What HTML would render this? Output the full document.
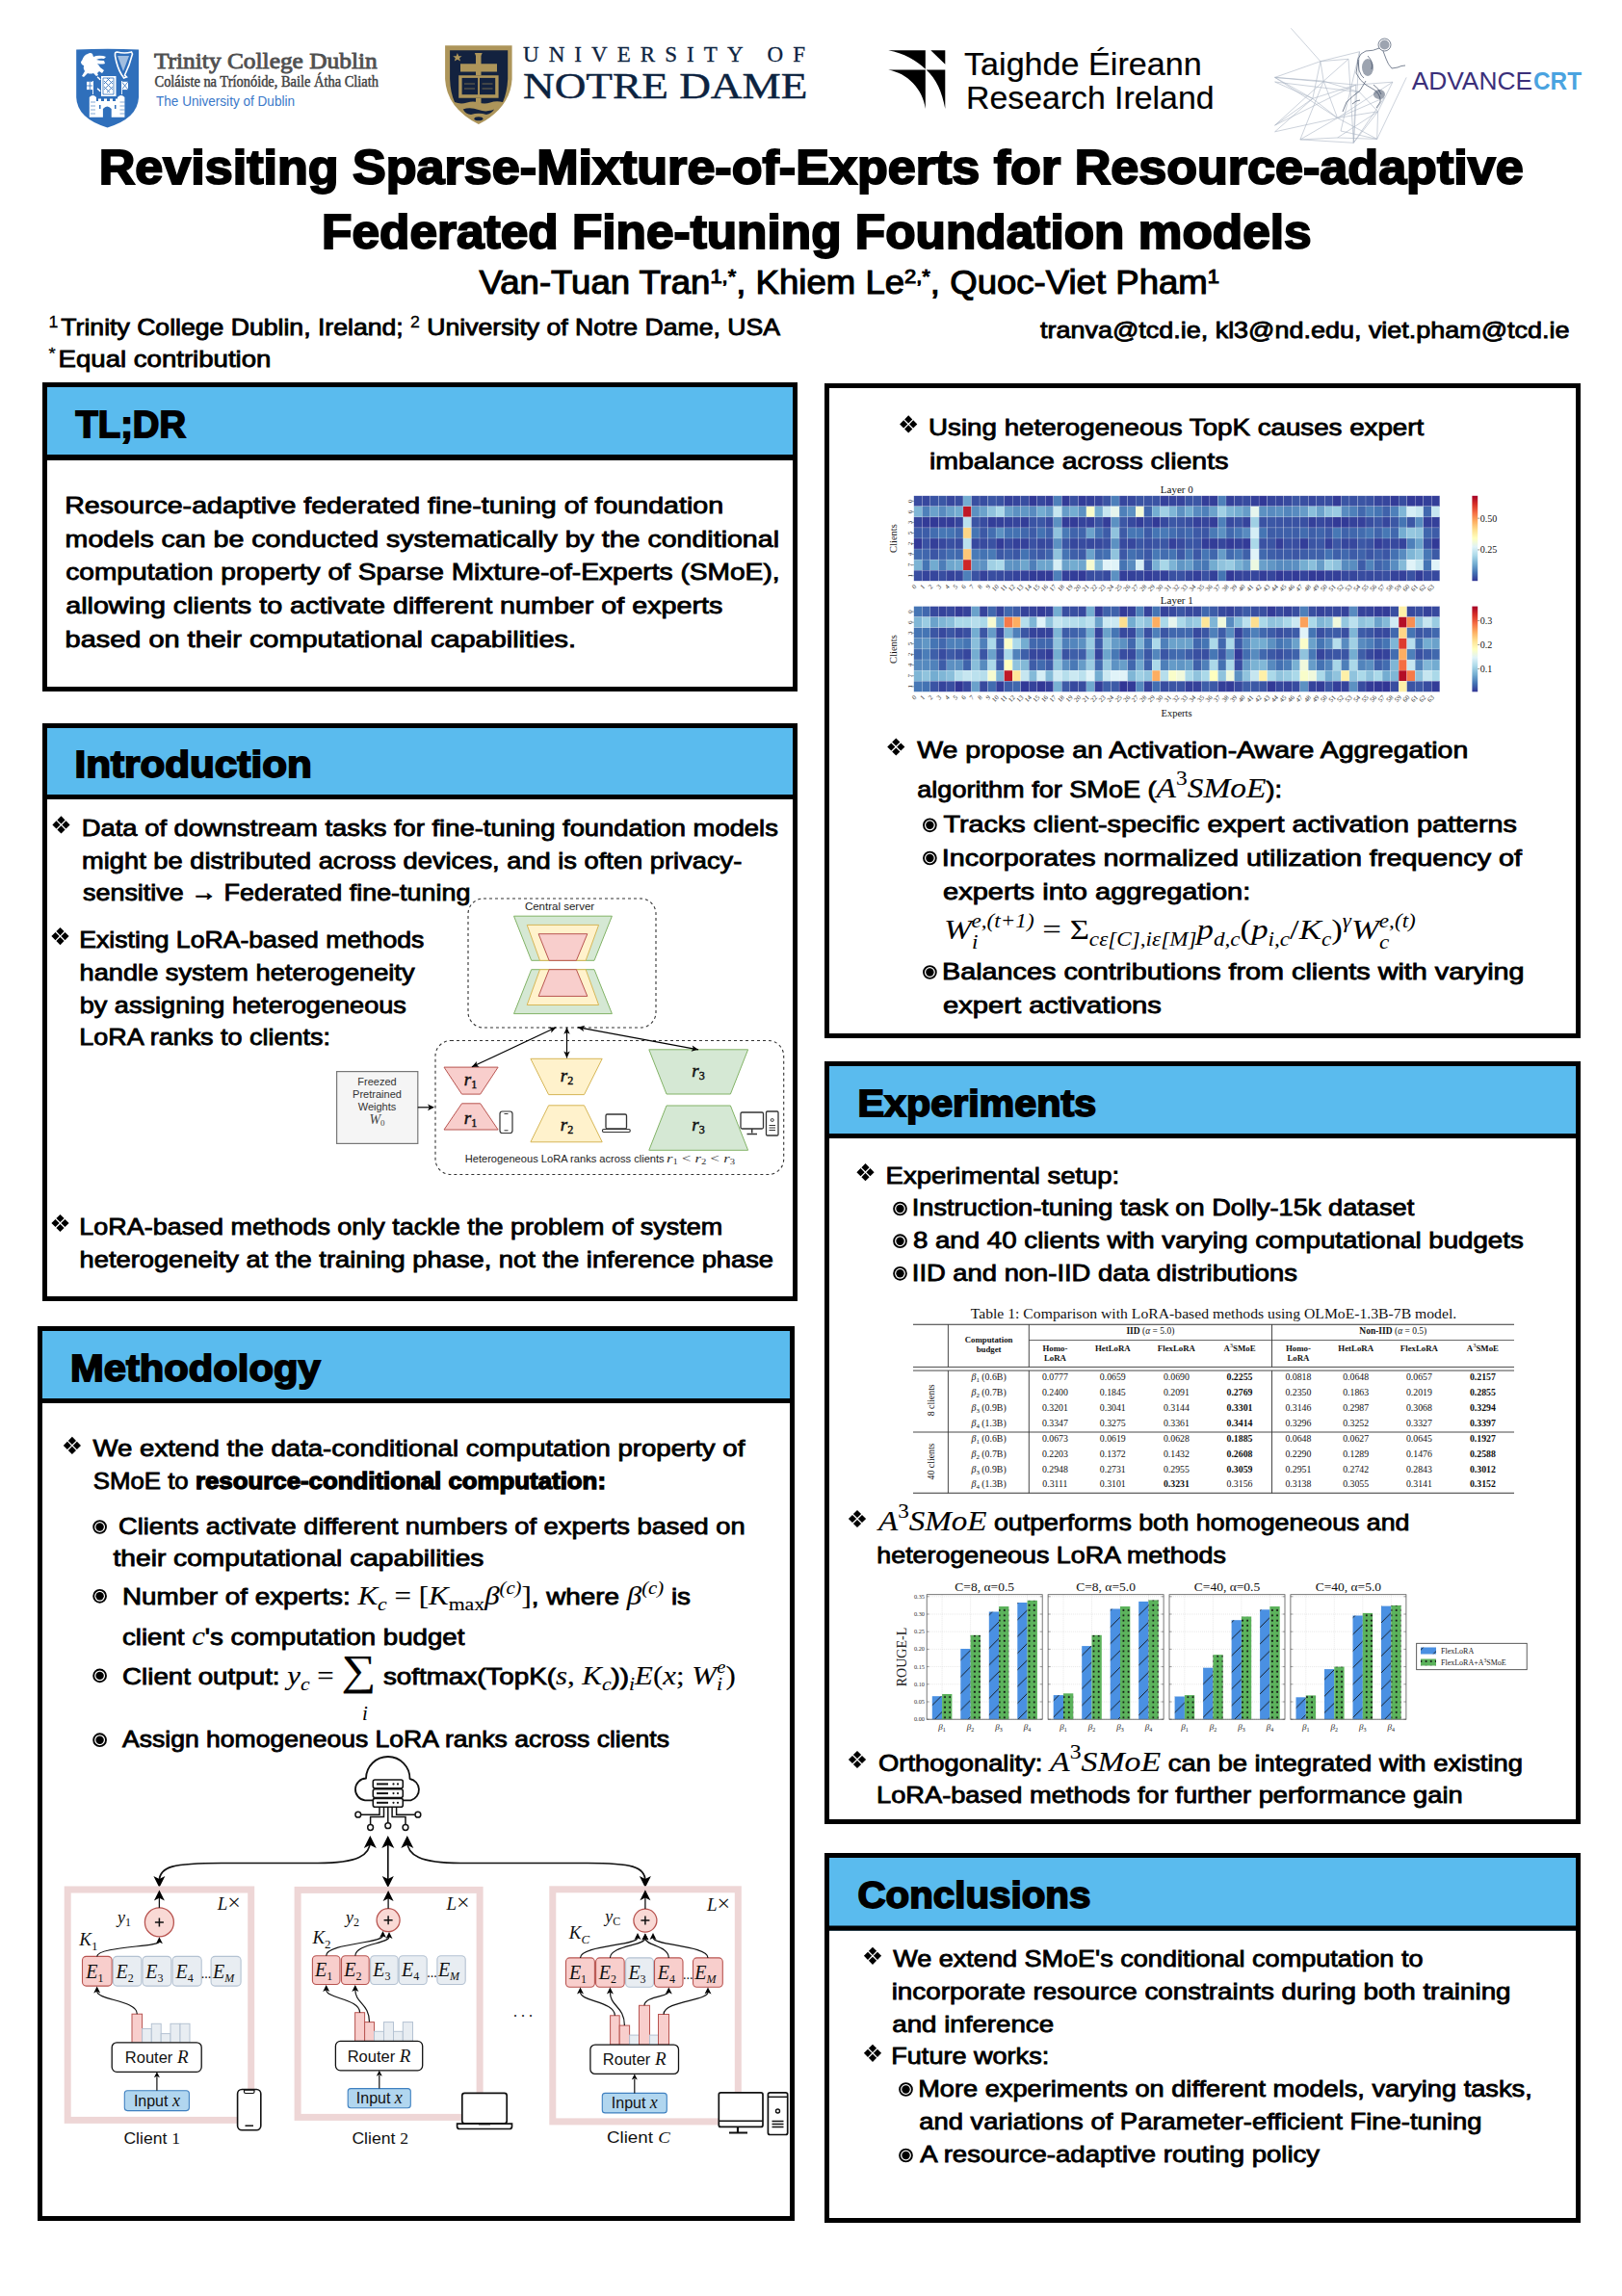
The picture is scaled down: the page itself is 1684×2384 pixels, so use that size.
<!DOCTYPE html>
<html><head><meta charset="utf-8"><title>Poster</title>
<style>html,body{margin:0;padding:0;background:#fff;}body{width:1684px;height:2384px;overflow:hidden;}svg{display:block;}</style>
</head><body>
<svg width="1684" height="2384" viewBox="0 0 1684 2384">
<rect width="1684" height="2384" fill="#fff"/>
<path d="M79.2,51.5 Q111.6,49.8 144,51.5 L144,101 Q143,123 111.5,132.4 Q80,123 79.2,101 Z" fill="#2f6fbb"/>
<path d="M85,63 q2,-6 6,-7 q3,-2 5,0 l1,3 q4,-2 10,-1 l3,1 -2,2 q-4,-1 -8,1 q3,1 8,1 l1,3 q-4,1 -8,0 q2,2 3,4 l4,3 -2,3 -3,-2 -2,2 1,2 -2,1 -3,-3 q-3,1 -6,0 l-4,4 -2,-1 3,-5 q-2,-3 -1,-6 q-3,-1 -3,-4z" fill="#ffffff"/>
<path d="M119.5,56 q0,-2 2,-2 q8,2 15,0 l1,2 q-3,12 -8,22 l2,2 -3,1 q-1,-2 -2,-3 q-5,-8 -7,-20z" fill="none" stroke="#ffffff" stroke-width="1.6"/>
<path d="M122,58 l12,0 -6,16z" fill="#ffffff" opacity="0.55"/>
<rect x="105" y="79" width="15.5" height="21" fill="#ffffff"/><path d="M107,81 l11,0 0,17 -11,0z" fill="none" stroke="#2f6fbb" stroke-width="0.8"/><path d="M108,84 l9,9 M108,90 l6,6 M111,81 l6,6 M117,84 l-9,9 M117,90 l-6,6 M114,81 l-6,6" stroke="#2f6fbb" stroke-width="0.85"/>
<path d="M101,80 q2,1 3,3 M101,92 q2,1 3,3" stroke="#ffffff" stroke-width="1.5" fill="none"/>
<rect x="90" y="84.8" width="6.7" height="8.3" fill="#ffffff"/><rect x="126.3" y="84.8" width="6.7" height="8.3" fill="#ffffff"/>
<path d="M93.3,84.8v8.3M90,89h6.7" stroke="#2f6fbb" stroke-width="0.8"/><path d="M126.3,84.8l6.7,8.3M133,84.8l-6.7,8.3" stroke="#2f6fbb" stroke-width="0.8"/>
<path d="M96.5,84v14M126.5,84v14" stroke="#ffffff" stroke-width="0.9"/>
<path d="M92.8,121.7 V101 q3.6,-4 7.2,0 V105 h2 v-2.5 h3 v2.5 h3 v-2.5 h3 v2.5 h3 v-2.5 h3 v2.5 h3 v-2.5 h2 V101 q3.7,-4 7.4,0 V121.7 H115.7 V113 q-4.4,-5 -8.8,0 V121.7 Z" fill="#ffffff"/>
<path d="M94,106h5M94,110h5M94,114h5M94,118h5M124.5,106h5M124.5,110h5M124.5,114h5M124.5,118h5" stroke="#2f6fbb" stroke-width="0.6"/><rect x="103" y="109" width="1.5" height="4" fill="#2f6fbb"/><rect x="119" y="109" width="1.5" height="4" fill="#2f6fbb"/>
<text x="160.0" y="70.7" font-family="'Liberation Serif', serif" font-size="24" font-weight="400" fill="#505050" textLength="231.7" lengthAdjust="spacingAndGlyphs" stroke="#505050" stroke-width="0.85">Trinity College Dublin</text>
<text x="160.5" y="90.4" font-family="'Liberation Serif', serif" font-size="16" font-weight="400" fill="#404040" textLength="232.5" lengthAdjust="spacingAndGlyphs" stroke="#404040" stroke-width="0.45">Coláiste na Tríonóide, Baile Átha Cliath</text>
<text x="162.0" y="110.0" font-family="'Liberation Sans', sans-serif" font-size="15" font-weight="400" fill="#3a78c9" textLength="144.0" lengthAdjust="spacingAndGlyphs" >The University of Dublin</text>
<path d="M462.1,47.3 L531.6,47.3 L531.6,82 Q530,112 496.9,129.1 Q463.5,112 462.1,82 Z" fill="#ad955a"/>
<path d="M467.1,52.3 L527.2,52.3 L527.2,82 Q526.5,96 522,106 Q515,104.5 509,106.5 Q503,108.5 497,106.5 Q491,104.5 485,106.5 Q478,108.5 472,106 Q467.5,96 467.1,82 Z" fill="#13223f"/>
<path d="M480.7,113.5 Q488,111 496.9,114 Q505,117 513.2,113.5 Q510,118.5 505,119 Q497,116.5 489,119 Q483.5,118.5 480.7,113.5Z" fill="#13223f"/>
<ellipse cx="496.9" cy="123.3" rx="4.5" ry="2" fill="#13223f"/>
<path d="M492.8,54.9 h7.9 l-1.2,3 V66.2 H516 V74.6 H499.5 V78.3 H494 V74.6 H478 V66.2 H494 V57.9 Z" fill="#ad955a"/>
<path d="M476.2,78.3 L517.6,78.3 L517.6,101.8 L476.2,101.8 Z" fill="#ad955a"/><rect x="479.6" y="80.9" width="16.5" height="17.3" fill="#13223f"/><rect x="498" y="80.9" width="16.2" height="17.3" fill="#13223f"/>
<path d="M482,87h11M482,92h11M500.5,87h11M500.5,92h11" stroke="#ad955a" stroke-width="1" opacity="0.6"/>
<rect x="494" y="101.8" width="5.5" height="6" fill="#ad955a"/>
<polygon points="474.9,55 476.2,58.2 479.6,58.2 477,60.3 478,63.6 474.9,61.7 471.8,63.6 472.8,60.3 470.2,58.2 473.6,58.2" fill="#ad955a"/>
<text x="543.0" y="63.8" font-family="'Liberation Serif', serif" font-size="23" font-weight="400" fill="#0c2340" textLength="293.0" lengthAdjust="spacing" stroke="#0c2340" stroke-width="0.3">UNIVERSITY OF</text>
<text x="543.0" y="101.5" font-family="'Liberation Serif', serif" font-size="38.5" font-weight="400" fill="#0c2340" textLength="295.4" lengthAdjust="spacingAndGlyphs" stroke="#0c2340" stroke-width="0.4">NOTRE DAME</text>
<g fill="#000"><path d="M922.2,52.2 L960.8,52.2 L960.8,71.8 C952,63 938,55 922.2,52.2 Z"/><path d="M966.3,52.2 L981.3,52.2 L981.3,66.7 Z"/><path d="M922.2,72.5 L960.8,72.5 L960.8,113 C958,92 942,76 922.2,72.5 Z"/><path d="M961.7,72.5 L981.3,72.5 L981.3,113 C978,95 972,82 961.7,72.5 Z"/></g>
<text x="1001.0" y="78.0" font-family="'Liberation Sans', sans-serif" font-size="34" font-weight="400" fill="#000" textLength="246.7" lengthAdjust="spacingAndGlyphs" stroke="#000" stroke-width="0.2">Taighde Éireann</text>
<text x="1003.0" y="112.6" font-family="'Liberation Sans', sans-serif" font-size="34" font-weight="400" fill="#000" textLength="257.5" lengthAdjust="spacingAndGlyphs" stroke="#000" stroke-width="0.2">Research Ireland</text>
<path d="M1340.3,29.3L1370.9,63.7M1370.9,63.7L1323.6,80.4M1370.9,63.7L1374.2,84.2M1370.9,63.7L1400,61.3M1370.9,63.7L1362.8,102.4M1323.6,80.4L1374.2,84.2M1323.6,80.4L1362.8,102.4M1323.6,80.4L1407.7,88.1M1374.2,84.2L1323.6,130.1M1374.2,84.2L1388.6,122.5M1374.2,84.2L1349.9,144.9M1374.2,84.2L1400,61.3M1362.8,102.4L1323.6,130.1M1362.8,102.4L1407.7,88.1M1362.8,102.4L1388.6,122.5M1323.6,136.8L1388.6,122.5M1349.9,144.9L1388.6,122.5M1349.9,144.9L1405.3,148.3M1388.6,122.5L1429.7,144.4M1388.6,122.5L1430.6,115.8M1388.6,143L1430.6,115.8M1405.3,148.3L1430.6,115.8M1405.3,148.3L1407.7,88.1M1400,61.3L1405.3,148.3M1411.5,53.7L1405.3,148.3M1445.9,85.2L1388.6,122.5M1460.2,80.4L1429.7,144.4M1323.6,85L1362.8,102.4M1323.6,85L1411.5,95.7M1323.6,130.1L1407.7,88.1M1370.9,63.7L1411.5,53.7M1374.2,84.2L1411.5,95.7M1349.9,144.9L1388.6,143M1388.6,143L1429.7,144.4M1429.7,144.4L1430.6,115.8M1430.6,115.8L1445.9,85.2M1437.3,101.4L1388.6,122.5M1323.6,80.4L1388.6,122.5M1323.6,136.8L1362.8,102.4M1407.7,88.1L1445.9,85.2M1411.5,53.7L1392,136M1392,136L1429.7,144.4M1437.3,101.4L1405.3,148.3M1411.5,95.7L1430.6,115.8" stroke="#a9b4c2" stroke-width="0.6" fill="none"/>
<g fill="none" stroke="#3d4b63" stroke-width="0.8" opacity="0.85"><circle cx="1437.5" cy="46.5" r="6.5"/><path d="M1432,50 q-6,3 -14,3 q-6,2 -8,8 l1,12 q2,6 5,8 M1436,53 l3,8 q2,6 6,10 l6,-1 q4,-2 8,-2 M1410,62 l-2,14 q4,8 10,12 l10,6 q6,6 5,12 l-4,6 M1418,84 l-6,10 q-8,6 -14,12 l-4,10"/><path d="M1420,58 q6,6 4,14 M1426,88 q6,4 8,10 M1404,108 q4,-4 8,-4"/></g>
<g fill="#3d4b63" opacity="0.5"><circle cx="1437.5" cy="46.5" r="5"/><ellipse cx="1420" cy="70" rx="6" ry="9"/><ellipse cx="1432" cy="98" rx="6" ry="5"/></g>
<text x="1465.7" y="93.0" font-family="'Liberation Sans', sans-serif" font-size="26" font-weight="400" fill="#3b2f7a" textLength="125.3" lengthAdjust="spacingAndGlyphs" >ADVANCE</text>
<text x="1592.0" y="93.0" font-family="'Liberation Sans', sans-serif" font-size="26" font-weight="700" fill="#4aa3e0" textLength="50.0" lengthAdjust="spacingAndGlyphs" >CRT</text>
<text x="102.7" y="190.6" font-family="'Liberation Sans', sans-serif" font-size="50" font-weight="700" fill="#000" textLength="1479.0" lengthAdjust="spacingAndGlyphs" stroke="#000" stroke-width="2">Revisiting Sparse-Mixture-of-Experts for Resource-adaptive</text>
<text x="334.1" y="257.8" font-family="'Liberation Sans', sans-serif" font-size="50" font-weight="700" fill="#000" textLength="1027.5" lengthAdjust="spacingAndGlyphs" stroke="#000" stroke-width="2">Federated Fine-tuning Foundation models</text>
<text x="497.6" y="305.1" font-family="'Liberation Sans', sans-serif" font-size="35" font-weight="400" fill="#000" textLength="768.4" lengthAdjust="spacingAndGlyphs" stroke="#000" stroke-width="1.1"><tspan>Van-Tuan Tran</tspan><tspan font-size="21" dy="-11">1,*</tspan><tspan dy="11">, Khiem Le</tspan><tspan font-size="21" dy="-11">2,*</tspan><tspan dy="11">, Quoc-Viet Pham</tspan><tspan font-size="21" dy="-11">1</tspan></text>
<text x="50.4" y="347.6" font-family="'Liberation Sans', sans-serif" font-size="24" font-weight="400" fill="#000" textLength="759.6" lengthAdjust="spacingAndGlyphs" stroke="#000" stroke-width="0.85"><tspan font-size="16" dy="-8" stroke-width="0.3">1</tspan><tspan dy="8" dx="-3.5"> Trinity College Dublin, Ireland; </tspan><tspan font-size="16" dy="-8" stroke-width="0.3">2</tspan><tspan dy="8"> University of Notre Dame, USA</tspan></text>
<text x="50.4" y="381.2" font-family="'Liberation Sans', sans-serif" font-size="24" font-weight="400" fill="#000" textLength="231.0" lengthAdjust="spacingAndGlyphs" stroke="#000" stroke-width="0.85"><tspan font-size="16" dy="-8" stroke-width="0.3">*</tspan><tspan dy="8" dx="-4"> Equal contribution</tspan></text>
<text x="1080.0" y="351.0" font-family="'Liberation Sans', sans-serif" font-size="24" font-weight="400" fill="#000" textLength="549.5" lengthAdjust="spacingAndGlyphs" stroke="#000" stroke-width="0.85">tranva@tcd.ie, kl3@nd.edu, viet.pham@tcd.ie</text>
<rect x="44" y="397" width="784" height="81" fill="#5abbee"/>
<rect x="44" y="397" width="784" height="5" fill="#000"/>
<rect x="44" y="713" width="784" height="5" fill="#000"/>
<rect x="44" y="397" width="5" height="321" fill="#000"/>
<rect x="823" y="397" width="5" height="321" fill="#000"/>
<rect x="44" y="472" width="784" height="6" fill="#000"/>
<text x="78.5" y="453.5" font-family="'Liberation Sans', sans-serif" font-size="38.8" font-weight="700" fill="#000" textLength="114.5" lengthAdjust="spacingAndGlyphs" stroke="#000" stroke-width="1.8">TL;DR</text>
<rect x="44" y="751" width="784" height="79" fill="#5abbee"/>
<rect x="44" y="751" width="784" height="5" fill="#000"/>
<rect x="44" y="1346" width="784" height="5" fill="#000"/>
<rect x="44" y="751" width="5" height="600" fill="#000"/>
<rect x="823" y="751" width="5" height="600" fill="#000"/>
<rect x="44" y="825" width="784" height="5" fill="#000"/>
<text x="77.4" y="806.8" font-family="'Liberation Sans', sans-serif" font-size="38.8" font-weight="700" fill="#000" textLength="246.4" lengthAdjust="spacingAndGlyphs" stroke="#000" stroke-width="1.8">Introduction</text>
<rect x="39" y="1377" width="786" height="80" fill="#5abbee"/>
<rect x="39" y="1377" width="786" height="5" fill="#000"/>
<rect x="39" y="2301" width="786" height="5" fill="#000"/>
<rect x="39" y="1377" width="5" height="929" fill="#000"/>
<rect x="820" y="1377" width="5" height="929" fill="#000"/>
<rect x="39" y="1452" width="786" height="5" fill="#000"/>
<text x="73.0" y="1433.9" font-family="'Liberation Sans', sans-serif" font-size="38.8" font-weight="700" fill="#000" textLength="259.6" lengthAdjust="spacingAndGlyphs" stroke="#000" stroke-width="1.8">Methodology</text>
<rect x="856" y="398" width="785" height="5" fill="#000"/>
<rect x="856" y="1073" width="785" height="5" fill="#000"/>
<rect x="856" y="398" width="5" height="680" fill="#000"/>
<rect x="1636" y="398" width="5" height="680" fill="#000"/>
<rect x="856" y="1102" width="785" height="80" fill="#5abbee"/>
<rect x="856" y="1102" width="785" height="5" fill="#000"/>
<rect x="856" y="1889" width="785" height="5" fill="#000"/>
<rect x="856" y="1102" width="5" height="792" fill="#000"/>
<rect x="1636" y="1102" width="5" height="792" fill="#000"/>
<rect x="856" y="1177" width="785" height="5" fill="#000"/>
<text x="890.5" y="1158.7" font-family="'Liberation Sans', sans-serif" font-size="38.8" font-weight="700" fill="#000" textLength="247.6" lengthAdjust="spacingAndGlyphs" stroke="#000" stroke-width="1.8">Experiments</text>
<rect x="856" y="1924" width="785" height="80.70000000000005" fill="#5abbee"/>
<rect x="856" y="1924" width="785" height="5" fill="#000"/>
<rect x="856" y="2303" width="785" height="5" fill="#000"/>
<rect x="856" y="1924" width="5" height="384" fill="#000"/>
<rect x="1636" y="1924" width="5" height="384" fill="#000"/>
<rect x="856" y="1999.5" width="785" height="5.2000000000000455" fill="#000"/>
<text x="890.5" y="1980.6" font-family="'Liberation Sans', sans-serif" font-size="38.8" font-weight="700" fill="#000" textLength="241.9" lengthAdjust="spacingAndGlyphs" stroke="#000" stroke-width="1.8">Conclusions</text>
<text x="67.2" y="532.5" font-family="'Liberation Sans', sans-serif" font-size="24.3" font-weight="400" fill="#000" textLength="683.9" lengthAdjust="spacingAndGlyphs" stroke="#000" stroke-width="0.85">Resource-adaptive federated fine-tuning of foundation</text>
<text x="67.6" y="567.5" font-family="'Liberation Sans', sans-serif" font-size="24.3" font-weight="400" fill="#000" textLength="741.4" lengthAdjust="spacingAndGlyphs" stroke="#000" stroke-width="0.85">models can be conducted systematically by the conditional</text>
<text x="68.2" y="602.0" font-family="'Liberation Sans', sans-serif" font-size="24.3" font-weight="400" fill="#000" textLength="741.4" lengthAdjust="spacingAndGlyphs" stroke="#000" stroke-width="0.85">computation property of Sparse Mixture-of-Experts (SMoE),</text>
<text x="68.2" y="637.1" font-family="'Liberation Sans', sans-serif" font-size="24.3" font-weight="400" fill="#000" textLength="682.2" lengthAdjust="spacingAndGlyphs" stroke="#000" stroke-width="0.85">allowing clients to activate different number of experts</text>
<text x="67.6" y="671.8" font-family="'Liberation Sans', sans-serif" font-size="24.3" font-weight="400" fill="#000" textLength="530.5" lengthAdjust="spacingAndGlyphs" stroke="#000" stroke-width="0.85">based on their computational capabilities.</text>
<path d="M63.50,847.30L67.60,851.40L63.50,855.50L59.40,851.40ZM63.50,857.30L67.60,861.40L63.50,865.50L59.40,861.40ZM58.50,852.30L62.60,856.40L58.50,860.50L54.40,856.40ZM68.50,852.30L72.60,856.40L68.50,860.50L64.40,856.40Z" fill="#000"/>
<text x="84.7" y="868.1" font-family="'Liberation Sans', sans-serif" font-size="24.3" font-weight="400" fill="#000" textLength="723.2" lengthAdjust="spacingAndGlyphs" stroke="#000" stroke-width="0.85">Data of downstream tasks for fine-tuning foundation models</text>
<text x="85.1" y="901.7" font-family="'Liberation Sans', sans-serif" font-size="24.3" font-weight="400" fill="#000" textLength="685.2" lengthAdjust="spacingAndGlyphs" stroke="#000" stroke-width="0.85">might be distributed across devices, and is often privacy-</text>
<text x="86.0" y="934.7" font-family="'Liberation Sans', sans-serif" font-size="24.3" font-weight="400" fill="#000" textLength="402.4" lengthAdjust="spacingAndGlyphs" stroke="#000" stroke-width="0.85">sensitive → Federated fine-tuning</text>
<path d="M62.50,963.00L66.60,967.10L62.50,971.20L58.40,967.10ZM62.50,973.00L66.60,977.10L62.50,981.20L58.40,977.10ZM57.50,968.00L61.60,972.10L57.50,976.20L53.40,972.10ZM67.50,968.00L71.60,972.10L67.50,976.20L63.40,972.10Z" fill="#000"/>
<text x="82.3" y="983.6" font-family="'Liberation Sans', sans-serif" font-size="24.3" font-weight="400" fill="#000" textLength="358.0" lengthAdjust="spacingAndGlyphs" stroke="#000" stroke-width="0.85">Existing LoRA-based methods</text>
<text x="82.6" y="1018.1" font-family="'Liberation Sans', sans-serif" font-size="24.3" font-weight="400" fill="#000" textLength="347.9" lengthAdjust="spacingAndGlyphs" stroke="#000" stroke-width="0.85">handle system heterogeneity</text>
<text x="82.7" y="1051.7" font-family="'Liberation Sans', sans-serif" font-size="24.3" font-weight="400" fill="#000" textLength="339.2" lengthAdjust="spacingAndGlyphs" stroke="#000" stroke-width="0.85">by assigning heterogeneous</text>
<text x="82.3" y="1085.2" font-family="'Liberation Sans', sans-serif" font-size="24.3" font-weight="400" fill="#000" textLength="260.6" lengthAdjust="spacingAndGlyphs" stroke="#000" stroke-width="0.85">LoRA ranks to clients:</text>
<path d="M62.50,1260.90L66.60,1265.00L62.50,1269.10L58.40,1265.00ZM62.50,1270.90L66.60,1275.00L62.50,1279.10L58.40,1275.00ZM57.50,1265.90L61.60,1270.00L57.50,1274.10L53.40,1270.00ZM67.50,1265.90L71.60,1270.00L67.50,1274.10L63.40,1270.00Z" fill="#000"/>
<text x="82.3" y="1281.5" font-family="'Liberation Sans', sans-serif" font-size="24.3" font-weight="400" fill="#000" textLength="667.9" lengthAdjust="spacingAndGlyphs" stroke="#000" stroke-width="0.85">LoRA-based methods only tackle the problem of system</text>
<text x="82.6" y="1316.0" font-family="'Liberation Sans', sans-serif" font-size="24.3" font-weight="400" fill="#000" textLength="720.4" lengthAdjust="spacingAndGlyphs" stroke="#000" stroke-width="0.85">heterogeneity at the training phase, not the inference phase</text>
<path d="M74.90,1491.80L79.00,1495.90L74.90,1500.00L70.80,1495.90ZM74.90,1501.80L79.00,1505.90L74.90,1510.00L70.80,1505.90ZM69.90,1496.80L74.00,1500.90L69.90,1505.00L65.80,1500.90ZM79.90,1496.80L84.00,1500.90L79.90,1505.00L75.80,1500.90Z" fill="#000"/>
<text x="96.6" y="1512.4" font-family="'Liberation Sans', sans-serif" font-size="24.3" font-weight="400" fill="#000" textLength="676.7" lengthAdjust="spacingAndGlyphs" stroke="#000" stroke-width="0.85">We extend the data-conditional computation property of</text>
<text x="96.7" y="1546.4" font-family="'Liberation Sans', sans-serif" font-size="24.3" font-weight="400" fill="#000" textLength="532.3" lengthAdjust="spacingAndGlyphs" stroke="#000" stroke-width="0.85">SMoE to <tspan font-weight="700" stroke-width="1.3">resource-conditional computation:</tspan></text>
<circle cx="103.6" cy="1585.5" r="6.4" fill="none" stroke="#000" stroke-width="1.9"/>
<circle cx="103.6" cy="1585.5" r="4.2" fill="#000"/>
<text x="123.0" y="1593.2" font-family="'Liberation Sans', sans-serif" font-size="24.3" font-weight="400" fill="#000" textLength="650.6" lengthAdjust="spacingAndGlyphs" stroke="#000" stroke-width="0.85">Clients activate different numbers of experts based on</text>
<text x="117.5" y="1626.4" font-family="'Liberation Sans', sans-serif" font-size="24.3" font-weight="400" fill="#000" textLength="384.9" lengthAdjust="spacingAndGlyphs" stroke="#000" stroke-width="0.85">their computational capabilities</text>
<circle cx="103.6" cy="1657.3" r="6.4" fill="none" stroke="#000" stroke-width="1.9"/>
<circle cx="103.6" cy="1657.3" r="4.2" fill="#000"/>
<text x="127.0" y="1665.9" font-family="'Liberation Sans', sans-serif" font-size="24.3" font-weight="400" fill="#000" textLength="590.0" lengthAdjust="spacingAndGlyphs" stroke="#000" stroke-width="0.85">Number of experts: <tspan font-family="'Liberation Serif', serif" font-size="27" font-weight="400" stroke-width="0.15" font-style="italic">K</tspan><tspan font-family="'Liberation Serif', serif" font-size="19" font-weight="400" stroke-width="0.1" baseline-shift="-6" font-style="italic">c</tspan><tspan font-family="'Liberation Serif', serif" font-size="27" font-weight="400" stroke-width="0.15"> = </tspan><tspan font-family="'Liberation Serif', serif" font-size="27" font-weight="400" stroke-width="0.15">[</tspan><tspan font-family="'Liberation Serif', serif" font-size="27" font-weight="400" stroke-width="0.15" font-style="italic">K</tspan><tspan font-family="'Liberation Serif', serif" font-size="19" font-weight="400" stroke-width="0.1" baseline-shift="-6">max</tspan><tspan font-family="'Liberation Serif', serif" font-size="27" font-weight="400" stroke-width="0.15" font-style="italic">β</tspan><tspan font-family="'Liberation Serif', serif" font-size="18" font-weight="400" stroke-width="0.1" baseline-shift="11" font-style="italic">(c)</tspan><tspan font-family="'Liberation Serif', serif" font-size="27" font-weight="400" stroke-width="0.15">]</tspan>, where <tspan font-family="'Liberation Serif', serif" font-size="27" font-weight="400" stroke-width="0.15" font-style="italic">β</tspan><tspan font-family="'Liberation Serif', serif" font-size="18" font-weight="400" stroke-width="0.1" baseline-shift="11" font-style="italic">(c)</tspan> is</text>
<text x="127.0" y="1707.8" font-family="'Liberation Sans', sans-serif" font-size="24.3" font-weight="400" fill="#000" textLength="355.4" lengthAdjust="spacingAndGlyphs" stroke="#000" stroke-width="0.85">client <tspan font-family="'Liberation Serif', serif" font-size="27" font-weight="400" stroke-width="0.15" font-style="italic">c</tspan>'s computation budget</text>
<circle cx="103.6" cy="1739.9" r="6.4" fill="none" stroke="#000" stroke-width="1.9"/>
<circle cx="103.6" cy="1739.9" r="4.2" fill="#000"/>
<text x="127.0" y="1748.5" font-family="'Liberation Sans', sans-serif" font-size="24.3" font-weight="400" fill="#000" textLength="636.7" lengthAdjust="spacingAndGlyphs" stroke="#000" stroke-width="0.85">Client output: <tspan font-family="'Liberation Serif', serif" font-size="27" font-weight="400" stroke-width="0.15" font-style="italic">y</tspan><tspan font-family="'Liberation Serif', serif" font-size="19" font-weight="400" stroke-width="0.1" baseline-shift="-6" font-style="italic">c</tspan><tspan font-family="'Liberation Serif', serif" font-size="27" font-weight="400" stroke-width="0.15"> = </tspan><tspan font-family="'Liberation Serif', serif" font-size="44" font-weight="400" stroke-width="0.15">∑</tspan> softmax(TopK(<tspan font-family="'Liberation Serif', serif" font-size="27" font-weight="400" stroke-width="0.15" font-style="italic">s</tspan><tspan font-family="'Liberation Serif', serif" font-size="27" font-weight="400" stroke-width="0.15">, </tspan><tspan font-family="'Liberation Serif', serif" font-size="27" font-weight="400" stroke-width="0.15" font-style="italic">K</tspan><tspan font-family="'Liberation Serif', serif" font-size="19" font-weight="400" stroke-width="0.1" baseline-shift="-6" font-style="italic">c</tspan>))<tspan font-family="'Liberation Serif', serif" font-size="19" font-weight="400" stroke-width="0.1" baseline-shift="-6" font-style="italic">i</tspan><tspan font-family="'Liberation Serif', serif" font-size="27" font-weight="400" stroke-width="0.15" font-style="italic">E</tspan><tspan font-family="'Liberation Serif', serif" font-size="27" font-weight="400" stroke-width="0.15">(</tspan><tspan font-family="'Liberation Serif', serif" font-size="27" font-weight="400" stroke-width="0.15" font-style="italic">x</tspan><tspan font-family="'Liberation Serif', serif" font-size="27" font-weight="400" stroke-width="0.15">; </tspan><tspan font-family="'Liberation Serif', serif" font-size="27" font-weight="400" stroke-width="0.15" font-style="italic">W</tspan><tspan font-family="'Liberation Serif', serif" font-size="19" font-weight="400" stroke-width="0.1" baseline-shift="-6" font-style="italic">i</tspan><tspan font-family="'Liberation Serif', serif" font-size="18" font-weight="400" stroke-width="0.1" baseline-shift="12" font-style="italic" dx="-5">e</tspan><tspan font-family="'Liberation Serif', serif" font-size="27" font-weight="400" stroke-width="0.15">)</tspan></text>
<text x="376.0" y="1785.5" font-family="'Liberation Serif', serif" font-size="21" font-weight="400" fill="#000" font-style="italic" >i</text>
<circle cx="103.6" cy="1806.7" r="6.4" fill="none" stroke="#000" stroke-width="1.9"/>
<circle cx="103.6" cy="1806.7" r="4.2" fill="#000"/>
<text x="127.0" y="1814.4" font-family="'Liberation Sans', sans-serif" font-size="24.3" font-weight="400" fill="#000" textLength="567.9" lengthAdjust="spacingAndGlyphs" stroke="#000" stroke-width="0.85">Assign homogeneous LoRA ranks across clients</text>
<path d="M943.20,431.30L947.30,435.40L943.20,439.50L939.10,435.40ZM943.20,441.30L947.30,445.40L943.20,449.50L939.10,445.40ZM938.20,436.30L942.30,440.40L938.20,444.50L934.10,440.40ZM948.20,436.30L952.30,440.40L948.20,444.50L944.10,440.40Z" fill="#000"/>
<text x="964.1" y="451.6" font-family="'Liberation Sans', sans-serif" font-size="24.3" font-weight="400" fill="#000" textLength="514.1" lengthAdjust="spacingAndGlyphs" stroke="#000" stroke-width="0.85">Using heterogeneous TopK causes expert</text>
<text x="964.9" y="487.4" font-family="'Liberation Sans', sans-serif" font-size="24.3" font-weight="400" fill="#000" textLength="310.5" lengthAdjust="spacingAndGlyphs" stroke="#000" stroke-width="0.85">imbalance across clients</text>
<path d="M930.30,766.40L934.40,770.50L930.30,774.60L926.20,770.50ZM930.30,776.40L934.40,780.50L930.30,784.60L926.20,780.50ZM925.30,771.40L929.40,775.50L925.30,779.60L921.20,775.50ZM935.30,771.40L939.40,775.50L935.30,779.60L931.20,775.50Z" fill="#000"/>
<text x="952.2" y="787.0" font-family="'Liberation Sans', sans-serif" font-size="24.3" font-weight="400" fill="#000" textLength="572.1" lengthAdjust="spacingAndGlyphs" stroke="#000" stroke-width="0.85">We propose an Activation-Aware Aggregation</text>
<text x="952.3" y="828.2" font-family="'Liberation Sans', sans-serif" font-size="24.3" font-weight="400" fill="#000" textLength="378.7" lengthAdjust="spacingAndGlyphs" stroke="#000" stroke-width="0.85">algorithm for SMoE (<tspan font-family="'Liberation Serif', serif" font-size="30" font-weight="400" stroke-width="0.15" font-style="italic">A</tspan><tspan font-family="'Liberation Serif', serif" font-size="21" font-weight="400" stroke-width="0.1" baseline-shift="13">3</tspan><tspan font-family="'Liberation Serif', serif" font-size="30" font-weight="400" stroke-width="0.15" font-style="italic">SMoE</tspan>):</text>
<circle cx="965.4" cy="856.8" r="6.4" fill="none" stroke="#000" stroke-width="1.9"/>
<circle cx="965.4" cy="856.8" r="4.2" fill="#000"/>
<text x="979.5" y="864.0" font-family="'Liberation Sans', sans-serif" font-size="24.3" font-weight="400" fill="#000" textLength="595.4" lengthAdjust="spacingAndGlyphs" stroke="#000" stroke-width="0.85">Tracks client-specific expert activation patterns</text>
<circle cx="965.4" cy="891.0" r="6.4" fill="none" stroke="#000" stroke-width="1.9"/>
<circle cx="965.4" cy="891.0" r="4.2" fill="#000"/>
<text x="977.8" y="898.6" font-family="'Liberation Sans', sans-serif" font-size="24.3" font-weight="400" fill="#000" textLength="602.2" lengthAdjust="spacingAndGlyphs" stroke="#000" stroke-width="0.85">Incorporates normalized utilization frequency of</text>
<text x="979.0" y="933.7" font-family="'Liberation Sans', sans-serif" font-size="24.3" font-weight="400" fill="#000" textLength="319.3" lengthAdjust="spacingAndGlyphs" stroke="#000" stroke-width="0.85">experts into aggregation:</text>
<text x="980.0" y="974.9" font-family="'Liberation Sans', sans-serif" font-size="25" font-weight="400" fill="#000" textLength="489.8" lengthAdjust="spacingAndGlyphs" ><tspan font-family="'Liberation Serif', serif" font-size="30" font-weight="400" stroke-width="0.15" font-style="italic">W</tspan><tspan font-family="'Liberation Serif', serif" font-size="20" font-weight="400" stroke-width="0.1" baseline-shift="-10" font-style="italic">i</tspan><tspan font-family="'Liberation Serif', serif" font-size="20" font-weight="400" stroke-width="0.1" baseline-shift="12" font-style="italic" dx="-6">e,(t+1)</tspan><tspan font-family="'Liberation Serif', serif" font-size="30" font-weight="400" stroke-width="0.15"> = Σ</tspan><tspan font-family="'Liberation Serif', serif" font-size="20" font-weight="400" stroke-width="0.1" baseline-shift="-7" font-style="italic">cε[C],iε[M]</tspan><tspan font-family="'Liberation Serif', serif" font-size="30" font-weight="400" stroke-width="0.15" font-style="italic">p</tspan><tspan font-family="'Liberation Serif', serif" font-size="20" font-weight="400" stroke-width="0.1" baseline-shift="-7" font-style="italic">d,c</tspan><tspan font-family="'Liberation Serif', serif" font-size="30" font-weight="400" stroke-width="0.15">(</tspan><tspan font-family="'Liberation Serif', serif" font-size="30" font-weight="400" stroke-width="0.15" font-style="italic">p</tspan><tspan font-family="'Liberation Serif', serif" font-size="20" font-weight="400" stroke-width="0.1" baseline-shift="-7" font-style="italic">i,c</tspan><tspan font-family="'Liberation Serif', serif" font-size="30" font-weight="400" stroke-width="0.15">/</tspan><tspan font-family="'Liberation Serif', serif" font-size="30" font-weight="400" stroke-width="0.15" font-style="italic">K</tspan><tspan font-family="'Liberation Serif', serif" font-size="20" font-weight="400" stroke-width="0.1" baseline-shift="-7" font-style="italic">c</tspan><tspan font-family="'Liberation Serif', serif" font-size="30" font-weight="400" stroke-width="0.15">)</tspan><tspan font-family="'Liberation Serif', serif" font-size="20" font-weight="400" stroke-width="0.1" baseline-shift="12" font-style="italic">γ</tspan><tspan font-family="'Liberation Serif', serif" font-size="30" font-weight="400" stroke-width="0.15" font-style="italic">W</tspan><tspan font-family="'Liberation Serif', serif" font-size="20" font-weight="400" stroke-width="0.1" baseline-shift="-10" font-style="italic">c</tspan><tspan font-family="'Liberation Serif', serif" font-size="20" font-weight="400" stroke-width="0.1" baseline-shift="12" font-style="italic" dx="-9">e,(t)</tspan></text>
<circle cx="965.4" cy="1009.5" r="6.4" fill="none" stroke="#000" stroke-width="1.9"/>
<circle cx="965.4" cy="1009.5" r="4.2" fill="#000"/>
<text x="978.0" y="1016.9" font-family="'Liberation Sans', sans-serif" font-size="24.3" font-weight="400" fill="#000" textLength="604.6" lengthAdjust="spacingAndGlyphs" stroke="#000" stroke-width="0.85">Balances contributions from clients with varying</text>
<text x="979.0" y="1051.5" font-family="'Liberation Sans', sans-serif" font-size="24.3" font-weight="400" fill="#000" textLength="226.9" lengthAdjust="spacingAndGlyphs" stroke="#000" stroke-width="0.85">expert activations</text>
<path d="M898.50,1208.10L902.60,1212.20L898.50,1216.30L894.40,1212.20ZM898.50,1218.10L902.60,1222.20L898.50,1226.30L894.40,1222.20ZM893.50,1213.10L897.60,1217.20L893.50,1221.30L889.40,1217.20ZM903.50,1213.10L907.60,1217.20L903.50,1221.30L899.40,1217.20Z" fill="#000"/>
<text x="919.6" y="1228.7" font-family="'Liberation Sans', sans-serif" font-size="24.3" font-weight="400" fill="#000" textLength="242.6" lengthAdjust="spacingAndGlyphs" stroke="#000" stroke-width="0.85">Experimental setup:</text>
<circle cx="934.5" cy="1255.0" r="6.4" fill="none" stroke="#000" stroke-width="1.9"/>
<circle cx="934.5" cy="1255.0" r="4.2" fill="#000"/>
<text x="946.8" y="1262.4" font-family="'Liberation Sans', sans-serif" font-size="24.3" font-weight="400" fill="#000" textLength="521.4" lengthAdjust="spacingAndGlyphs" stroke="#000" stroke-width="0.85">Instruction-tuning task on Dolly-15k dataset</text>
<circle cx="934.5" cy="1288.7" r="6.4" fill="none" stroke="#000" stroke-width="1.9"/>
<circle cx="934.5" cy="1288.7" r="4.2" fill="#000"/>
<text x="947.9" y="1296.1" font-family="'Liberation Sans', sans-serif" font-size="24.3" font-weight="400" fill="#000" textLength="633.9" lengthAdjust="spacingAndGlyphs" stroke="#000" stroke-width="0.85">8 and 40 clients with varying computational budgets</text>
<circle cx="934.5" cy="1322.3" r="6.4" fill="none" stroke="#000" stroke-width="1.9"/>
<circle cx="934.5" cy="1322.3" r="4.2" fill="#000"/>
<text x="946.8" y="1329.7" font-family="'Liberation Sans', sans-serif" font-size="24.3" font-weight="400" fill="#000" textLength="400.1" lengthAdjust="spacingAndGlyphs" stroke="#000" stroke-width="0.85">IID and non-IID data distributions</text>
<path d="M890.00,1567.90L894.10,1572.00L890.00,1576.10L885.90,1572.00ZM890.00,1577.90L894.10,1582.00L890.00,1586.10L885.90,1582.00ZM885.00,1572.90L889.10,1577.00L885.00,1581.10L880.90,1577.00ZM895.00,1572.90L899.10,1577.00L895.00,1581.10L890.90,1577.00Z" fill="#000"/>
<text x="912.0" y="1588.5" font-family="'Liberation Sans', sans-serif" font-size="24.3" font-weight="400" fill="#000" textLength="551.5" lengthAdjust="spacingAndGlyphs" stroke="#000" stroke-width="0.85"><tspan font-family="'Liberation Serif', serif" font-size="30" font-weight="400" stroke-width="0.15" font-style="italic">A</tspan><tspan font-family="'Liberation Serif', serif" font-size="21" font-weight="400" stroke-width="0.1" baseline-shift="13">3</tspan><tspan font-family="'Liberation Serif', serif" font-size="30" font-weight="400" stroke-width="0.15" font-style="italic">SMoE</tspan> outperforms both homogeneous and</text>
<text x="910.3" y="1623.3" font-family="'Liberation Sans', sans-serif" font-size="24.3" font-weight="400" fill="#000" textLength="362.6" lengthAdjust="spacingAndGlyphs" stroke="#000" stroke-width="0.85">heterogeneous LoRA methods</text>
<path d="M890.00,1817.90L894.10,1822.00L890.00,1826.10L885.90,1822.00ZM890.00,1827.90L894.10,1832.00L890.00,1836.10L885.90,1832.00ZM885.00,1822.90L889.10,1827.00L885.00,1831.10L880.90,1827.00ZM895.00,1822.90L899.10,1827.00L895.00,1831.10L890.90,1827.00Z" fill="#000"/>
<text x="912.0" y="1838.5" font-family="'Liberation Sans', sans-serif" font-size="24.3" font-weight="400" fill="#000" textLength="669.0" lengthAdjust="spacingAndGlyphs" stroke="#000" stroke-width="0.85">Orthogonality:  <tspan font-family="'Liberation Serif', serif" font-size="30" font-weight="400" stroke-width="0.15" font-style="italic">A</tspan><tspan font-family="'Liberation Serif', serif" font-size="21" font-weight="400" stroke-width="0.1" baseline-shift="13">3</tspan><tspan font-family="'Liberation Serif', serif" font-size="30" font-weight="400" stroke-width="0.15" font-style="italic">SMoE</tspan> can be integrated with existing</text>
<text x="910.0" y="1871.9" font-family="'Liberation Sans', sans-serif" font-size="24.3" font-weight="400" fill="#000" textLength="608.6" lengthAdjust="spacingAndGlyphs" stroke="#000" stroke-width="0.85">LoRA-based methods for further performance gain</text>
<path d="M906.00,2021.70L910.10,2025.80L906.00,2029.90L901.90,2025.80ZM906.00,2031.70L910.10,2035.80L906.00,2039.90L901.90,2035.80ZM901.00,2026.70L905.10,2030.80L901.00,2034.90L896.90,2030.80ZM911.00,2026.70L915.10,2030.80L911.00,2034.90L906.90,2030.80Z" fill="#000"/>
<text x="927.2" y="2042.3" font-family="'Liberation Sans', sans-serif" font-size="24.3" font-weight="400" fill="#000" textLength="550.3" lengthAdjust="spacingAndGlyphs" stroke="#000" stroke-width="0.85">We extend SMoE's conditional computation to</text>
<text x="925.7" y="2076.0" font-family="'Liberation Sans', sans-serif" font-size="24.3" font-weight="400" fill="#000" textLength="642.9" lengthAdjust="spacingAndGlyphs" stroke="#000" stroke-width="0.85">incorporate resource constraints during both training</text>
<text x="926.3" y="2109.7" font-family="'Liberation Sans', sans-serif" font-size="24.3" font-weight="400" fill="#000" textLength="167.8" lengthAdjust="spacingAndGlyphs" stroke="#000" stroke-width="0.85">and inference</text>
<path d="M906.00,2122.70L910.10,2126.80L906.00,2130.90L901.90,2126.80ZM906.00,2132.70L910.10,2136.80L906.00,2140.90L901.90,2136.80ZM901.00,2127.70L905.10,2131.80L901.00,2135.90L896.90,2131.80ZM911.00,2127.70L915.10,2131.80L911.00,2135.90L906.90,2131.80Z" fill="#000"/>
<text x="925.3" y="2143.3" font-family="'Liberation Sans', sans-serif" font-size="24.3" font-weight="400" fill="#000" textLength="163.9" lengthAdjust="spacingAndGlyphs" stroke="#000" stroke-width="0.85">Future works:</text>
<circle cx="940.5" cy="2169.5" r="6.4" fill="none" stroke="#000" stroke-width="1.9"/>
<circle cx="940.5" cy="2169.5" r="4.2" fill="#000"/>
<text x="953.2" y="2177.0" font-family="'Liberation Sans', sans-serif" font-size="24.3" font-weight="400" fill="#000" textLength="637.5" lengthAdjust="spacingAndGlyphs" stroke="#000" stroke-width="0.85">More experiments on different models, varying tasks,</text>
<text x="954.2" y="2210.7" font-family="'Liberation Sans', sans-serif" font-size="24.3" font-weight="400" fill="#000" textLength="584.4" lengthAdjust="spacingAndGlyphs" stroke="#000" stroke-width="0.85">and variations of Parameter-efficient Fine-tuning</text>
<circle cx="940.5" cy="2238.0" r="6.4" fill="none" stroke="#000" stroke-width="1.9"/>
<circle cx="940.5" cy="2238.0" r="4.2" fill="#000"/>
<text x="955.2" y="2245.3" font-family="'Liberation Sans', sans-serif" font-size="24.3" font-weight="400" fill="#000" textLength="414.9" lengthAdjust="spacingAndGlyphs" stroke="#000" stroke-width="0.85">A resource-adaptive routing policy</text>
<g>
<rect x="486" y="933" width="195" height="134" rx="16" fill="none" stroke="#333" stroke-width="1.1" stroke-dasharray="3,3"/>
<text x="581.0" y="945.0" font-family="'Liberation Sans', sans-serif" font-size="11.5" font-weight="400" fill="#222" text-anchor="middle" >Central server</text>
<path d="M533.5,951.2L635.4,951.2L617,997.3L551.7,997.3Z" fill="#d5e8d4" stroke="#82b366" stroke-width="1"/>
<path d="M547.2,960.4L621.6,960.4L608.2,997.3L560.5,997.3Z" fill="#fff2cc" stroke="#d6b656" stroke-width="1"/>
<path d="M559.1,969.7L609.8,969.7L598.4,997.3L570.1,997.3Z" fill="#f8cecc" stroke="#b85450" stroke-width="1"/>
<path d="M551.7,1006.7L617,1006.7L635.4,1052.6L533.5,1052.6Z" fill="#d5e8d4" stroke="#82b366" stroke-width="1"/>
<path d="M560.5,1006.7L608.2,1006.7L621.6,1043.5L547.2,1043.5Z" fill="#fff2cc" stroke="#d6b656" stroke-width="1"/>
<path d="M570.1,1006.7L598.4,1006.7L609.8,1034.4L559.1,1034.4Z" fill="#f8cecc" stroke="#b85450" stroke-width="1"/>
<rect x="452" y="1080.5" width="361.7" height="139" rx="16" fill="none" stroke="#333" stroke-width="1.1" stroke-dasharray="3,3"/>
<rect x="349.6" y="1112.6" width="84.2" height="74.8" fill="#f5f5f5" stroke="#777" stroke-width="1.2"/>
<text x="391.5" y="1126.5" font-family="'Liberation Sans', sans-serif" font-size="11" font-weight="400" fill="#333" text-anchor="middle" >Freezed</text>
<text x="391.5" y="1139.8" font-family="'Liberation Sans', sans-serif" font-size="11" font-weight="400" fill="#333" text-anchor="middle" >Pretrained</text>
<text x="391.5" y="1152.7" font-family="'Liberation Sans', sans-serif" font-size="11" font-weight="400" fill="#333" text-anchor="middle" >Weights</text>
<text x="391.5" y="1166.6" font-family="'Liberation Serif', serif" font-size="14" font-weight="400" fill="#444" text-anchor="middle" ><tspan font-style="italic">W</tspan><tspan font-size="9" baseline-shift="-2">0</tspan></text>
<line x1="433.8" y1="1149.8" x2="446" y2="1149.8" stroke="#000" stroke-width="1.2"/>
<path d="M451.0,1149.8L444.0,1153.2L445.8,1149.8L444.0,1146.4Z" fill="#000"/>
<path d="M461,1108.1L517.1,1108.1L498.7,1136.1L479.5,1136.1Z" fill="#f8cecc" stroke="#b85450" stroke-width="1"/>
<path d="M479.5,1145.8L498.7,1145.8L517.1,1173L461,1173Z" fill="#f8cecc" stroke="#b85450" stroke-width="1"/>
<path d="M550.9,1099.3L625.2,1099.3L606.5,1136.6L569.6,1136.6Z" fill="#fff2cc" stroke="#d6b656" stroke-width="1"/>
<path d="M569.6,1147.8L606.5,1147.8L625.2,1185.8L550.9,1185.8Z" fill="#fff2cc" stroke="#d6b656" stroke-width="1"/>
<path d="M673.8,1089.8L776.6,1089.8L758.4,1136L692,1136Z" fill="#d5e8d4" stroke="#82b366" stroke-width="1"/>
<path d="M692,1148L758.4,1148L776.6,1194.3L673.8,1194.3Z" fill="#d5e8d4" stroke="#82b366" stroke-width="1"/>
<text x="488.5" y="1126.5" font-family="'Liberation Serif', serif" font-size="19" font-weight="400" fill="#111" text-anchor="middle" stroke="#111" stroke-width="0.45"><tspan font-style="italic">r</tspan><tspan font-size="12" baseline-shift="-3">1</tspan></text>
<text x="488.5" y="1166.6" font-family="'Liberation Serif', serif" font-size="19" font-weight="400" fill="#111" text-anchor="middle" stroke="#111" stroke-width="0.45"><tspan font-style="italic">r</tspan><tspan font-size="12" baseline-shift="-3">1</tspan></text>
<text x="588.5" y="1123.0" font-family="'Liberation Serif', serif" font-size="19" font-weight="400" fill="#111" text-anchor="middle" stroke="#111" stroke-width="0.45"><tspan font-style="italic">r</tspan><tspan font-size="12" baseline-shift="-3">2</tspan></text>
<text x="588.5" y="1173.5" font-family="'Liberation Serif', serif" font-size="19" font-weight="400" fill="#111" text-anchor="middle" stroke="#111" stroke-width="0.45"><tspan font-style="italic">r</tspan><tspan font-size="12" baseline-shift="-3">2</tspan></text>
<text x="725.0" y="1118.0" font-family="'Liberation Serif', serif" font-size="19" font-weight="400" fill="#111" text-anchor="middle" stroke="#111" stroke-width="0.45"><tspan font-style="italic">r</tspan><tspan font-size="12" baseline-shift="-3">3</tspan></text>
<text x="725.0" y="1174.0" font-family="'Liberation Serif', serif" font-size="19" font-weight="400" fill="#111" text-anchor="middle" stroke="#111" stroke-width="0.45"><tspan font-style="italic">r</tspan><tspan font-size="12" baseline-shift="-3">3</tspan></text>
<line x1="577.3" y1="1066.7" x2="489.9" y2="1107.8" stroke="#000" stroke-width="1.2"/>
<path d="M489.9,1107.8L494.9,1101.9L494.7,1105.6L497.6,1107.7Z" fill="#000"/>
<path d="M577.3,1066.7L572.3,1072.6L572.5,1068.9L569.6,1066.8Z" fill="#000"/>
<line x1="588.5" y1="1066.7" x2="588.5" y2="1098.5" stroke="#000" stroke-width="1.2"/>
<path d="M588.5,1098.5L585.3,1091.5L588.5,1093.2L591.7,1091.5Z" fill="#000"/>
<path d="M588.5,1066.7L591.7,1073.7L588.5,1072.0L585.3,1073.7Z" fill="#000"/>
<line x1="599.8" y1="1066.7" x2="725" y2="1089.8" stroke="#000" stroke-width="1.2"/>
<path d="M725.0,1089.8L717.5,1091.7L719.8,1088.8L718.7,1085.4Z" fill="#000"/>
<path d="M599.8,1066.7L607.3,1064.8L605.0,1067.7L606.1,1071.1Z" fill="#000"/>
<rect x="519" y="1154" width="13" height="22.5" rx="2.5" fill="none" stroke="#333" stroke-width="1.2"/>
<line x1="523.5" y1="1156.5" x2="527.5" y2="1156.5" stroke="#333" stroke-width="1"/><line x1="523.5" y1="1173.8" x2="527.5" y2="1173.8" stroke="#333" stroke-width="1"/>
<rect x="629" y="1157" width="21.5" height="15" rx="1.5" fill="none" stroke="#333" stroke-width="1.3"/>
<rect x="625.5" y="1172.5" width="28.7" height="3" rx="1.2" fill="none" stroke="#333" stroke-width="1.2"/>
<rect x="769" y="1155" width="23.5" height="17" rx="1.5" fill="none" stroke="#333" stroke-width="1.3"/>
<line x1="780.7" y1="1172" x2="780.7" y2="1176.5" stroke="#333" stroke-width="1.5"/><line x1="775.5" y1="1177.5" x2="786" y2="1177.5" stroke="#333" stroke-width="1.5"/>
<rect x="795.5" y="1154" width="12.5" height="25" rx="1.2" fill="none" stroke="#333" stroke-width="1.3"/>
<circle cx="801.7" cy="1163" r="1.5" fill="none" stroke="#333" stroke-width="1"/><path d="M798.5,1168.5h6.5M798.5,1171h6.5M798.5,1173.5h6.5" stroke="#333" stroke-width="1"/>
<text x="482.7" y="1206.7" font-family="'Liberation Sans', sans-serif" font-size="11" font-weight="400" fill="#222" textLength="207.0" lengthAdjust="spacingAndGlyphs" >Heterogeneous LoRA ranks across clients </text>
<text x="692.0" y="1207.0" font-family="'Liberation Serif', serif" font-size="12.5" font-weight="400" fill="#333" textLength="71.0" lengthAdjust="spacingAndGlyphs" ><tspan font-style="italic">r</tspan><tspan font-size="8" baseline-shift="-2">1</tspan> &lt; <tspan font-style="italic">r</tspan><tspan font-size="8" baseline-shift="-2">2</tspan> &lt; <tspan font-style="italic">r</tspan><tspan font-size="8" baseline-shift="-2">3</tspan></text>
</g>
<g stroke="#fff" stroke-opacity="0.55" stroke-width="0.3"><rect x="948.80" y="514.80" width="8.53" height="11.05" fill="#384ba0"/><rect x="957.33" y="514.80" width="8.53" height="11.05" fill="#37489e"/><rect x="965.86" y="514.80" width="8.53" height="11.05" fill="#3a54a4"/><rect x="974.39" y="514.80" width="8.53" height="11.05" fill="#3b57a5"/><rect x="982.92" y="514.80" width="8.53" height="11.05" fill="#37489e"/><rect x="991.46" y="514.80" width="8.53" height="11.05" fill="#394ea1"/><rect x="999.99" y="514.80" width="8.53" height="11.05" fill="#74add1"/><rect x="1008.52" y="514.80" width="8.53" height="11.05" fill="#394fa1"/><rect x="1017.05" y="514.80" width="8.53" height="11.05" fill="#384ea1"/><rect x="1025.58" y="514.80" width="8.53" height="11.05" fill="#3c58a6"/><rect x="1034.11" y="514.80" width="8.53" height="11.05" fill="#3a53a3"/><rect x="1042.64" y="514.80" width="8.53" height="11.05" fill="#35429b"/><rect x="1051.17" y="514.80" width="8.53" height="11.05" fill="#36459d"/><rect x="1059.71" y="514.80" width="8.53" height="11.05" fill="#394ea1"/><rect x="1068.24" y="514.80" width="8.53" height="11.05" fill="#323a97"/><rect x="1076.77" y="514.80" width="8.53" height="11.05" fill="#37489e"/><rect x="1085.30" y="514.80" width="8.53" height="11.05" fill="#343e99"/><rect x="1093.83" y="514.80" width="8.53" height="11.05" fill="#4e80ba"/><rect x="1102.36" y="514.80" width="8.53" height="11.05" fill="#333b97"/><rect x="1110.89" y="514.80" width="8.53" height="11.05" fill="#3a51a2"/><rect x="1119.42" y="514.80" width="8.53" height="11.05" fill="#333d99"/><rect x="1127.96" y="514.80" width="8.53" height="11.05" fill="#34419a"/><rect x="1136.49" y="514.80" width="8.53" height="11.05" fill="#36459d"/><rect x="1145.02" y="514.80" width="8.53" height="11.05" fill="#3b55a4"/><rect x="1153.55" y="514.80" width="8.53" height="11.05" fill="#4e80ba"/><rect x="1162.08" y="514.80" width="8.53" height="11.05" fill="#36479e"/><rect x="1170.61" y="514.80" width="8.53" height="11.05" fill="#374a9f"/><rect x="1179.14" y="514.80" width="8.53" height="11.05" fill="#3b55a4"/><rect x="1187.67" y="514.80" width="8.53" height="11.05" fill="#3a53a3"/><rect x="1196.21" y="514.80" width="8.53" height="11.05" fill="#3b54a4"/><rect x="1204.74" y="514.80" width="8.53" height="11.05" fill="#35429b"/><rect x="1213.27" y="514.80" width="8.53" height="11.05" fill="#36469d"/><rect x="1221.80" y="514.80" width="8.53" height="11.05" fill="#36449c"/><rect x="1230.33" y="514.80" width="8.53" height="11.05" fill="#3b55a4"/><rect x="1238.86" y="514.80" width="8.53" height="11.05" fill="#3c57a5"/><rect x="1247.39" y="514.80" width="8.53" height="11.05" fill="#343e99"/><rect x="1255.92" y="514.80" width="8.53" height="11.05" fill="#343f99"/><rect x="1264.46" y="514.80" width="8.53" height="11.05" fill="#4e80ba"/><rect x="1272.99" y="514.80" width="8.53" height="11.05" fill="#34419a"/><rect x="1281.52" y="514.80" width="8.53" height="11.05" fill="#37489e"/><rect x="1290.05" y="514.80" width="8.53" height="11.05" fill="#384ca0"/><rect x="1298.58" y="514.80" width="8.53" height="11.05" fill="#35419b"/><rect x="1307.11" y="514.80" width="8.53" height="11.05" fill="#323997"/><rect x="1315.64" y="514.80" width="8.53" height="11.05" fill="#36469d"/><rect x="1324.17" y="514.80" width="8.53" height="11.05" fill="#36459c"/><rect x="1332.71" y="514.80" width="8.53" height="11.05" fill="#384b9f"/><rect x="1341.24" y="514.80" width="8.53" height="11.05" fill="#3c57a5"/><rect x="1349.77" y="514.80" width="8.53" height="11.05" fill="#394fa1"/><rect x="1358.30" y="514.80" width="8.53" height="11.05" fill="#37499f"/><rect x="1366.83" y="514.80" width="8.53" height="11.05" fill="#384da0"/><rect x="1375.36" y="514.80" width="8.53" height="11.05" fill="#394ea1"/><rect x="1383.89" y="514.80" width="8.53" height="11.05" fill="#333b97"/><rect x="1392.42" y="514.80" width="8.53" height="11.05" fill="#3b55a4"/><rect x="1400.96" y="514.80" width="8.53" height="11.05" fill="#3a52a3"/><rect x="1409.49" y="514.80" width="8.53" height="11.05" fill="#3b55a4"/><rect x="1418.02" y="514.80" width="8.53" height="11.05" fill="#3a52a3"/><rect x="1426.55" y="514.80" width="8.53" height="11.05" fill="#36469d"/><rect x="1435.08" y="514.80" width="8.53" height="11.05" fill="#36469d"/><rect x="1443.61" y="514.80" width="8.53" height="11.05" fill="#333c98"/><rect x="1452.14" y="514.80" width="8.53" height="11.05" fill="#384da0"/><rect x="1460.67" y="514.80" width="8.53" height="11.05" fill="#333b98"/><rect x="1469.21" y="514.80" width="8.53" height="11.05" fill="#333b98"/><rect x="1477.74" y="514.80" width="8.53" height="11.05" fill="#34409a"/><rect x="1486.27" y="514.80" width="8.53" height="11.05" fill="#343e99"/><rect x="948.80" y="525.85" width="8.53" height="11.05" fill="#7fb6d6"/><rect x="957.33" y="525.85" width="8.53" height="11.05" fill="#4e80ba"/><rect x="965.86" y="525.85" width="8.53" height="11.05" fill="#6ba2cb"/><rect x="974.39" y="525.85" width="8.53" height="11.05" fill="#588bc0"/><rect x="982.92" y="525.85" width="8.53" height="11.05" fill="#6ba2cb"/><rect x="991.46" y="525.85" width="8.53" height="11.05" fill="#74add1"/><rect x="999.99" y="525.85" width="8.53" height="11.05" fill="#be1826"/><rect x="1008.52" y="525.85" width="8.53" height="11.05" fill="#5c91c2"/><rect x="1017.05" y="525.85" width="8.53" height="11.05" fill="#6ba2cb"/><rect x="1025.58" y="525.85" width="8.53" height="11.05" fill="#90c3dd"/><rect x="1034.11" y="525.85" width="8.53" height="11.05" fill="#abd9e9"/><rect x="1042.64" y="525.85" width="8.53" height="11.05" fill="#6ba2cb"/><rect x="1051.17" y="525.85" width="8.53" height="11.05" fill="#5c91c2"/><rect x="1059.71" y="525.85" width="8.53" height="11.05" fill="#6197c5"/><rect x="1068.24" y="525.85" width="8.53" height="11.05" fill="#588bc0"/><rect x="1076.77" y="525.85" width="8.53" height="11.05" fill="#74add1"/><rect x="1085.30" y="525.85" width="8.53" height="11.05" fill="#669cc8"/><rect x="1093.83" y="525.85" width="8.53" height="11.05" fill="#c6e6f0"/><rect x="1102.36" y="525.85" width="8.53" height="11.05" fill="#669cc8"/><rect x="1110.89" y="525.85" width="8.53" height="11.05" fill="#74add1"/><rect x="1119.42" y="525.85" width="8.53" height="11.05" fill="#5c91c2"/><rect x="1127.96" y="525.85" width="8.53" height="11.05" fill="#f9fdca"/><rect x="1136.49" y="525.85" width="8.53" height="11.05" fill="#74add1"/><rect x="1145.02" y="525.85" width="8.53" height="11.05" fill="#c6e6f0"/><rect x="1153.55" y="525.85" width="8.53" height="11.05" fill="#e6f5ed"/><rect x="1162.08" y="525.85" width="8.53" height="11.05" fill="#4e80ba"/><rect x="1170.61" y="525.85" width="8.53" height="11.05" fill="#5c91c2"/><rect x="1179.14" y="525.85" width="8.53" height="11.05" fill="#f3fad6"/><rect x="1187.67" y="525.85" width="8.53" height="11.05" fill="#4168ae"/><rect x="1196.21" y="525.85" width="8.53" height="11.05" fill="#74add1"/><rect x="1204.74" y="525.85" width="8.53" height="11.05" fill="#a0d0e4"/><rect x="1213.27" y="525.85" width="8.53" height="11.05" fill="#7fb6d6"/><rect x="1221.80" y="525.85" width="8.53" height="11.05" fill="#5c91c2"/><rect x="1230.33" y="525.85" width="8.53" height="11.05" fill="#74add1"/><rect x="1238.86" y="525.85" width="8.53" height="11.05" fill="#588bc0"/><rect x="1247.39" y="525.85" width="8.53" height="11.05" fill="#4e80ba"/><rect x="1255.92" y="525.85" width="8.53" height="11.05" fill="#6ba2cb"/><rect x="1264.46" y="525.85" width="8.53" height="11.05" fill="#a0d0e4"/><rect x="1272.99" y="525.85" width="8.53" height="11.05" fill="#7fb6d6"/><rect x="1281.52" y="525.85" width="8.53" height="11.05" fill="#74add1"/><rect x="1290.05" y="525.85" width="8.53" height="11.05" fill="#669cc8"/><rect x="1298.58" y="525.85" width="8.53" height="11.05" fill="#e6f5ed"/><rect x="1307.11" y="525.85" width="8.53" height="11.05" fill="#5c91c2"/><rect x="1315.64" y="525.85" width="8.53" height="11.05" fill="#588bc0"/><rect x="1324.17" y="525.85" width="8.53" height="11.05" fill="#5c91c2"/><rect x="1332.71" y="525.85" width="8.53" height="11.05" fill="#5386bd"/><rect x="1341.24" y="525.85" width="8.53" height="11.05" fill="#588bc0"/><rect x="1349.77" y="525.85" width="8.53" height="11.05" fill="#669cc8"/><rect x="1358.30" y="525.85" width="8.53" height="11.05" fill="#8abfdb"/><rect x="1366.83" y="525.85" width="8.53" height="11.05" fill="#6ba2cb"/><rect x="1375.36" y="525.85" width="8.53" height="11.05" fill="#90c3dd"/><rect x="1383.89" y="525.85" width="8.53" height="11.05" fill="#9acce2"/><rect x="1392.42" y="525.85" width="8.53" height="11.05" fill="#588bc0"/><rect x="1400.96" y="525.85" width="8.53" height="11.05" fill="#4e80ba"/><rect x="1409.49" y="525.85" width="8.53" height="11.05" fill="#4168ae"/><rect x="1418.02" y="525.85" width="8.53" height="11.05" fill="#4e80ba"/><rect x="1426.55" y="525.85" width="8.53" height="11.05" fill="#4575b4"/><rect x="1435.08" y="525.85" width="8.53" height="11.05" fill="#3f62ab"/><rect x="1443.61" y="525.85" width="8.53" height="11.05" fill="#4e80ba"/><rect x="1452.14" y="525.85" width="8.53" height="11.05" fill="#7fb6d6"/><rect x="1460.67" y="525.85" width="8.53" height="11.05" fill="#d5eef5"/><rect x="1469.21" y="525.85" width="8.53" height="11.05" fill="#c6e6f0"/><rect x="1477.74" y="525.85" width="8.53" height="11.05" fill="#4168ae"/><rect x="1486.27" y="525.85" width="8.53" height="11.05" fill="#c6e6f0"/><rect x="948.80" y="536.90" width="8.53" height="11.05" fill="#35449c"/><rect x="957.33" y="536.90" width="8.53" height="11.05" fill="#333b97"/><rect x="965.86" y="536.90" width="8.53" height="11.05" fill="#323997"/><rect x="974.39" y="536.90" width="8.53" height="11.05" fill="#343e99"/><rect x="982.92" y="536.90" width="8.53" height="11.05" fill="#333c98"/><rect x="991.46" y="536.90" width="8.53" height="11.05" fill="#36459c"/><rect x="999.99" y="536.90" width="8.53" height="11.05" fill="#bbe1ee"/><rect x="1008.52" y="536.90" width="8.53" height="11.05" fill="#3b55a4"/><rect x="1017.05" y="536.90" width="8.53" height="11.05" fill="#384ca0"/><rect x="1025.58" y="536.90" width="8.53" height="11.05" fill="#333e99"/><rect x="1034.11" y="536.90" width="8.53" height="11.05" fill="#35419a"/><rect x="1042.64" y="536.90" width="8.53" height="11.05" fill="#35449c"/><rect x="1051.17" y="536.90" width="8.53" height="11.05" fill="#36459c"/><rect x="1059.71" y="536.90" width="8.53" height="11.05" fill="#333d98"/><rect x="1068.24" y="536.90" width="8.53" height="11.05" fill="#3a54a4"/><rect x="1076.77" y="536.90" width="8.53" height="11.05" fill="#3c58a6"/><rect x="1085.30" y="536.90" width="8.53" height="11.05" fill="#37489e"/><rect x="1093.83" y="536.90" width="8.53" height="11.05" fill="#5c91c2"/><rect x="1102.36" y="536.90" width="8.53" height="11.05" fill="#333c98"/><rect x="1110.89" y="536.90" width="8.53" height="11.05" fill="#333c98"/><rect x="1119.42" y="536.90" width="8.53" height="11.05" fill="#35449c"/><rect x="1127.96" y="536.90" width="8.53" height="11.05" fill="#35419b"/><rect x="1136.49" y="536.90" width="8.53" height="11.05" fill="#3a53a3"/><rect x="1145.02" y="536.90" width="8.53" height="11.05" fill="#343e99"/><rect x="1153.55" y="536.90" width="8.53" height="11.05" fill="#5c91c2"/><rect x="1162.08" y="536.90" width="8.53" height="11.05" fill="#3c57a5"/><rect x="1170.61" y="536.90" width="8.53" height="11.05" fill="#374a9f"/><rect x="1179.14" y="536.90" width="8.53" height="11.05" fill="#333e99"/><rect x="1187.67" y="536.90" width="8.53" height="11.05" fill="#374a9f"/><rect x="1196.21" y="536.90" width="8.53" height="11.05" fill="#323a97"/><rect x="1204.74" y="536.90" width="8.53" height="11.05" fill="#374a9f"/><rect x="1213.27" y="536.90" width="8.53" height="11.05" fill="#3c58a6"/><rect x="1221.80" y="536.90" width="8.53" height="11.05" fill="#3b54a4"/><rect x="1230.33" y="536.90" width="8.53" height="11.05" fill="#394fa1"/><rect x="1238.86" y="536.90" width="8.53" height="11.05" fill="#35419b"/><rect x="1247.39" y="536.90" width="8.53" height="11.05" fill="#36459c"/><rect x="1255.92" y="536.90" width="8.53" height="11.05" fill="#343e99"/><rect x="1264.46" y="536.90" width="8.53" height="11.05" fill="#4e80ba"/><rect x="1272.99" y="536.90" width="8.53" height="11.05" fill="#374a9f"/><rect x="1281.52" y="536.90" width="8.53" height="11.05" fill="#3a52a3"/><rect x="1290.05" y="536.90" width="8.53" height="11.05" fill="#35449c"/><rect x="1298.58" y="536.90" width="8.53" height="11.05" fill="#a0d0e4"/><rect x="1307.11" y="536.90" width="8.53" height="11.05" fill="#3a53a3"/><rect x="1315.64" y="536.90" width="8.53" height="11.05" fill="#3c58a6"/><rect x="1324.17" y="536.90" width="8.53" height="11.05" fill="#3b54a4"/><rect x="1332.71" y="536.90" width="8.53" height="11.05" fill="#3a53a3"/><rect x="1341.24" y="536.90" width="8.53" height="11.05" fill="#3a53a3"/><rect x="1349.77" y="536.90" width="8.53" height="11.05" fill="#3950a2"/><rect x="1358.30" y="536.90" width="8.53" height="11.05" fill="#34409a"/><rect x="1366.83" y="536.90" width="8.53" height="11.05" fill="#37499f"/><rect x="1375.36" y="536.90" width="8.53" height="11.05" fill="#36449c"/><rect x="1383.89" y="536.90" width="8.53" height="11.05" fill="#323a97"/><rect x="1392.42" y="536.90" width="8.53" height="11.05" fill="#323a97"/><rect x="1400.96" y="536.90" width="8.53" height="11.05" fill="#35429b"/><rect x="1409.49" y="536.90" width="8.53" height="11.05" fill="#35419b"/><rect x="1418.02" y="536.90" width="8.53" height="11.05" fill="#394fa1"/><rect x="1426.55" y="536.90" width="8.53" height="11.05" fill="#3c57a5"/><rect x="1435.08" y="536.90" width="8.53" height="11.05" fill="#36479d"/><rect x="1443.61" y="536.90" width="8.53" height="11.05" fill="#3b57a5"/><rect x="1452.14" y="536.90" width="8.53" height="11.05" fill="#4575b4"/><rect x="1460.67" y="536.90" width="8.53" height="11.05" fill="#3c57a5"/><rect x="1469.21" y="536.90" width="8.53" height="11.05" fill="#588bc0"/><rect x="1477.74" y="536.90" width="8.53" height="11.05" fill="#34409a"/><rect x="1486.27" y="536.90" width="8.53" height="11.05" fill="#34409a"/><rect x="948.80" y="547.95" width="8.53" height="11.05" fill="#3d5da8"/><rect x="957.33" y="547.95" width="8.53" height="11.05" fill="#3d5da8"/><rect x="965.86" y="547.95" width="8.53" height="11.05" fill="#426db0"/><rect x="974.39" y="547.95" width="8.53" height="11.05" fill="#4777b5"/><rect x="982.92" y="547.95" width="8.53" height="11.05" fill="#4575b4"/><rect x="991.46" y="547.95" width="8.53" height="11.05" fill="#4168ad"/><rect x="999.99" y="547.95" width="8.53" height="11.05" fill="#fed687"/><rect x="1008.52" y="547.95" width="8.53" height="11.05" fill="#4574b3"/><rect x="1017.05" y="547.95" width="8.53" height="11.05" fill="#3c59a6"/><rect x="1025.58" y="547.95" width="8.53" height="11.05" fill="#436eb1"/><rect x="1034.11" y="547.95" width="8.53" height="11.05" fill="#5c91c2"/><rect x="1042.64" y="547.95" width="8.53" height="11.05" fill="#4473b3"/><rect x="1051.17" y="547.95" width="8.53" height="11.05" fill="#4472b2"/><rect x="1059.71" y="547.95" width="8.53" height="11.05" fill="#4168ad"/><rect x="1068.24" y="547.95" width="8.53" height="11.05" fill="#3d5ca8"/><rect x="1076.77" y="547.95" width="8.53" height="11.05" fill="#4473b3"/><rect x="1085.30" y="547.95" width="8.53" height="11.05" fill="#3f62ab"/><rect x="1093.83" y="547.95" width="8.53" height="11.05" fill="#90c3dd"/><rect x="1102.36" y="547.95" width="8.53" height="11.05" fill="#497ab6"/><rect x="1110.89" y="547.95" width="8.53" height="11.05" fill="#4064ac"/><rect x="1119.42" y="547.95" width="8.53" height="11.05" fill="#4065ac"/><rect x="1127.96" y="547.95" width="8.53" height="11.05" fill="#6ba2cb"/><rect x="1136.49" y="547.95" width="8.53" height="11.05" fill="#4471b2"/><rect x="1145.02" y="547.95" width="8.53" height="11.05" fill="#3d5ca8"/><rect x="1153.55" y="547.95" width="8.53" height="11.05" fill="#90c3dd"/><rect x="1162.08" y="547.95" width="8.53" height="11.05" fill="#3d5ba7"/><rect x="1170.61" y="547.95" width="8.53" height="11.05" fill="#4777b5"/><rect x="1179.14" y="547.95" width="8.53" height="11.05" fill="#4574b4"/><rect x="1187.67" y="547.95" width="8.53" height="11.05" fill="#3d5ba7"/><rect x="1196.21" y="547.95" width="8.53" height="11.05" fill="#4575b4"/><rect x="1204.74" y="547.95" width="8.53" height="11.05" fill="#497ab7"/><rect x="1213.27" y="547.95" width="8.53" height="11.05" fill="#436eb1"/><rect x="1221.80" y="547.95" width="8.53" height="11.05" fill="#3f63ab"/><rect x="1230.33" y="547.95" width="8.53" height="11.05" fill="#426aaf"/><rect x="1238.86" y="547.95" width="8.53" height="11.05" fill="#3d5aa7"/><rect x="1247.39" y="547.95" width="8.53" height="11.05" fill="#3b56a5"/><rect x="1255.92" y="547.95" width="8.53" height="11.05" fill="#497ab6"/><rect x="1264.46" y="547.95" width="8.53" height="11.05" fill="#5c91c2"/><rect x="1272.99" y="547.95" width="8.53" height="11.05" fill="#4169ae"/><rect x="1281.52" y="547.95" width="8.53" height="11.05" fill="#4878b6"/><rect x="1290.05" y="547.95" width="8.53" height="11.05" fill="#588bc0"/><rect x="1298.58" y="547.95" width="8.53" height="11.05" fill="#d5eef5"/><rect x="1307.11" y="547.95" width="8.53" height="11.05" fill="#4575b4"/><rect x="1315.64" y="547.95" width="8.53" height="11.05" fill="#3e5da8"/><rect x="1324.17" y="547.95" width="8.53" height="11.05" fill="#3e5fa9"/><rect x="1332.71" y="547.95" width="8.53" height="11.05" fill="#3f61aa"/><rect x="1341.24" y="547.95" width="8.53" height="11.05" fill="#3e5fa9"/><rect x="1349.77" y="547.95" width="8.53" height="11.05" fill="#426caf"/><rect x="1358.30" y="547.95" width="8.53" height="11.05" fill="#3e5fa9"/><rect x="1366.83" y="547.95" width="8.53" height="11.05" fill="#4065ac"/><rect x="1375.36" y="547.95" width="8.53" height="11.05" fill="#3d5aa7"/><rect x="1383.89" y="547.95" width="8.53" height="11.05" fill="#4778b5"/><rect x="1392.42" y="547.95" width="8.53" height="11.05" fill="#3f63ab"/><rect x="1400.96" y="547.95" width="8.53" height="11.05" fill="#4067ad"/><rect x="1409.49" y="547.95" width="8.53" height="11.05" fill="#426caf"/><rect x="1418.02" y="547.95" width="8.53" height="11.05" fill="#4777b5"/><rect x="1426.55" y="547.95" width="8.53" height="11.05" fill="#4065ac"/><rect x="1435.08" y="547.95" width="8.53" height="11.05" fill="#4778b5"/><rect x="1443.61" y="547.95" width="8.53" height="11.05" fill="#4168ae"/><rect x="1452.14" y="547.95" width="8.53" height="11.05" fill="#74add1"/><rect x="1460.67" y="547.95" width="8.53" height="11.05" fill="#95c7df"/><rect x="1469.21" y="547.95" width="8.53" height="11.05" fill="#90c3dd"/><rect x="1477.74" y="547.95" width="8.53" height="11.05" fill="#4066ad"/><rect x="1486.27" y="547.95" width="8.53" height="11.05" fill="#3d5ca8"/><rect x="948.80" y="559.00" width="8.53" height="11.05" fill="#323997"/><rect x="957.33" y="559.00" width="8.53" height="11.05" fill="#3a52a3"/><rect x="965.86" y="559.00" width="8.53" height="11.05" fill="#343f99"/><rect x="974.39" y="559.00" width="8.53" height="11.05" fill="#37489e"/><rect x="982.92" y="559.00" width="8.53" height="11.05" fill="#3950a2"/><rect x="991.46" y="559.00" width="8.53" height="11.05" fill="#384b9f"/><rect x="999.99" y="559.00" width="8.53" height="11.05" fill="#bbe1ee"/><rect x="1008.52" y="559.00" width="8.53" height="11.05" fill="#37499f"/><rect x="1017.05" y="559.00" width="8.53" height="11.05" fill="#384b9f"/><rect x="1025.58" y="559.00" width="8.53" height="11.05" fill="#3a52a3"/><rect x="1034.11" y="559.00" width="8.53" height="11.05" fill="#333c98"/><rect x="1042.64" y="559.00" width="8.53" height="11.05" fill="#384b9f"/><rect x="1051.17" y="559.00" width="8.53" height="11.05" fill="#34419a"/><rect x="1059.71" y="559.00" width="8.53" height="11.05" fill="#35429b"/><rect x="1068.24" y="559.00" width="8.53" height="11.05" fill="#3a51a3"/><rect x="1076.77" y="559.00" width="8.53" height="11.05" fill="#37499e"/><rect x="1085.30" y="559.00" width="8.53" height="11.05" fill="#384b9f"/><rect x="1093.83" y="559.00" width="8.53" height="11.05" fill="#5c91c2"/><rect x="1102.36" y="559.00" width="8.53" height="11.05" fill="#3b56a5"/><rect x="1110.89" y="559.00" width="8.53" height="11.05" fill="#36479d"/><rect x="1119.42" y="559.00" width="8.53" height="11.05" fill="#384ca0"/><rect x="1127.96" y="559.00" width="8.53" height="11.05" fill="#37499e"/><rect x="1136.49" y="559.00" width="8.53" height="11.05" fill="#37499e"/><rect x="1145.02" y="559.00" width="8.53" height="11.05" fill="#394fa1"/><rect x="1153.55" y="559.00" width="8.53" height="11.05" fill="#5c91c2"/><rect x="1162.08" y="559.00" width="8.53" height="11.05" fill="#374a9f"/><rect x="1170.61" y="559.00" width="8.53" height="11.05" fill="#37489e"/><rect x="1179.14" y="559.00" width="8.53" height="11.05" fill="#3b57a5"/><rect x="1187.67" y="559.00" width="8.53" height="11.05" fill="#394fa1"/><rect x="1196.21" y="559.00" width="8.53" height="11.05" fill="#3b55a4"/><rect x="1204.74" y="559.00" width="8.53" height="11.05" fill="#3b57a5"/><rect x="1213.27" y="559.00" width="8.53" height="11.05" fill="#35419b"/><rect x="1221.80" y="559.00" width="8.53" height="11.05" fill="#384b9f"/><rect x="1230.33" y="559.00" width="8.53" height="11.05" fill="#3b57a5"/><rect x="1238.86" y="559.00" width="8.53" height="11.05" fill="#3a54a4"/><rect x="1247.39" y="559.00" width="8.53" height="11.05" fill="#333d99"/><rect x="1255.92" y="559.00" width="8.53" height="11.05" fill="#333d98"/><rect x="1264.46" y="559.00" width="8.53" height="11.05" fill="#36479d"/><rect x="1272.99" y="559.00" width="8.53" height="11.05" fill="#333b98"/><rect x="1281.52" y="559.00" width="8.53" height="11.05" fill="#34419a"/><rect x="1290.05" y="559.00" width="8.53" height="11.05" fill="#333b98"/><rect x="1298.58" y="559.00" width="8.53" height="11.05" fill="#abd9e9"/><rect x="1307.11" y="559.00" width="8.53" height="11.05" fill="#3a52a3"/><rect x="1315.64" y="559.00" width="8.53" height="11.05" fill="#3b55a4"/><rect x="1324.17" y="559.00" width="8.53" height="11.05" fill="#343e99"/><rect x="1332.71" y="559.00" width="8.53" height="11.05" fill="#3950a2"/><rect x="1341.24" y="559.00" width="8.53" height="11.05" fill="#394ea1"/><rect x="1349.77" y="559.00" width="8.53" height="11.05" fill="#333e99"/><rect x="1358.30" y="559.00" width="8.53" height="11.05" fill="#3b55a4"/><rect x="1366.83" y="559.00" width="8.53" height="11.05" fill="#3c58a6"/><rect x="1375.36" y="559.00" width="8.53" height="11.05" fill="#34409a"/><rect x="1383.89" y="559.00" width="8.53" height="11.05" fill="#3c57a5"/><rect x="1392.42" y="559.00" width="8.53" height="11.05" fill="#36469d"/><rect x="1400.96" y="559.00" width="8.53" height="11.05" fill="#37489e"/><rect x="1409.49" y="559.00" width="8.53" height="11.05" fill="#3c58a6"/><rect x="1418.02" y="559.00" width="8.53" height="11.05" fill="#3a53a3"/><rect x="1426.55" y="559.00" width="8.53" height="11.05" fill="#343e99"/><rect x="1435.08" y="559.00" width="8.53" height="11.05" fill="#36479d"/><rect x="1443.61" y="559.00" width="8.53" height="11.05" fill="#37499f"/><rect x="1452.14" y="559.00" width="8.53" height="11.05" fill="#35449c"/><rect x="1460.67" y="559.00" width="8.53" height="11.05" fill="#4e80ba"/><rect x="1469.21" y="559.00" width="8.53" height="11.05" fill="#6ba2cb"/><rect x="1477.74" y="559.00" width="8.53" height="11.05" fill="#3950a2"/><rect x="1486.27" y="559.00" width="8.53" height="11.05" fill="#323a97"/><rect x="948.80" y="570.05" width="8.53" height="11.05" fill="#426aaf"/><rect x="957.33" y="570.05" width="8.53" height="11.05" fill="#4066ad"/><rect x="965.86" y="570.05" width="8.53" height="11.05" fill="#3b56a5"/><rect x="974.39" y="570.05" width="8.53" height="11.05" fill="#3f62ab"/><rect x="982.92" y="570.05" width="8.53" height="11.05" fill="#426db0"/><rect x="991.46" y="570.05" width="8.53" height="11.05" fill="#4169ae"/><rect x="999.99" y="570.05" width="8.53" height="11.05" fill="#fec778"/><rect x="1008.52" y="570.05" width="8.53" height="11.05" fill="#497ab7"/><rect x="1017.05" y="570.05" width="8.53" height="11.05" fill="#4473b3"/><rect x="1025.58" y="570.05" width="8.53" height="11.05" fill="#497ab6"/><rect x="1034.11" y="570.05" width="8.53" height="11.05" fill="#3c59a6"/><rect x="1042.64" y="570.05" width="8.53" height="11.05" fill="#3e60a9"/><rect x="1051.17" y="570.05" width="8.53" height="11.05" fill="#3b57a5"/><rect x="1059.71" y="570.05" width="8.53" height="11.05" fill="#4473b3"/><rect x="1068.24" y="570.05" width="8.53" height="11.05" fill="#3e60aa"/><rect x="1076.77" y="570.05" width="8.53" height="11.05" fill="#3d5aa7"/><rect x="1085.30" y="570.05" width="8.53" height="11.05" fill="#4065ac"/><rect x="1093.83" y="570.05" width="8.53" height="11.05" fill="#90c3dd"/><rect x="1102.36" y="570.05" width="8.53" height="11.05" fill="#4574b4"/><rect x="1110.89" y="570.05" width="8.53" height="11.05" fill="#3e5fa9"/><rect x="1119.42" y="570.05" width="8.53" height="11.05" fill="#3d5ba7"/><rect x="1127.96" y="570.05" width="8.53" height="11.05" fill="#6ba2cb"/><rect x="1136.49" y="570.05" width="8.53" height="11.05" fill="#426baf"/><rect x="1145.02" y="570.05" width="8.53" height="11.05" fill="#4370b2"/><rect x="1153.55" y="570.05" width="8.53" height="11.05" fill="#90c3dd"/><rect x="1162.08" y="570.05" width="8.53" height="11.05" fill="#3c58a6"/><rect x="1170.61" y="570.05" width="8.53" height="11.05" fill="#4370b1"/><rect x="1179.14" y="570.05" width="8.53" height="11.05" fill="#4066ac"/><rect x="1187.67" y="570.05" width="8.53" height="11.05" fill="#3c58a6"/><rect x="1196.21" y="570.05" width="8.53" height="11.05" fill="#4879b6"/><rect x="1204.74" y="570.05" width="8.53" height="11.05" fill="#436db0"/><rect x="1213.27" y="570.05" width="8.53" height="11.05" fill="#4574b3"/><rect x="1221.80" y="570.05" width="8.53" height="11.05" fill="#3c59a6"/><rect x="1230.33" y="570.05" width="8.53" height="11.05" fill="#4676b4"/><rect x="1238.86" y="570.05" width="8.53" height="11.05" fill="#3c58a6"/><rect x="1247.39" y="570.05" width="8.53" height="11.05" fill="#4676b5"/><rect x="1255.92" y="570.05" width="8.53" height="11.05" fill="#4067ad"/><rect x="1264.46" y="570.05" width="8.53" height="11.05" fill="#669cc8"/><rect x="1272.99" y="570.05" width="8.53" height="11.05" fill="#426aaf"/><rect x="1281.52" y="570.05" width="8.53" height="11.05" fill="#4878b6"/><rect x="1290.05" y="570.05" width="8.53" height="11.05" fill="#3e60a9"/><rect x="1298.58" y="570.05" width="8.53" height="11.05" fill="#e0f3f8"/><rect x="1307.11" y="570.05" width="8.53" height="11.05" fill="#4169ae"/><rect x="1315.64" y="570.05" width="8.53" height="11.05" fill="#3e5fa9"/><rect x="1324.17" y="570.05" width="8.53" height="11.05" fill="#3c5aa7"/><rect x="1332.71" y="570.05" width="8.53" height="11.05" fill="#3d5ca8"/><rect x="1341.24" y="570.05" width="8.53" height="11.05" fill="#3c57a5"/><rect x="1349.77" y="570.05" width="8.53" height="11.05" fill="#3d5da8"/><rect x="1358.30" y="570.05" width="8.53" height="11.05" fill="#3f61aa"/><rect x="1366.83" y="570.05" width="8.53" height="11.05" fill="#3f61aa"/><rect x="1375.36" y="570.05" width="8.53" height="11.05" fill="#4472b3"/><rect x="1383.89" y="570.05" width="8.53" height="11.05" fill="#3e60aa"/><rect x="1392.42" y="570.05" width="8.53" height="11.05" fill="#4168ae"/><rect x="1400.96" y="570.05" width="8.53" height="11.05" fill="#3d5ca8"/><rect x="1409.49" y="570.05" width="8.53" height="11.05" fill="#3f63ab"/><rect x="1418.02" y="570.05" width="8.53" height="11.05" fill="#3b56a5"/><rect x="1426.55" y="570.05" width="8.53" height="11.05" fill="#3e5fa9"/><rect x="1435.08" y="570.05" width="8.53" height="11.05" fill="#3b56a5"/><rect x="1443.61" y="570.05" width="8.53" height="11.05" fill="#4471b2"/><rect x="1452.14" y="570.05" width="8.53" height="11.05" fill="#588bc0"/><rect x="1460.67" y="570.05" width="8.53" height="11.05" fill="#7fb6d6"/><rect x="1469.21" y="570.05" width="8.53" height="11.05" fill="#90c3dd"/><rect x="1477.74" y="570.05" width="8.53" height="11.05" fill="#4878b6"/><rect x="1486.27" y="570.05" width="8.53" height="11.05" fill="#3c5aa6"/><rect x="948.80" y="581.10" width="8.53" height="11.05" fill="#7bb3d4"/><rect x="957.33" y="581.10" width="8.53" height="11.05" fill="#4575b4"/><rect x="965.86" y="581.10" width="8.53" height="11.05" fill="#72abd0"/><rect x="974.39" y="581.10" width="8.53" height="11.05" fill="#4c7db8"/><rect x="982.92" y="581.10" width="8.53" height="11.05" fill="#6ea6cd"/><rect x="991.46" y="581.10" width="8.53" height="11.05" fill="#72abd0"/><rect x="999.99" y="581.10" width="8.53" height="11.05" fill="#cd2627"/><rect x="1008.52" y="581.10" width="8.53" height="11.05" fill="#5f94c4"/><rect x="1017.05" y="581.10" width="8.53" height="11.05" fill="#5e92c3"/><rect x="1025.58" y="581.10" width="8.53" height="11.05" fill="#a0d0e4"/><rect x="1034.11" y="581.10" width="8.53" height="11.05" fill="#abd9e9"/><rect x="1042.64" y="581.10" width="8.53" height="11.05" fill="#5f95c4"/><rect x="1051.17" y="581.10" width="8.53" height="11.05" fill="#5c91c2"/><rect x="1059.71" y="581.10" width="8.53" height="11.05" fill="#6ea6cd"/><rect x="1068.24" y="581.10" width="8.53" height="11.05" fill="#4e7fb9"/><rect x="1076.77" y="581.10" width="8.53" height="11.05" fill="#6da5cd"/><rect x="1085.30" y="581.10" width="8.53" height="11.05" fill="#6ca4cc"/><rect x="1093.83" y="581.10" width="8.53" height="11.05" fill="#d5eef5"/><rect x="1102.36" y="581.10" width="8.53" height="11.05" fill="#6ba2cb"/><rect x="1110.89" y="581.10" width="8.53" height="11.05" fill="#73acd0"/><rect x="1119.42" y="581.10" width="8.53" height="11.05" fill="#6fa6ce"/><rect x="1127.96" y="581.10" width="8.53" height="11.05" fill="#f6fbd0"/><rect x="1136.49" y="581.10" width="8.53" height="11.05" fill="#85bad8"/><rect x="1145.02" y="581.10" width="8.53" height="11.05" fill="#e0f3f8"/><rect x="1153.55" y="581.10" width="8.53" height="11.05" fill="#e0f3f8"/><rect x="1162.08" y="581.10" width="8.53" height="11.05" fill="#4574b3"/><rect x="1170.61" y="581.10" width="8.53" height="11.05" fill="#598cc0"/><rect x="1179.14" y="581.10" width="8.53" height="11.05" fill="#d5eef5"/><rect x="1187.67" y="581.10" width="8.53" height="11.05" fill="#3e5da8"/><rect x="1196.21" y="581.10" width="8.53" height="11.05" fill="#7ab2d4"/><rect x="1204.74" y="581.10" width="8.53" height="11.05" fill="#a8d7e8"/><rect x="1213.27" y="581.10" width="8.53" height="11.05" fill="#7db4d5"/><rect x="1221.80" y="581.10" width="8.53" height="11.05" fill="#6096c5"/><rect x="1230.33" y="581.10" width="8.53" height="11.05" fill="#689fca"/><rect x="1238.86" y="581.10" width="8.53" height="11.05" fill="#4c7db8"/><rect x="1247.39" y="581.10" width="8.53" height="11.05" fill="#4777b5"/><rect x="1255.92" y="581.10" width="8.53" height="11.05" fill="#73acd0"/><rect x="1264.46" y="581.10" width="8.53" height="11.05" fill="#90c3dd"/><rect x="1272.99" y="581.10" width="8.53" height="11.05" fill="#9acce2"/><rect x="1281.52" y="581.10" width="8.53" height="11.05" fill="#7ab2d4"/><rect x="1290.05" y="581.10" width="8.53" height="11.05" fill="#679dc9"/><rect x="1298.58" y="581.10" width="8.53" height="11.05" fill="#ecf8e1"/><rect x="1307.11" y="581.10" width="8.53" height="11.05" fill="#699fca"/><rect x="1315.64" y="581.10" width="8.53" height="11.05" fill="#6196c5"/><rect x="1324.17" y="581.10" width="8.53" height="11.05" fill="#568abf"/><rect x="1332.71" y="581.10" width="8.53" height="11.05" fill="#588cc0"/><rect x="1341.24" y="581.10" width="8.53" height="11.05" fill="#5b8fc2"/><rect x="1349.77" y="581.10" width="8.53" height="11.05" fill="#75aed1"/><rect x="1358.30" y="581.10" width="8.53" height="11.05" fill="#8abfdb"/><rect x="1366.83" y="581.10" width="8.53" height="11.05" fill="#669cc8"/><rect x="1375.36" y="581.10" width="8.53" height="11.05" fill="#9acce2"/><rect x="1383.89" y="581.10" width="8.53" height="11.05" fill="#8fc2dd"/><rect x="1392.42" y="581.10" width="8.53" height="11.05" fill="#578bbf"/><rect x="1400.96" y="581.10" width="8.53" height="11.05" fill="#598dc0"/><rect x="1409.49" y="581.10" width="8.53" height="11.05" fill="#3d5ca8"/><rect x="1418.02" y="581.10" width="8.53" height="11.05" fill="#5083bb"/><rect x="1426.55" y="581.10" width="8.53" height="11.05" fill="#4064ac"/><rect x="1435.08" y="581.10" width="8.53" height="11.05" fill="#426db0"/><rect x="1443.61" y="581.10" width="8.53" height="11.05" fill="#598dc1"/><rect x="1452.14" y="581.10" width="8.53" height="11.05" fill="#85bad8"/><rect x="1460.67" y="581.10" width="8.53" height="11.05" fill="#e0f3f8"/><rect x="1469.21" y="581.10" width="8.53" height="11.05" fill="#c6e6f0"/><rect x="1477.74" y="581.10" width="8.53" height="11.05" fill="#4574b4"/><rect x="1486.27" y="581.10" width="8.53" height="11.05" fill="#e0f3f8"/><rect x="948.80" y="592.15" width="8.53" height="11.05" fill="#394ea1"/><rect x="957.33" y="592.15" width="8.53" height="11.05" fill="#35449c"/><rect x="965.86" y="592.15" width="8.53" height="11.05" fill="#36469d"/><rect x="974.39" y="592.15" width="8.53" height="11.05" fill="#394ea1"/><rect x="982.92" y="592.15" width="8.53" height="11.05" fill="#35439b"/><rect x="991.46" y="592.15" width="8.53" height="11.05" fill="#36469d"/><rect x="999.99" y="592.15" width="8.53" height="11.05" fill="#4e80ba"/><rect x="1008.52" y="592.15" width="8.53" height="11.05" fill="#3a52a3"/><rect x="1017.05" y="592.15" width="8.53" height="11.05" fill="#35429b"/><rect x="1025.58" y="592.15" width="8.53" height="11.05" fill="#394ea1"/><rect x="1034.11" y="592.15" width="8.53" height="11.05" fill="#384b9f"/><rect x="1042.64" y="592.15" width="8.53" height="11.05" fill="#37499e"/><rect x="1051.17" y="592.15" width="8.53" height="11.05" fill="#35439c"/><rect x="1059.71" y="592.15" width="8.53" height="11.05" fill="#35429b"/><rect x="1068.24" y="592.15" width="8.53" height="11.05" fill="#323b97"/><rect x="1076.77" y="592.15" width="8.53" height="11.05" fill="#333c98"/><rect x="1085.30" y="592.15" width="8.53" height="11.05" fill="#333b97"/><rect x="1093.83" y="592.15" width="8.53" height="11.05" fill="#4e80ba"/><rect x="1102.36" y="592.15" width="8.53" height="11.05" fill="#34409a"/><rect x="1110.89" y="592.15" width="8.53" height="11.05" fill="#333d99"/><rect x="1119.42" y="592.15" width="8.53" height="11.05" fill="#333b98"/><rect x="1127.96" y="592.15" width="8.53" height="11.05" fill="#394ea1"/><rect x="1136.49" y="592.15" width="8.53" height="11.05" fill="#394fa1"/><rect x="1145.02" y="592.15" width="8.53" height="11.05" fill="#374a9f"/><rect x="1153.55" y="592.15" width="8.53" height="11.05" fill="#5c91c2"/><rect x="1162.08" y="592.15" width="8.53" height="11.05" fill="#343f9a"/><rect x="1170.61" y="592.15" width="8.53" height="11.05" fill="#34419a"/><rect x="1179.14" y="592.15" width="8.53" height="11.05" fill="#36459c"/><rect x="1187.67" y="592.15" width="8.53" height="11.05" fill="#333d99"/><rect x="1196.21" y="592.15" width="8.53" height="11.05" fill="#36449c"/><rect x="1204.74" y="592.15" width="8.53" height="11.05" fill="#34409a"/><rect x="1213.27" y="592.15" width="8.53" height="11.05" fill="#3a51a2"/><rect x="1221.80" y="592.15" width="8.53" height="11.05" fill="#3a52a3"/><rect x="1230.33" y="592.15" width="8.53" height="11.05" fill="#36479d"/><rect x="1238.86" y="592.15" width="8.53" height="11.05" fill="#343f9a"/><rect x="1247.39" y="592.15" width="8.53" height="11.05" fill="#3a51a3"/><rect x="1255.92" y="592.15" width="8.53" height="11.05" fill="#34419a"/><rect x="1264.46" y="592.15" width="8.53" height="11.05" fill="#4575b4"/><rect x="1272.99" y="592.15" width="8.53" height="11.05" fill="#323997"/><rect x="1281.52" y="592.15" width="8.53" height="11.05" fill="#35439b"/><rect x="1290.05" y="592.15" width="8.53" height="11.05" fill="#36459c"/><rect x="1298.58" y="592.15" width="8.53" height="11.05" fill="#36469d"/><rect x="1307.11" y="592.15" width="8.53" height="11.05" fill="#343e99"/><rect x="1315.64" y="592.15" width="8.53" height="11.05" fill="#36469d"/><rect x="1324.17" y="592.15" width="8.53" height="11.05" fill="#323997"/><rect x="1332.71" y="592.15" width="8.53" height="11.05" fill="#34409a"/><rect x="1341.24" y="592.15" width="8.53" height="11.05" fill="#333b98"/><rect x="1349.77" y="592.15" width="8.53" height="11.05" fill="#35439c"/><rect x="1358.30" y="592.15" width="8.53" height="11.05" fill="#323a97"/><rect x="1366.83" y="592.15" width="8.53" height="11.05" fill="#323a97"/><rect x="1375.36" y="592.15" width="8.53" height="11.05" fill="#34419a"/><rect x="1383.89" y="592.15" width="8.53" height="11.05" fill="#343f99"/><rect x="1392.42" y="592.15" width="8.53" height="11.05" fill="#37489e"/><rect x="1400.96" y="592.15" width="8.53" height="11.05" fill="#36469d"/><rect x="1409.49" y="592.15" width="8.53" height="11.05" fill="#384ca0"/><rect x="1418.02" y="592.15" width="8.53" height="11.05" fill="#374a9f"/><rect x="1426.55" y="592.15" width="8.53" height="11.05" fill="#384b9f"/><rect x="1435.08" y="592.15" width="8.53" height="11.05" fill="#394fa1"/><rect x="1443.61" y="592.15" width="8.53" height="11.05" fill="#35439b"/><rect x="1452.14" y="592.15" width="8.53" height="11.05" fill="#35419b"/><rect x="1460.67" y="592.15" width="8.53" height="11.05" fill="#3a52a3"/><rect x="1469.21" y="592.15" width="8.53" height="11.05" fill="#333d98"/><rect x="1477.74" y="592.15" width="8.53" height="11.05" fill="#384ba0"/><rect x="1486.27" y="592.15" width="8.53" height="11.05" fill="#37499f"/></g>
<text x="1221.8" y="511.8" font-family="'Liberation Serif', serif" font-size="11" font-weight="400" fill="#111" text-anchor="middle" >Layer 0</text>
<text x="0" y="0" font-family="'Liberation Serif', serif" font-size="7" fill="#333" text-anchor="middle" transform="translate(944.3,520.3) rotate(-90)" dy="2.5">0</text>
<line x1="946.3" y1="520.3" x2="948.8" y2="520.3" stroke="#333" stroke-width="0.5"/>
<text x="0" y="0" font-family="'Liberation Serif', serif" font-size="7" fill="#333" text-anchor="middle" transform="translate(944.3,531.4) rotate(-90)" dy="2.5">6</text>
<line x1="946.3" y1="531.4" x2="948.8" y2="531.4" stroke="#333" stroke-width="0.5"/>
<text x="0" y="0" font-family="'Liberation Serif', serif" font-size="7" fill="#333" text-anchor="middle" transform="translate(944.3,542.4) rotate(-90)" dy="2.5">3</text>
<line x1="946.3" y1="542.4" x2="948.8" y2="542.4" stroke="#333" stroke-width="0.5"/>
<text x="0" y="0" font-family="'Liberation Serif', serif" font-size="7" fill="#333" text-anchor="middle" transform="translate(944.3,553.5) rotate(-90)" dy="2.5">5</text>
<line x1="946.3" y1="553.5" x2="948.8" y2="553.5" stroke="#333" stroke-width="0.5"/>
<text x="0" y="0" font-family="'Liberation Serif', serif" font-size="7" fill="#333" text-anchor="middle" transform="translate(944.3,564.5) rotate(-90)" dy="2.5">2</text>
<line x1="946.3" y1="564.5" x2="948.8" y2="564.5" stroke="#333" stroke-width="0.5"/>
<text x="0" y="0" font-family="'Liberation Serif', serif" font-size="7" fill="#333" text-anchor="middle" transform="translate(944.3,575.6) rotate(-90)" dy="2.5">4</text>
<line x1="946.3" y1="575.6" x2="948.8" y2="575.6" stroke="#333" stroke-width="0.5"/>
<text x="0" y="0" font-family="'Liberation Serif', serif" font-size="7" fill="#333" text-anchor="middle" transform="translate(944.3,586.6) rotate(-90)" dy="2.5">7</text>
<line x1="946.3" y1="586.6" x2="948.8" y2="586.6" stroke="#333" stroke-width="0.5"/>
<text x="0" y="0" font-family="'Liberation Serif', serif" font-size="7" fill="#333" text-anchor="middle" transform="translate(944.3,597.7) rotate(-90)" dy="2.5">1</text>
<line x1="946.3" y1="597.7" x2="948.8" y2="597.7" stroke="#333" stroke-width="0.5"/>
<text font-family="'Liberation Serif', serif" font-size="10.5" fill="#111" text-anchor="middle" transform="translate(930.8,559.0) rotate(-90)">Clients</text>
<g font-family="'Liberation Serif', serif" font-size="6.8" fill="#333"><text transform="translate(952.0,609.6) rotate(-45)" text-anchor="end">0</text><text transform="translate(960.5,609.6) rotate(-45)" text-anchor="end">1</text><text transform="translate(969.0,609.6) rotate(-45)" text-anchor="end">2</text><text transform="translate(977.6,609.6) rotate(-45)" text-anchor="end">3</text><text transform="translate(986.1,609.6) rotate(-45)" text-anchor="end">4</text><text transform="translate(994.6,609.6) rotate(-45)" text-anchor="end">5</text><text transform="translate(1003.2,609.6) rotate(-45)" text-anchor="end">6</text><text transform="translate(1011.7,609.6) rotate(-45)" text-anchor="end">7</text><text transform="translate(1020.2,609.6) rotate(-45)" text-anchor="end">8</text><text transform="translate(1028.7,609.6) rotate(-45)" text-anchor="end">9</text><text transform="translate(1037.3,609.6) rotate(-45)" text-anchor="end">10</text><text transform="translate(1045.8,609.6) rotate(-45)" text-anchor="end">11</text><text transform="translate(1054.3,609.6) rotate(-45)" text-anchor="end">12</text><text transform="translate(1062.9,609.6) rotate(-45)" text-anchor="end">13</text><text transform="translate(1071.4,609.6) rotate(-45)" text-anchor="end">14</text><text transform="translate(1079.9,609.6) rotate(-45)" text-anchor="end">15</text><text transform="translate(1088.5,609.6) rotate(-45)" text-anchor="end">16</text><text transform="translate(1097.0,609.6) rotate(-45)" text-anchor="end">17</text><text transform="translate(1105.5,609.6) rotate(-45)" text-anchor="end">18</text><text transform="translate(1114.1,609.6) rotate(-45)" text-anchor="end">19</text><text transform="translate(1122.6,609.6) rotate(-45)" text-anchor="end">20</text><text transform="translate(1131.1,609.6) rotate(-45)" text-anchor="end">21</text><text transform="translate(1139.7,609.6) rotate(-45)" text-anchor="end">22</text><text transform="translate(1148.2,609.6) rotate(-45)" text-anchor="end">23</text><text transform="translate(1156.7,609.6) rotate(-45)" text-anchor="end">24</text><text transform="translate(1165.2,609.6) rotate(-45)" text-anchor="end">25</text><text transform="translate(1173.8,609.6) rotate(-45)" text-anchor="end">26</text><text transform="translate(1182.3,609.6) rotate(-45)" text-anchor="end">27</text><text transform="translate(1190.8,609.6) rotate(-45)" text-anchor="end">28</text><text transform="translate(1199.4,609.6) rotate(-45)" text-anchor="end">29</text><text transform="translate(1207.9,609.6) rotate(-45)" text-anchor="end">30</text><text transform="translate(1216.4,609.6) rotate(-45)" text-anchor="end">31</text><text transform="translate(1225.0,609.6) rotate(-45)" text-anchor="end">32</text><text transform="translate(1233.5,609.6) rotate(-45)" text-anchor="end">33</text><text transform="translate(1242.0,609.6) rotate(-45)" text-anchor="end">34</text><text transform="translate(1250.6,609.6) rotate(-45)" text-anchor="end">35</text><text transform="translate(1259.1,609.6) rotate(-45)" text-anchor="end">36</text><text transform="translate(1267.6,609.6) rotate(-45)" text-anchor="end">37</text><text transform="translate(1276.2,609.6) rotate(-45)" text-anchor="end">38</text><text transform="translate(1284.7,609.6) rotate(-45)" text-anchor="end">39</text><text transform="translate(1293.2,609.6) rotate(-45)" text-anchor="end">40</text><text transform="translate(1301.7,609.6) rotate(-45)" text-anchor="end">41</text><text transform="translate(1310.3,609.6) rotate(-45)" text-anchor="end">42</text><text transform="translate(1318.8,609.6) rotate(-45)" text-anchor="end">43</text><text transform="translate(1327.3,609.6) rotate(-45)" text-anchor="end">44</text><text transform="translate(1335.9,609.6) rotate(-45)" text-anchor="end">45</text><text transform="translate(1344.4,609.6) rotate(-45)" text-anchor="end">46</text><text transform="translate(1352.9,609.6) rotate(-45)" text-anchor="end">47</text><text transform="translate(1361.5,609.6) rotate(-45)" text-anchor="end">48</text><text transform="translate(1370.0,609.6) rotate(-45)" text-anchor="end">49</text><text transform="translate(1378.5,609.6) rotate(-45)" text-anchor="end">50</text><text transform="translate(1387.1,609.6) rotate(-45)" text-anchor="end">51</text><text transform="translate(1395.6,609.6) rotate(-45)" text-anchor="end">52</text><text transform="translate(1404.1,609.6) rotate(-45)" text-anchor="end">53</text><text transform="translate(1412.7,609.6) rotate(-45)" text-anchor="end">54</text><text transform="translate(1421.2,609.6) rotate(-45)" text-anchor="end">55</text><text transform="translate(1429.7,609.6) rotate(-45)" text-anchor="end">56</text><text transform="translate(1438.2,609.6) rotate(-45)" text-anchor="end">57</text><text transform="translate(1446.8,609.6) rotate(-45)" text-anchor="end">58</text><text transform="translate(1455.3,609.6) rotate(-45)" text-anchor="end">59</text><text transform="translate(1463.8,609.6) rotate(-45)" text-anchor="end">60</text><text transform="translate(1472.4,609.6) rotate(-45)" text-anchor="end">61</text><text transform="translate(1480.9,609.6) rotate(-45)" text-anchor="end">62</text><text transform="translate(1489.4,609.6) rotate(-45)" text-anchor="end">63</text></g>
<defs><linearGradient id="cb514" x1="0" y1="0" x2="0" y2="1"><stop offset="0.0" stop-color="#a50026"/><stop offset="0.1" stop-color="#d73027"/><stop offset="0.2" stop-color="#f46d43"/><stop offset="0.3" stop-color="#fdae61"/><stop offset="0.4" stop-color="#fee090"/><stop offset="0.5" stop-color="#ffffbf"/><stop offset="0.6" stop-color="#e0f3f8"/><stop offset="0.7" stop-color="#abd9e9"/><stop offset="0.8" stop-color="#74add1"/><stop offset="0.9" stop-color="#4575b4"/><stop offset="1.0" stop-color="#313695"/></linearGradient></defs>
<rect x="1528.4" y="514.8" width="5.8" height="88.40000000000009" fill="url(#cb514)"/>
<line x1="1534.2" y1="538.2" x2="1536.2" y2="538.2" stroke="#333" stroke-width="0.5"/>
<text x="1536.7" y="541.7" font-family="'Liberation Serif', serif" font-size="10" font-weight="400" fill="#111" >0.50</text>
<line x1="1534.2" y1="570.9" x2="1536.2" y2="570.9" stroke="#333" stroke-width="0.5"/>
<text x="1536.7" y="574.4" font-family="'Liberation Serif', serif" font-size="10" font-weight="400" fill="#111" >0.25</text>
<g stroke="#fff" stroke-opacity="0.55" stroke-width="0.3"><rect x="948.80" y="629.60" width="8.53" height="11.09" fill="#4575b4"/><rect x="957.33" y="629.60" width="8.53" height="11.09" fill="#4168ae"/><rect x="965.86" y="629.60" width="8.53" height="11.09" fill="#37499e"/><rect x="974.39" y="629.60" width="8.53" height="11.09" fill="#35439b"/><rect x="982.92" y="629.60" width="8.53" height="11.09" fill="#37499e"/><rect x="991.46" y="629.60" width="8.53" height="11.09" fill="#333c98"/><rect x="999.99" y="629.60" width="8.53" height="11.09" fill="#35439b"/><rect x="1008.52" y="629.60" width="8.53" height="11.09" fill="#6ba2cb"/><rect x="1017.05" y="629.60" width="8.53" height="11.09" fill="#35439b"/><rect x="1025.58" y="629.60" width="8.53" height="11.09" fill="#4168ae"/><rect x="1034.11" y="629.60" width="8.53" height="11.09" fill="#35439b"/><rect x="1042.64" y="629.60" width="8.53" height="11.09" fill="#4168ae"/><rect x="1051.17" y="629.60" width="8.53" height="11.09" fill="#3d5ca8"/><rect x="1059.71" y="629.60" width="8.53" height="11.09" fill="#35439b"/><rect x="1068.24" y="629.60" width="8.53" height="11.09" fill="#35439b"/><rect x="1076.77" y="629.60" width="8.53" height="11.09" fill="#333c98"/><rect x="1085.30" y="629.60" width="8.53" height="11.09" fill="#35439b"/><rect x="1093.83" y="629.60" width="8.53" height="11.09" fill="#74add1"/><rect x="1102.36" y="629.60" width="8.53" height="11.09" fill="#394fa1"/><rect x="1110.89" y="629.60" width="8.53" height="11.09" fill="#394fa1"/><rect x="1119.42" y="629.60" width="8.53" height="11.09" fill="#37499e"/><rect x="1127.96" y="629.60" width="8.53" height="11.09" fill="#74add1"/><rect x="1136.49" y="629.60" width="8.53" height="11.09" fill="#333c98"/><rect x="1145.02" y="629.60" width="8.53" height="11.09" fill="#3f62ab"/><rect x="1153.55" y="629.60" width="8.53" height="11.09" fill="#3f62ab"/><rect x="1162.08" y="629.60" width="8.53" height="11.09" fill="#333c98"/><rect x="1170.61" y="629.60" width="8.53" height="11.09" fill="#35439b"/><rect x="1179.14" y="629.60" width="8.53" height="11.09" fill="#4e80ba"/><rect x="1187.67" y="629.60" width="8.53" height="11.09" fill="#35439b"/><rect x="1196.21" y="629.60" width="8.53" height="11.09" fill="#4575b4"/><rect x="1204.74" y="629.60" width="8.53" height="11.09" fill="#35439b"/><rect x="1213.27" y="629.60" width="8.53" height="11.09" fill="#37499e"/><rect x="1221.80" y="629.60" width="8.53" height="11.09" fill="#3b56a4"/><rect x="1230.33" y="629.60" width="8.53" height="11.09" fill="#37499e"/><rect x="1238.86" y="629.60" width="8.53" height="11.09" fill="#37499e"/><rect x="1247.39" y="629.60" width="8.53" height="11.09" fill="#4168ae"/><rect x="1255.92" y="629.60" width="8.53" height="11.09" fill="#3d5ca8"/><rect x="1264.46" y="629.60" width="8.53" height="11.09" fill="#37499e"/><rect x="1272.99" y="629.60" width="8.53" height="11.09" fill="#35439b"/><rect x="1281.52" y="629.60" width="8.53" height="11.09" fill="#394fa1"/><rect x="1290.05" y="629.60" width="8.53" height="11.09" fill="#3d5ca8"/><rect x="1298.58" y="629.60" width="8.53" height="11.09" fill="#394fa1"/><rect x="1307.11" y="629.60" width="8.53" height="11.09" fill="#394fa1"/><rect x="1315.64" y="629.60" width="8.53" height="11.09" fill="#333c98"/><rect x="1324.17" y="629.60" width="8.53" height="11.09" fill="#37499e"/><rect x="1332.71" y="629.60" width="8.53" height="11.09" fill="#35439b"/><rect x="1341.24" y="629.60" width="8.53" height="11.09" fill="#394fa1"/><rect x="1349.77" y="629.60" width="8.53" height="11.09" fill="#4e80ba"/><rect x="1358.30" y="629.60" width="8.53" height="11.09" fill="#394fa1"/><rect x="1366.83" y="629.60" width="8.53" height="11.09" fill="#35439b"/><rect x="1375.36" y="629.60" width="8.53" height="11.09" fill="#37499e"/><rect x="1383.89" y="629.60" width="8.53" height="11.09" fill="#37499e"/><rect x="1392.42" y="629.60" width="8.53" height="11.09" fill="#35439b"/><rect x="1400.96" y="629.60" width="8.53" height="11.09" fill="#588bc0"/><rect x="1409.49" y="629.60" width="8.53" height="11.09" fill="#35439b"/><rect x="1418.02" y="629.60" width="8.53" height="11.09" fill="#35439b"/><rect x="1426.55" y="629.60" width="8.53" height="11.09" fill="#333c98"/><rect x="1435.08" y="629.60" width="8.53" height="11.09" fill="#333c98"/><rect x="1443.61" y="629.60" width="8.53" height="11.09" fill="#394fa1"/><rect x="1452.14" y="629.60" width="8.53" height="11.09" fill="#fef0a8"/><rect x="1460.67" y="629.60" width="8.53" height="11.09" fill="#37499e"/><rect x="1469.21" y="629.60" width="8.53" height="11.09" fill="#394fa1"/><rect x="1477.74" y="629.60" width="8.53" height="11.09" fill="#35439b"/><rect x="1486.27" y="629.60" width="8.53" height="11.09" fill="#37499e"/><rect x="948.80" y="640.69" width="8.53" height="11.09" fill="#7fb6d6"/><rect x="957.33" y="640.69" width="8.53" height="11.09" fill="#9acce2"/><rect x="965.86" y="640.69" width="8.53" height="11.09" fill="#6ba2cb"/><rect x="974.39" y="640.69" width="8.53" height="11.09" fill="#7fb6d6"/><rect x="982.92" y="640.69" width="8.53" height="11.09" fill="#8abfdb"/><rect x="991.46" y="640.69" width="8.53" height="11.09" fill="#abd9e9"/><rect x="999.99" y="640.69" width="8.53" height="11.09" fill="#abd9e9"/><rect x="1008.52" y="640.69" width="8.53" height="11.09" fill="#b6deec"/><rect x="1017.05" y="640.69" width="8.53" height="11.09" fill="#abd9e9"/><rect x="1025.58" y="640.69" width="8.53" height="11.09" fill="#f6fbd0"/><rect x="1034.11" y="640.69" width="8.53" height="11.09" fill="#74add1"/><rect x="1042.64" y="640.69" width="8.53" height="11.09" fill="#f67a49"/><rect x="1051.17" y="640.69" width="8.53" height="11.09" fill="#fdae61"/><rect x="1059.71" y="640.69" width="8.53" height="11.09" fill="#b6deec"/><rect x="1068.24" y="640.69" width="8.53" height="11.09" fill="#7fb6d6"/><rect x="1076.77" y="640.69" width="8.53" height="11.09" fill="#e0f3f8"/><rect x="1085.30" y="640.69" width="8.53" height="11.09" fill="#90c3dd"/><rect x="1093.83" y="640.69" width="8.53" height="11.09" fill="#c6e6f0"/><rect x="1102.36" y="640.69" width="8.53" height="11.09" fill="#b6deec"/><rect x="1110.89" y="640.69" width="8.53" height="11.09" fill="#b6deec"/><rect x="1119.42" y="640.69" width="8.53" height="11.09" fill="#abd9e9"/><rect x="1127.96" y="640.69" width="8.53" height="11.09" fill="#bbe1ee"/><rect x="1136.49" y="640.69" width="8.53" height="11.09" fill="#6ba2cb"/><rect x="1145.02" y="640.69" width="8.53" height="11.09" fill="#cbe9f2"/><rect x="1153.55" y="640.69" width="8.53" height="11.09" fill="#cbe9f2"/><rect x="1162.08" y="640.69" width="8.53" height="11.09" fill="#fee090"/><rect x="1170.61" y="640.69" width="8.53" height="11.09" fill="#74add1"/><rect x="1179.14" y="640.69" width="8.53" height="11.09" fill="#a0d0e4"/><rect x="1187.67" y="640.69" width="8.53" height="11.09" fill="#90c3dd"/><rect x="1196.21" y="640.69" width="8.53" height="11.09" fill="#fdae61"/><rect x="1204.74" y="640.69" width="8.53" height="11.09" fill="#abd9e9"/><rect x="1213.27" y="640.69" width="8.53" height="11.09" fill="#e6f5ed"/><rect x="1221.80" y="640.69" width="8.53" height="11.09" fill="#abd9e9"/><rect x="1230.33" y="640.69" width="8.53" height="11.09" fill="#90c3dd"/><rect x="1238.86" y="640.69" width="8.53" height="11.09" fill="#9acce2"/><rect x="1247.39" y="640.69" width="8.53" height="11.09" fill="#fee699"/><rect x="1255.92" y="640.69" width="8.53" height="11.09" fill="#7fb6d6"/><rect x="1264.46" y="640.69" width="8.53" height="11.09" fill="#f0f9dc"/><rect x="1272.99" y="640.69" width="8.53" height="11.09" fill="#588bc0"/><rect x="1281.52" y="640.69" width="8.53" height="11.09" fill="#8abfdb"/><rect x="1290.05" y="640.69" width="8.53" height="11.09" fill="#bbe1ee"/><rect x="1298.58" y="640.69" width="8.53" height="11.09" fill="#fee090"/><rect x="1307.11" y="640.69" width="8.53" height="11.09" fill="#abd9e9"/><rect x="1315.64" y="640.69" width="8.53" height="11.09" fill="#90c3dd"/><rect x="1324.17" y="640.69" width="8.53" height="11.09" fill="#95c7df"/><rect x="1332.71" y="640.69" width="8.53" height="11.09" fill="#abd9e9"/><rect x="1341.24" y="640.69" width="8.53" height="11.09" fill="#cbe9f2"/><rect x="1349.77" y="640.69" width="8.53" height="11.09" fill="#fba15b"/><rect x="1358.30" y="640.69" width="8.53" height="11.09" fill="#abd9e9"/><rect x="1366.83" y="640.69" width="8.53" height="11.09" fill="#7fb6d6"/><rect x="1375.36" y="640.69" width="8.53" height="11.09" fill="#8abfdb"/><rect x="1383.89" y="640.69" width="8.53" height="11.09" fill="#f0f9dc"/><rect x="1392.42" y="640.69" width="8.53" height="11.09" fill="#95c7df"/><rect x="1400.96" y="640.69" width="8.53" height="11.09" fill="#bbe1ee"/><rect x="1409.49" y="640.69" width="8.53" height="11.09" fill="#90c3dd"/><rect x="1418.02" y="640.69" width="8.53" height="11.09" fill="#9acce2"/><rect x="1426.55" y="640.69" width="8.53" height="11.09" fill="#6ba2cb"/><rect x="1435.08" y="640.69" width="8.53" height="11.09" fill="#84bad8"/><rect x="1443.61" y="640.69" width="8.53" height="11.09" fill="#d0ebf4"/><rect x="1452.14" y="640.69" width="8.53" height="11.09" fill="#b40e26"/><rect x="1460.67" y="640.69" width="8.53" height="11.09" fill="#f88e52"/><rect x="1469.21" y="640.69" width="8.53" height="11.09" fill="#90c3dd"/><rect x="1477.74" y="640.69" width="8.53" height="11.09" fill="#c6e6f0"/><rect x="1486.27" y="640.69" width="8.53" height="11.09" fill="#9acce2"/><rect x="948.80" y="651.77" width="8.53" height="11.09" fill="#4575b4"/><rect x="957.33" y="651.77" width="8.53" height="11.09" fill="#4575b4"/><rect x="965.86" y="651.77" width="8.53" height="11.09" fill="#3b56a4"/><rect x="974.39" y="651.77" width="8.53" height="11.09" fill="#37499e"/><rect x="982.92" y="651.77" width="8.53" height="11.09" fill="#3b56a4"/><rect x="991.46" y="651.77" width="8.53" height="11.09" fill="#37499e"/><rect x="999.99" y="651.77" width="8.53" height="11.09" fill="#394fa1"/><rect x="1008.52" y="651.77" width="8.53" height="11.09" fill="#74add1"/><rect x="1017.05" y="651.77" width="8.53" height="11.09" fill="#3b56a4"/><rect x="1025.58" y="651.77" width="8.53" height="11.09" fill="#669cc8"/><rect x="1034.11" y="651.77" width="8.53" height="11.09" fill="#37499e"/><rect x="1042.64" y="651.77" width="8.53" height="11.09" fill="#7fb6d6"/><rect x="1051.17" y="651.77" width="8.53" height="11.09" fill="#4e80ba"/><rect x="1059.71" y="651.77" width="8.53" height="11.09" fill="#3b56a4"/><rect x="1068.24" y="651.77" width="8.53" height="11.09" fill="#35439b"/><rect x="1076.77" y="651.77" width="8.53" height="11.09" fill="#35439b"/><rect x="1085.30" y="651.77" width="8.53" height="11.09" fill="#35439b"/><rect x="1093.83" y="651.77" width="8.53" height="11.09" fill="#7fb6d6"/><rect x="1102.36" y="651.77" width="8.53" height="11.09" fill="#3d5ca8"/><rect x="1110.89" y="651.77" width="8.53" height="11.09" fill="#3f62ab"/><rect x="1119.42" y="651.77" width="8.53" height="11.09" fill="#4168ae"/><rect x="1127.96" y="651.77" width="8.53" height="11.09" fill="#74add1"/><rect x="1136.49" y="651.77" width="8.53" height="11.09" fill="#35439b"/><rect x="1145.02" y="651.77" width="8.53" height="11.09" fill="#6ba2cb"/><rect x="1153.55" y="651.77" width="8.53" height="11.09" fill="#4575b4"/><rect x="1162.08" y="651.77" width="8.53" height="11.09" fill="#37499e"/><rect x="1170.61" y="651.77" width="8.53" height="11.09" fill="#37499e"/><rect x="1179.14" y="651.77" width="8.53" height="11.09" fill="#588bc0"/><rect x="1187.67" y="651.77" width="8.53" height="11.09" fill="#394fa1"/><rect x="1196.21" y="651.77" width="8.53" height="11.09" fill="#4e80ba"/><rect x="1204.74" y="651.77" width="8.53" height="11.09" fill="#3b56a4"/><rect x="1213.27" y="651.77" width="8.53" height="11.09" fill="#4168ae"/><rect x="1221.80" y="651.77" width="8.53" height="11.09" fill="#4168ae"/><rect x="1230.33" y="651.77" width="8.53" height="11.09" fill="#4168ae"/><rect x="1238.86" y="651.77" width="8.53" height="11.09" fill="#37499e"/><rect x="1247.39" y="651.77" width="8.53" height="11.09" fill="#3b56a4"/><rect x="1255.92" y="651.77" width="8.53" height="11.09" fill="#4e80ba"/><rect x="1264.46" y="651.77" width="8.53" height="11.09" fill="#3d5ca8"/><rect x="1272.99" y="651.77" width="8.53" height="11.09" fill="#588bc0"/><rect x="1281.52" y="651.77" width="8.53" height="11.09" fill="#35439b"/><rect x="1290.05" y="651.77" width="8.53" height="11.09" fill="#4168ae"/><rect x="1298.58" y="651.77" width="8.53" height="11.09" fill="#4e80ba"/><rect x="1307.11" y="651.77" width="8.53" height="11.09" fill="#4168ae"/><rect x="1315.64" y="651.77" width="8.53" height="11.09" fill="#3d5ca8"/><rect x="1324.17" y="651.77" width="8.53" height="11.09" fill="#394fa1"/><rect x="1332.71" y="651.77" width="8.53" height="11.09" fill="#3b56a4"/><rect x="1341.24" y="651.77" width="8.53" height="11.09" fill="#3d5ca8"/><rect x="1349.77" y="651.77" width="8.53" height="11.09" fill="#e0f3f8"/><rect x="1358.30" y="651.77" width="8.53" height="11.09" fill="#4575b4"/><rect x="1366.83" y="651.77" width="8.53" height="11.09" fill="#394fa1"/><rect x="1375.36" y="651.77" width="8.53" height="11.09" fill="#3d5ca8"/><rect x="1383.89" y="651.77" width="8.53" height="11.09" fill="#3d5ca8"/><rect x="1392.42" y="651.77" width="8.53" height="11.09" fill="#394fa1"/><rect x="1400.96" y="651.77" width="8.53" height="11.09" fill="#7fb6d6"/><rect x="1409.49" y="651.77" width="8.53" height="11.09" fill="#3d5ca8"/><rect x="1418.02" y="651.77" width="8.53" height="11.09" fill="#3b56a4"/><rect x="1426.55" y="651.77" width="8.53" height="11.09" fill="#37499e"/><rect x="1435.08" y="651.77" width="8.53" height="11.09" fill="#37499e"/><rect x="1443.61" y="651.77" width="8.53" height="11.09" fill="#4168ae"/><rect x="1452.14" y="651.77" width="8.53" height="11.09" fill="#fed687"/><rect x="1460.67" y="651.77" width="8.53" height="11.09" fill="#4575b4"/><rect x="1469.21" y="651.77" width="8.53" height="11.09" fill="#3b56a4"/><rect x="1477.74" y="651.77" width="8.53" height="11.09" fill="#3d5ca8"/><rect x="1486.27" y="651.77" width="8.53" height="11.09" fill="#4168ae"/><rect x="948.80" y="662.86" width="8.53" height="11.09" fill="#588bc0"/><rect x="957.33" y="662.86" width="8.53" height="11.09" fill="#6197c5"/><rect x="965.86" y="662.86" width="8.53" height="11.09" fill="#4575b4"/><rect x="974.39" y="662.86" width="8.53" height="11.09" fill="#4168ae"/><rect x="982.92" y="662.86" width="8.53" height="11.09" fill="#4e80ba"/><rect x="991.46" y="662.86" width="8.53" height="11.09" fill="#4e80ba"/><rect x="999.99" y="662.86" width="8.53" height="11.09" fill="#4575b4"/><rect x="1008.52" y="662.86" width="8.53" height="11.09" fill="#8abfdb"/><rect x="1017.05" y="662.86" width="8.53" height="11.09" fill="#4e80ba"/><rect x="1025.58" y="662.86" width="8.53" height="11.09" fill="#abd9e9"/><rect x="1034.11" y="662.86" width="8.53" height="11.09" fill="#3d5ca8"/><rect x="1042.64" y="662.86" width="8.53" height="11.09" fill="#f9fdca"/><rect x="1051.17" y="662.86" width="8.53" height="11.09" fill="#abd9e9"/><rect x="1059.71" y="662.86" width="8.53" height="11.09" fill="#74add1"/><rect x="1068.24" y="662.86" width="8.53" height="11.09" fill="#4168ae"/><rect x="1076.77" y="662.86" width="8.53" height="11.09" fill="#4168ae"/><rect x="1085.30" y="662.86" width="8.53" height="11.09" fill="#4168ae"/><rect x="1093.83" y="662.86" width="8.53" height="11.09" fill="#90c3dd"/><rect x="1102.36" y="662.86" width="8.53" height="11.09" fill="#4e80ba"/><rect x="1110.89" y="662.86" width="8.53" height="11.09" fill="#5386bd"/><rect x="1119.42" y="662.86" width="8.53" height="11.09" fill="#5c91c2"/><rect x="1127.96" y="662.86" width="8.53" height="11.09" fill="#9acce2"/><rect x="1136.49" y="662.86" width="8.53" height="11.09" fill="#3d5ca8"/><rect x="1145.02" y="662.86" width="8.53" height="11.09" fill="#90c3dd"/><rect x="1153.55" y="662.86" width="8.53" height="11.09" fill="#669cc8"/><rect x="1162.08" y="662.86" width="8.53" height="11.09" fill="#5c91c2"/><rect x="1170.61" y="662.86" width="8.53" height="11.09" fill="#4168ae"/><rect x="1179.14" y="662.86" width="8.53" height="11.09" fill="#7fb6d6"/><rect x="1187.67" y="662.86" width="8.53" height="11.09" fill="#4575b4"/><rect x="1196.21" y="662.86" width="8.53" height="11.09" fill="#abd9e9"/><rect x="1204.74" y="662.86" width="8.53" height="11.09" fill="#4e80ba"/><rect x="1213.27" y="662.86" width="8.53" height="11.09" fill="#6ba2cb"/><rect x="1221.80" y="662.86" width="8.53" height="11.09" fill="#6ba2cb"/><rect x="1230.33" y="662.86" width="8.53" height="11.09" fill="#6ba2cb"/><rect x="1238.86" y="662.86" width="8.53" height="11.09" fill="#4168ae"/><rect x="1247.39" y="662.86" width="8.53" height="11.09" fill="#4575b4"/><rect x="1255.92" y="662.86" width="8.53" height="11.09" fill="#abd9e9"/><rect x="1264.46" y="662.86" width="8.53" height="11.09" fill="#4168ae"/><rect x="1272.99" y="662.86" width="8.53" height="11.09" fill="#abd9e9"/><rect x="1281.52" y="662.86" width="8.53" height="11.09" fill="#3d5ca8"/><rect x="1290.05" y="662.86" width="8.53" height="11.09" fill="#588bc0"/><rect x="1298.58" y="662.86" width="8.53" height="11.09" fill="#74add1"/><rect x="1307.11" y="662.86" width="8.53" height="11.09" fill="#74add1"/><rect x="1315.64" y="662.86" width="8.53" height="11.09" fill="#5c91c2"/><rect x="1324.17" y="662.86" width="8.53" height="11.09" fill="#4575b4"/><rect x="1332.71" y="662.86" width="8.53" height="11.09" fill="#4e80ba"/><rect x="1341.24" y="662.86" width="8.53" height="11.09" fill="#6ba2cb"/><rect x="1349.77" y="662.86" width="8.53" height="11.09" fill="#f9fdca"/><rect x="1358.30" y="662.86" width="8.53" height="11.09" fill="#6ba2cb"/><rect x="1366.83" y="662.86" width="8.53" height="11.09" fill="#4575b4"/><rect x="1375.36" y="662.86" width="8.53" height="11.09" fill="#588bc0"/><rect x="1383.89" y="662.86" width="8.53" height="11.09" fill="#b6deec"/><rect x="1392.42" y="662.86" width="8.53" height="11.09" fill="#588bc0"/><rect x="1400.96" y="662.86" width="8.53" height="11.09" fill="#a0d0e4"/><rect x="1409.49" y="662.86" width="8.53" height="11.09" fill="#588bc0"/><rect x="1418.02" y="662.86" width="8.53" height="11.09" fill="#4e80ba"/><rect x="1426.55" y="662.86" width="8.53" height="11.09" fill="#4168ae"/><rect x="1435.08" y="662.86" width="8.53" height="11.09" fill="#4575b4"/><rect x="1443.61" y="662.86" width="8.53" height="11.09" fill="#7fb6d6"/><rect x="1452.14" y="662.86" width="8.53" height="11.09" fill="#dd3c2d"/><rect x="1460.67" y="662.86" width="8.53" height="11.09" fill="#b6deec"/><rect x="1469.21" y="662.86" width="8.53" height="11.09" fill="#4575b4"/><rect x="1477.74" y="662.86" width="8.53" height="11.09" fill="#74add1"/><rect x="1486.27" y="662.86" width="8.53" height="11.09" fill="#6ba2cb"/><rect x="948.80" y="673.95" width="8.53" height="11.09" fill="#416aae"/><rect x="957.33" y="673.95" width="8.53" height="11.09" fill="#4b7db8"/><rect x="965.86" y="673.95" width="8.53" height="11.09" fill="#3e5fa9"/><rect x="974.39" y="673.95" width="8.53" height="11.09" fill="#384ca0"/><rect x="982.92" y="673.95" width="8.53" height="11.09" fill="#3d5ba7"/><rect x="991.46" y="673.95" width="8.53" height="11.09" fill="#3951a2"/><rect x="999.99" y="673.95" width="8.53" height="11.09" fill="#36469d"/><rect x="1008.52" y="673.95" width="8.53" height="11.09" fill="#75add1"/><rect x="1017.05" y="673.95" width="8.53" height="11.09" fill="#3b56a5"/><rect x="1025.58" y="673.95" width="8.53" height="11.09" fill="#6ba2cb"/><rect x="1034.11" y="673.95" width="8.53" height="11.09" fill="#3951a2"/><rect x="1042.64" y="673.95" width="8.53" height="11.09" fill="#abd9e9"/><rect x="1051.17" y="673.95" width="8.53" height="11.09" fill="#5082bb"/><rect x="1059.71" y="673.95" width="8.53" height="11.09" fill="#3e5fa9"/><rect x="1068.24" y="673.95" width="8.53" height="11.09" fill="#36479d"/><rect x="1076.77" y="673.95" width="8.53" height="11.09" fill="#37479e"/><rect x="1085.30" y="673.95" width="8.53" height="11.09" fill="#333c98"/><rect x="1093.83" y="673.95" width="8.53" height="11.09" fill="#75aed1"/><rect x="1102.36" y="673.95" width="8.53" height="11.09" fill="#3a53a3"/><rect x="1110.89" y="673.95" width="8.53" height="11.09" fill="#3e5fa9"/><rect x="1119.42" y="673.95" width="8.53" height="11.09" fill="#3e5ea9"/><rect x="1127.96" y="673.95" width="8.53" height="11.09" fill="#7bb3d4"/><rect x="1136.49" y="673.95" width="8.53" height="11.09" fill="#35449c"/><rect x="1145.02" y="673.95" width="8.53" height="11.09" fill="#6da5cd"/><rect x="1153.55" y="673.95" width="8.53" height="11.09" fill="#4778b5"/><rect x="1162.08" y="673.95" width="8.53" height="11.09" fill="#384da1"/><rect x="1170.61" y="673.95" width="8.53" height="11.09" fill="#37499e"/><rect x="1179.14" y="673.95" width="8.53" height="11.09" fill="#4e80ba"/><rect x="1187.67" y="673.95" width="8.53" height="11.09" fill="#3b57a5"/><rect x="1196.21" y="673.95" width="8.53" height="11.09" fill="#5386bd"/><rect x="1204.74" y="673.95" width="8.53" height="11.09" fill="#3b56a5"/><rect x="1213.27" y="673.95" width="8.53" height="11.09" fill="#4169ae"/><rect x="1221.80" y="673.95" width="8.53" height="11.09" fill="#426cb0"/><rect x="1230.33" y="673.95" width="8.53" height="11.09" fill="#3e5da8"/><rect x="1238.86" y="673.95" width="8.53" height="11.09" fill="#394fa1"/><rect x="1247.39" y="673.95" width="8.53" height="11.09" fill="#394fa1"/><rect x="1255.92" y="673.95" width="8.53" height="11.09" fill="#4677b5"/><rect x="1264.46" y="673.95" width="8.53" height="11.09" fill="#3b56a5"/><rect x="1272.99" y="673.95" width="8.53" height="11.09" fill="#5c91c2"/><rect x="1281.52" y="673.95" width="8.53" height="11.09" fill="#333b98"/><rect x="1290.05" y="673.95" width="8.53" height="11.09" fill="#436eb1"/><rect x="1298.58" y="673.95" width="8.53" height="11.09" fill="#578bbf"/><rect x="1307.11" y="673.95" width="8.53" height="11.09" fill="#4168ae"/><rect x="1315.64" y="673.95" width="8.53" height="11.09" fill="#3c59a6"/><rect x="1324.17" y="673.95" width="8.53" height="11.09" fill="#394fa1"/><rect x="1332.71" y="673.95" width="8.53" height="11.09" fill="#3c5aa7"/><rect x="1341.24" y="673.95" width="8.53" height="11.09" fill="#3f63ab"/><rect x="1349.77" y="673.95" width="8.53" height="11.09" fill="#90c3dd"/><rect x="1358.30" y="673.95" width="8.53" height="11.09" fill="#4878b6"/><rect x="1366.83" y="673.95" width="8.53" height="11.09" fill="#36459c"/><rect x="1375.36" y="673.95" width="8.53" height="11.09" fill="#3a53a3"/><rect x="1383.89" y="673.95" width="8.53" height="11.09" fill="#3b56a5"/><rect x="1392.42" y="673.95" width="8.53" height="11.09" fill="#3b55a4"/><rect x="1400.96" y="673.95" width="8.53" height="11.09" fill="#74add1"/><rect x="1409.49" y="673.95" width="8.53" height="11.09" fill="#3e5ea8"/><rect x="1418.02" y="673.95" width="8.53" height="11.09" fill="#37499e"/><rect x="1426.55" y="673.95" width="8.53" height="11.09" fill="#333e99"/><rect x="1435.08" y="673.95" width="8.53" height="11.09" fill="#35439b"/><rect x="1443.61" y="673.95" width="8.53" height="11.09" fill="#426db0"/><rect x="1452.14" y="673.95" width="8.53" height="11.09" fill="#fdae61"/><rect x="1460.67" y="673.95" width="8.53" height="11.09" fill="#4e80ba"/><rect x="1469.21" y="673.95" width="8.53" height="11.09" fill="#3950a2"/><rect x="1477.74" y="673.95" width="8.53" height="11.09" fill="#3d5ca8"/><rect x="1486.27" y="673.95" width="8.53" height="11.09" fill="#4168ad"/><rect x="948.80" y="685.04" width="8.53" height="11.09" fill="#578abf"/><rect x="957.33" y="685.04" width="8.53" height="11.09" fill="#568abf"/><rect x="965.86" y="685.04" width="8.53" height="11.09" fill="#5082bb"/><rect x="974.39" y="685.04" width="8.53" height="11.09" fill="#3d5da8"/><rect x="982.92" y="685.04" width="8.53" height="11.09" fill="#5c90c2"/><rect x="991.46" y="685.04" width="8.53" height="11.09" fill="#5b8fc1"/><rect x="999.99" y="685.04" width="8.53" height="11.09" fill="#3f63ab"/><rect x="1008.52" y="685.04" width="8.53" height="11.09" fill="#89beda"/><rect x="1017.05" y="685.04" width="8.53" height="11.09" fill="#578bbf"/><rect x="1025.58" y="685.04" width="8.53" height="11.09" fill="#abd9e9"/><rect x="1034.11" y="685.04" width="8.53" height="11.09" fill="#3c5aa7"/><rect x="1042.64" y="685.04" width="8.53" height="11.09" fill="#ffffbf"/><rect x="1051.17" y="685.04" width="8.53" height="11.09" fill="#90c3dd"/><rect x="1059.71" y="685.04" width="8.53" height="11.09" fill="#83b9d7"/><rect x="1068.24" y="685.04" width="8.53" height="11.09" fill="#3e5da8"/><rect x="1076.77" y="685.04" width="8.53" height="11.09" fill="#426baf"/><rect x="1085.30" y="685.04" width="8.53" height="11.09" fill="#3d5ba7"/><rect x="1093.83" y="685.04" width="8.53" height="11.09" fill="#90c4dd"/><rect x="1102.36" y="685.04" width="8.53" height="11.09" fill="#5b8fc2"/><rect x="1110.89" y="685.04" width="8.53" height="11.09" fill="#4979b6"/><rect x="1119.42" y="685.04" width="8.53" height="11.09" fill="#669cc8"/><rect x="1127.96" y="685.04" width="8.53" height="11.09" fill="#9bcce2"/><rect x="1136.49" y="685.04" width="8.53" height="11.09" fill="#426aaf"/><rect x="1145.02" y="685.04" width="8.53" height="11.09" fill="#96c8e0"/><rect x="1153.55" y="685.04" width="8.53" height="11.09" fill="#5e93c4"/><rect x="1162.08" y="685.04" width="8.53" height="11.09" fill="#689ec9"/><rect x="1170.61" y="685.04" width="8.53" height="11.09" fill="#4168ae"/><rect x="1179.14" y="685.04" width="8.53" height="11.09" fill="#70a8cf"/><rect x="1187.67" y="685.04" width="8.53" height="11.09" fill="#3f62ab"/><rect x="1196.21" y="685.04" width="8.53" height="11.09" fill="#abd9e9"/><rect x="1204.74" y="685.04" width="8.53" height="11.09" fill="#4d7fb9"/><rect x="1213.27" y="685.04" width="8.53" height="11.09" fill="#659bc8"/><rect x="1221.80" y="685.04" width="8.53" height="11.09" fill="#6096c5"/><rect x="1230.33" y="685.04" width="8.53" height="11.09" fill="#669dc8"/><rect x="1238.86" y="685.04" width="8.53" height="11.09" fill="#3f61aa"/><rect x="1247.39" y="685.04" width="8.53" height="11.09" fill="#4f80ba"/><rect x="1255.92" y="685.04" width="8.53" height="11.09" fill="#abd9e9"/><rect x="1264.46" y="685.04" width="8.53" height="11.09" fill="#4472b2"/><rect x="1272.99" y="685.04" width="8.53" height="11.09" fill="#abd9e9"/><rect x="1281.52" y="685.04" width="8.53" height="11.09" fill="#384da1"/><rect x="1290.05" y="685.04" width="8.53" height="11.09" fill="#649ac7"/><rect x="1298.58" y="685.04" width="8.53" height="11.09" fill="#7bb3d4"/><rect x="1307.11" y="685.04" width="8.53" height="11.09" fill="#81b8d7"/><rect x="1315.64" y="685.04" width="8.53" height="11.09" fill="#578abf"/><rect x="1324.17" y="685.04" width="8.53" height="11.09" fill="#4370b2"/><rect x="1332.71" y="685.04" width="8.53" height="11.09" fill="#4b7db8"/><rect x="1341.24" y="685.04" width="8.53" height="11.09" fill="#79b1d3"/><rect x="1349.77" y="685.04" width="8.53" height="11.09" fill="#f0f9dc"/><rect x="1358.30" y="685.04" width="8.53" height="11.09" fill="#679dc9"/><rect x="1366.83" y="685.04" width="8.53" height="11.09" fill="#4472b3"/><rect x="1375.36" y="685.04" width="8.53" height="11.09" fill="#5184bc"/><rect x="1383.89" y="685.04" width="8.53" height="11.09" fill="#a7d6e7"/><rect x="1392.42" y="685.04" width="8.53" height="11.09" fill="#4d7eb9"/><rect x="1400.96" y="685.04" width="8.53" height="11.09" fill="#abd9e9"/><rect x="1409.49" y="685.04" width="8.53" height="11.09" fill="#5284bc"/><rect x="1418.02" y="685.04" width="8.53" height="11.09" fill="#5b8fc1"/><rect x="1426.55" y="685.04" width="8.53" height="11.09" fill="#3e5fa9"/><rect x="1435.08" y="685.04" width="8.53" height="11.09" fill="#426cb0"/><rect x="1443.61" y="685.04" width="8.53" height="11.09" fill="#7fb6d6"/><rect x="1452.14" y="685.04" width="8.53" height="11.09" fill="#f46d43"/><rect x="1460.67" y="685.04" width="8.53" height="11.09" fill="#c6e6f0"/><rect x="1469.21" y="685.04" width="8.53" height="11.09" fill="#5284bc"/><rect x="1477.74" y="685.04" width="8.53" height="11.09" fill="#81b7d7"/><rect x="1486.27" y="685.04" width="8.53" height="11.09" fill="#73acd1"/><rect x="948.80" y="696.12" width="8.53" height="11.09" fill="#7fb6d6"/><rect x="957.33" y="696.12" width="8.53" height="11.09" fill="#90c3dd"/><rect x="965.86" y="696.12" width="8.53" height="11.09" fill="#74add1"/><rect x="974.39" y="696.12" width="8.53" height="11.09" fill="#7fb6d6"/><rect x="982.92" y="696.12" width="8.53" height="11.09" fill="#8abfdb"/><rect x="991.46" y="696.12" width="8.53" height="11.09" fill="#b6deec"/><rect x="999.99" y="696.12" width="8.53" height="11.09" fill="#c6e6f0"/><rect x="1008.52" y="696.12" width="8.53" height="11.09" fill="#bbe1ee"/><rect x="1017.05" y="696.12" width="8.53" height="11.09" fill="#b6deec"/><rect x="1025.58" y="696.12" width="8.53" height="11.09" fill="#f6fbd0"/><rect x="1034.11" y="696.12" width="8.53" height="11.09" fill="#7fb6d6"/><rect x="1042.64" y="696.12" width="8.53" height="11.09" fill="#be1826"/><rect x="1051.17" y="696.12" width="8.53" height="11.09" fill="#fee699"/><rect x="1059.71" y="696.12" width="8.53" height="11.09" fill="#c6e6f0"/><rect x="1068.24" y="696.12" width="8.53" height="11.09" fill="#84bad8"/><rect x="1076.77" y="696.12" width="8.53" height="11.09" fill="#d5eef5"/><rect x="1085.30" y="696.12" width="8.53" height="11.09" fill="#84bad8"/><rect x="1093.83" y="696.12" width="8.53" height="11.09" fill="#d0ebf4"/><rect x="1102.36" y="696.12" width="8.53" height="11.09" fill="#b6deec"/><rect x="1110.89" y="696.12" width="8.53" height="11.09" fill="#cbe9f2"/><rect x="1119.42" y="696.12" width="8.53" height="11.09" fill="#bbe1ee"/><rect x="1127.96" y="696.12" width="8.53" height="11.09" fill="#e0f3f8"/><rect x="1136.49" y="696.12" width="8.53" height="11.09" fill="#74add1"/><rect x="1145.02" y="696.12" width="8.53" height="11.09" fill="#cbe9f2"/><rect x="1153.55" y="696.12" width="8.53" height="11.09" fill="#e0f3f8"/><rect x="1162.08" y="696.12" width="8.53" height="11.09" fill="#e0f3f8"/><rect x="1170.61" y="696.12" width="8.53" height="11.09" fill="#7fb6d6"/><rect x="1179.14" y="696.12" width="8.53" height="11.09" fill="#a0d0e4"/><rect x="1187.67" y="696.12" width="8.53" height="11.09" fill="#95c7df"/><rect x="1196.21" y="696.12" width="8.53" height="11.09" fill="#fdae61"/><rect x="1204.74" y="696.12" width="8.53" height="11.09" fill="#b6deec"/><rect x="1213.27" y="696.12" width="8.53" height="11.09" fill="#f9fdca"/><rect x="1221.80" y="696.12" width="8.53" height="11.09" fill="#f0f9dc"/><rect x="1230.33" y="696.12" width="8.53" height="11.09" fill="#abd9e9"/><rect x="1238.86" y="696.12" width="8.53" height="11.09" fill="#90c3dd"/><rect x="1247.39" y="696.12" width="8.53" height="11.09" fill="#abd9e9"/><rect x="1255.92" y="696.12" width="8.53" height="11.09" fill="#ffffbf"/><rect x="1264.46" y="696.12" width="8.53" height="11.09" fill="#90c3dd"/><rect x="1272.99" y="696.12" width="8.53" height="11.09" fill="#f0f9dc"/><rect x="1281.52" y="696.12" width="8.53" height="11.09" fill="#5c91c2"/><rect x="1290.05" y="696.12" width="8.53" height="11.09" fill="#90c3dd"/><rect x="1298.58" y="696.12" width="8.53" height="11.09" fill="#c6e6f0"/><rect x="1307.11" y="696.12" width="8.53" height="11.09" fill="#fef0a8"/><rect x="1315.64" y="696.12" width="8.53" height="11.09" fill="#abd9e9"/><rect x="1324.17" y="696.12" width="8.53" height="11.09" fill="#90c3dd"/><rect x="1332.71" y="696.12" width="8.53" height="11.09" fill="#9acce2"/><rect x="1341.24" y="696.12" width="8.53" height="11.09" fill="#abd9e9"/><rect x="1349.77" y="696.12" width="8.53" height="11.09" fill="#f9fdca"/><rect x="1358.30" y="696.12" width="8.53" height="11.09" fill="#f0f9dc"/><rect x="1366.83" y="696.12" width="8.53" height="11.09" fill="#abd9e9"/><rect x="1375.36" y="696.12" width="8.53" height="11.09" fill="#74add1"/><rect x="1383.89" y="696.12" width="8.53" height="11.09" fill="#90c3dd"/><rect x="1392.42" y="696.12" width="8.53" height="11.09" fill="#fef0a8"/><rect x="1400.96" y="696.12" width="8.53" height="11.09" fill="#90c3dd"/><rect x="1409.49" y="696.12" width="8.53" height="11.09" fill="#abd9e9"/><rect x="1418.02" y="696.12" width="8.53" height="11.09" fill="#90c3dd"/><rect x="1426.55" y="696.12" width="8.53" height="11.09" fill="#abd9e9"/><rect x="1435.08" y="696.12" width="8.53" height="11.09" fill="#74add1"/><rect x="1443.61" y="696.12" width="8.53" height="11.09" fill="#7fb6d6"/><rect x="1452.14" y="696.12" width="8.53" height="11.09" fill="#b40e26"/><rect x="1460.67" y="696.12" width="8.53" height="11.09" fill="#f67a49"/><rect x="1469.21" y="696.12" width="8.53" height="11.09" fill="#90c3dd"/><rect x="1477.74" y="696.12" width="8.53" height="11.09" fill="#c6e6f0"/><rect x="1486.27" y="696.12" width="8.53" height="11.09" fill="#abd9e9"/><rect x="948.80" y="707.21" width="8.53" height="11.09" fill="#4778b6"/><rect x="957.33" y="707.21" width="8.53" height="11.09" fill="#4473b3"/><rect x="965.86" y="707.21" width="8.53" height="11.09" fill="#3b54a4"/><rect x="974.39" y="707.21" width="8.53" height="11.09" fill="#35449c"/><rect x="982.92" y="707.21" width="8.53" height="11.09" fill="#394ea1"/><rect x="991.46" y="707.21" width="8.53" height="11.09" fill="#313695"/><rect x="999.99" y="707.21" width="8.53" height="11.09" fill="#37489e"/><rect x="1008.52" y="707.21" width="8.53" height="11.09" fill="#6aa1cb"/><rect x="1017.05" y="707.21" width="8.53" height="11.09" fill="#37499e"/><rect x="1025.58" y="707.21" width="8.53" height="11.09" fill="#426cb0"/><rect x="1034.11" y="707.21" width="8.53" height="11.09" fill="#333d99"/><rect x="1042.64" y="707.21" width="8.53" height="11.09" fill="#3d5da8"/><rect x="1051.17" y="707.21" width="8.53" height="11.09" fill="#4067ad"/><rect x="1059.71" y="707.21" width="8.53" height="11.09" fill="#323997"/><rect x="1068.24" y="707.21" width="8.53" height="11.09" fill="#35429b"/><rect x="1076.77" y="707.21" width="8.53" height="11.09" fill="#323896"/><rect x="1085.30" y="707.21" width="8.53" height="11.09" fill="#333e99"/><rect x="1093.83" y="707.21" width="8.53" height="11.09" fill="#79b1d3"/><rect x="1102.36" y="707.21" width="8.53" height="11.09" fill="#3d5ba7"/><rect x="1110.89" y="707.21" width="8.53" height="11.09" fill="#37499e"/><rect x="1119.42" y="707.21" width="8.53" height="11.09" fill="#384da0"/><rect x="1127.96" y="707.21" width="8.53" height="11.09" fill="#70a9cf"/><rect x="1136.49" y="707.21" width="8.53" height="11.09" fill="#333e99"/><rect x="1145.02" y="707.21" width="8.53" height="11.09" fill="#3e5fa9"/><rect x="1153.55" y="707.21" width="8.53" height="11.09" fill="#3c5aa7"/><rect x="1162.08" y="707.21" width="8.53" height="11.09" fill="#313695"/><rect x="1170.61" y="707.21" width="8.53" height="11.09" fill="#333b98"/><rect x="1179.14" y="707.21" width="8.53" height="11.09" fill="#5689bf"/><rect x="1187.67" y="707.21" width="8.53" height="11.09" fill="#35439b"/><rect x="1196.21" y="707.21" width="8.53" height="11.09" fill="#436eb1"/><rect x="1204.74" y="707.21" width="8.53" height="11.09" fill="#384da0"/><rect x="1213.27" y="707.21" width="8.53" height="11.09" fill="#3b55a4"/><rect x="1221.80" y="707.21" width="8.53" height="11.09" fill="#3b54a4"/><rect x="1230.33" y="707.21" width="8.53" height="11.09" fill="#34409a"/><rect x="1238.86" y="707.21" width="8.53" height="11.09" fill="#35419a"/><rect x="1247.39" y="707.21" width="8.53" height="11.09" fill="#3e5ea9"/><rect x="1255.92" y="707.21" width="8.53" height="11.09" fill="#3c58a6"/><rect x="1264.46" y="707.21" width="8.53" height="11.09" fill="#343f99"/><rect x="1272.99" y="707.21" width="8.53" height="11.09" fill="#333c98"/><rect x="1281.52" y="707.21" width="8.53" height="11.09" fill="#37499e"/><rect x="1290.05" y="707.21" width="8.53" height="11.09" fill="#3e5ea8"/><rect x="1298.58" y="707.21" width="8.53" height="11.09" fill="#3c59a6"/><rect x="1307.11" y="707.21" width="8.53" height="11.09" fill="#3b55a4"/><rect x="1315.64" y="707.21" width="8.53" height="11.09" fill="#323a97"/><rect x="1324.17" y="707.21" width="8.53" height="11.09" fill="#36479d"/><rect x="1332.71" y="707.21" width="8.53" height="11.09" fill="#35439b"/><rect x="1341.24" y="707.21" width="8.53" height="11.09" fill="#384ca0"/><rect x="1349.77" y="707.21" width="8.53" height="11.09" fill="#5c91c2"/><rect x="1358.30" y="707.21" width="8.53" height="11.09" fill="#35449c"/><rect x="1366.83" y="707.21" width="8.53" height="11.09" fill="#333d98"/><rect x="1375.36" y="707.21" width="8.53" height="11.09" fill="#3b55a4"/><rect x="1383.89" y="707.21" width="8.53" height="11.09" fill="#343f9a"/><rect x="1392.42" y="707.21" width="8.53" height="11.09" fill="#35439b"/><rect x="1400.96" y="707.21" width="8.53" height="11.09" fill="#5c91c2"/><rect x="1409.49" y="707.21" width="8.53" height="11.09" fill="#384ca0"/><rect x="1418.02" y="707.21" width="8.53" height="11.09" fill="#333b98"/><rect x="1426.55" y="707.21" width="8.53" height="11.09" fill="#313795"/><rect x="1435.08" y="707.21" width="8.53" height="11.09" fill="#313695"/><rect x="1443.61" y="707.21" width="8.53" height="11.09" fill="#384da0"/><rect x="1452.14" y="707.21" width="8.53" height="11.09" fill="#fef0a8"/><rect x="1460.67" y="707.21" width="8.53" height="11.09" fill="#3b54a4"/><rect x="1469.21" y="707.21" width="8.53" height="11.09" fill="#3c58a6"/><rect x="1477.74" y="707.21" width="8.53" height="11.09" fill="#384ca0"/><rect x="1486.27" y="707.21" width="8.53" height="11.09" fill="#333d98"/></g>
<text x="1221.8" y="627.2" font-family="'Liberation Serif', serif" font-size="11" font-weight="400" fill="#111" text-anchor="middle" >Layer 1</text>
<text x="0" y="0" font-family="'Liberation Serif', serif" font-size="7" fill="#333" text-anchor="middle" transform="translate(944.3,635.1) rotate(-90)" dy="2.5">0</text>
<line x1="946.3" y1="635.1" x2="948.8" y2="635.1" stroke="#333" stroke-width="0.5"/>
<text x="0" y="0" font-family="'Liberation Serif', serif" font-size="7" fill="#333" text-anchor="middle" transform="translate(944.3,646.2) rotate(-90)" dy="2.5">6</text>
<line x1="946.3" y1="646.2" x2="948.8" y2="646.2" stroke="#333" stroke-width="0.5"/>
<text x="0" y="0" font-family="'Liberation Serif', serif" font-size="7" fill="#333" text-anchor="middle" transform="translate(944.3,657.3) rotate(-90)" dy="2.5">3</text>
<line x1="946.3" y1="657.3" x2="948.8" y2="657.3" stroke="#333" stroke-width="0.5"/>
<text x="0" y="0" font-family="'Liberation Serif', serif" font-size="7" fill="#333" text-anchor="middle" transform="translate(944.3,668.4) rotate(-90)" dy="2.5">5</text>
<line x1="946.3" y1="668.4" x2="948.8" y2="668.4" stroke="#333" stroke-width="0.5"/>
<text x="0" y="0" font-family="'Liberation Serif', serif" font-size="7" fill="#333" text-anchor="middle" transform="translate(944.3,679.5) rotate(-90)" dy="2.5">2</text>
<line x1="946.3" y1="679.5" x2="948.8" y2="679.5" stroke="#333" stroke-width="0.5"/>
<text x="0" y="0" font-family="'Liberation Serif', serif" font-size="7" fill="#333" text-anchor="middle" transform="translate(944.3,690.6) rotate(-90)" dy="2.5">4</text>
<line x1="946.3" y1="690.6" x2="948.8" y2="690.6" stroke="#333" stroke-width="0.5"/>
<text x="0" y="0" font-family="'Liberation Serif', serif" font-size="7" fill="#333" text-anchor="middle" transform="translate(944.3,701.7) rotate(-90)" dy="2.5">7</text>
<line x1="946.3" y1="701.7" x2="948.8" y2="701.7" stroke="#333" stroke-width="0.5"/>
<text x="0" y="0" font-family="'Liberation Serif', serif" font-size="7" fill="#333" text-anchor="middle" transform="translate(944.3,712.8) rotate(-90)" dy="2.5">1</text>
<line x1="946.3" y1="712.8" x2="948.8" y2="712.8" stroke="#333" stroke-width="0.5"/>
<text font-family="'Liberation Serif', serif" font-size="10.5" fill="#111" text-anchor="middle" transform="translate(930.8,674.0) rotate(-90)">Clients</text>
<g font-family="'Liberation Serif', serif" font-size="6.8" fill="#333"><text transform="translate(952.0,724.7) rotate(-45)" text-anchor="end">0</text><text transform="translate(960.5,724.7) rotate(-45)" text-anchor="end">1</text><text transform="translate(969.0,724.7) rotate(-45)" text-anchor="end">2</text><text transform="translate(977.6,724.7) rotate(-45)" text-anchor="end">3</text><text transform="translate(986.1,724.7) rotate(-45)" text-anchor="end">4</text><text transform="translate(994.6,724.7) rotate(-45)" text-anchor="end">5</text><text transform="translate(1003.2,724.7) rotate(-45)" text-anchor="end">6</text><text transform="translate(1011.7,724.7) rotate(-45)" text-anchor="end">7</text><text transform="translate(1020.2,724.7) rotate(-45)" text-anchor="end">8</text><text transform="translate(1028.7,724.7) rotate(-45)" text-anchor="end">9</text><text transform="translate(1037.3,724.7) rotate(-45)" text-anchor="end">10</text><text transform="translate(1045.8,724.7) rotate(-45)" text-anchor="end">11</text><text transform="translate(1054.3,724.7) rotate(-45)" text-anchor="end">12</text><text transform="translate(1062.9,724.7) rotate(-45)" text-anchor="end">13</text><text transform="translate(1071.4,724.7) rotate(-45)" text-anchor="end">14</text><text transform="translate(1079.9,724.7) rotate(-45)" text-anchor="end">15</text><text transform="translate(1088.5,724.7) rotate(-45)" text-anchor="end">16</text><text transform="translate(1097.0,724.7) rotate(-45)" text-anchor="end">17</text><text transform="translate(1105.5,724.7) rotate(-45)" text-anchor="end">18</text><text transform="translate(1114.1,724.7) rotate(-45)" text-anchor="end">19</text><text transform="translate(1122.6,724.7) rotate(-45)" text-anchor="end">20</text><text transform="translate(1131.1,724.7) rotate(-45)" text-anchor="end">21</text><text transform="translate(1139.7,724.7) rotate(-45)" text-anchor="end">22</text><text transform="translate(1148.2,724.7) rotate(-45)" text-anchor="end">23</text><text transform="translate(1156.7,724.7) rotate(-45)" text-anchor="end">24</text><text transform="translate(1165.2,724.7) rotate(-45)" text-anchor="end">25</text><text transform="translate(1173.8,724.7) rotate(-45)" text-anchor="end">26</text><text transform="translate(1182.3,724.7) rotate(-45)" text-anchor="end">27</text><text transform="translate(1190.8,724.7) rotate(-45)" text-anchor="end">28</text><text transform="translate(1199.4,724.7) rotate(-45)" text-anchor="end">29</text><text transform="translate(1207.9,724.7) rotate(-45)" text-anchor="end">30</text><text transform="translate(1216.4,724.7) rotate(-45)" text-anchor="end">31</text><text transform="translate(1225.0,724.7) rotate(-45)" text-anchor="end">32</text><text transform="translate(1233.5,724.7) rotate(-45)" text-anchor="end">33</text><text transform="translate(1242.0,724.7) rotate(-45)" text-anchor="end">34</text><text transform="translate(1250.6,724.7) rotate(-45)" text-anchor="end">35</text><text transform="translate(1259.1,724.7) rotate(-45)" text-anchor="end">36</text><text transform="translate(1267.6,724.7) rotate(-45)" text-anchor="end">37</text><text transform="translate(1276.2,724.7) rotate(-45)" text-anchor="end">38</text><text transform="translate(1284.7,724.7) rotate(-45)" text-anchor="end">39</text><text transform="translate(1293.2,724.7) rotate(-45)" text-anchor="end">40</text><text transform="translate(1301.7,724.7) rotate(-45)" text-anchor="end">41</text><text transform="translate(1310.3,724.7) rotate(-45)" text-anchor="end">42</text><text transform="translate(1318.8,724.7) rotate(-45)" text-anchor="end">43</text><text transform="translate(1327.3,724.7) rotate(-45)" text-anchor="end">44</text><text transform="translate(1335.9,724.7) rotate(-45)" text-anchor="end">45</text><text transform="translate(1344.4,724.7) rotate(-45)" text-anchor="end">46</text><text transform="translate(1352.9,724.7) rotate(-45)" text-anchor="end">47</text><text transform="translate(1361.5,724.7) rotate(-45)" text-anchor="end">48</text><text transform="translate(1370.0,724.7) rotate(-45)" text-anchor="end">49</text><text transform="translate(1378.5,724.7) rotate(-45)" text-anchor="end">50</text><text transform="translate(1387.1,724.7) rotate(-45)" text-anchor="end">51</text><text transform="translate(1395.6,724.7) rotate(-45)" text-anchor="end">52</text><text transform="translate(1404.1,724.7) rotate(-45)" text-anchor="end">53</text><text transform="translate(1412.7,724.7) rotate(-45)" text-anchor="end">54</text><text transform="translate(1421.2,724.7) rotate(-45)" text-anchor="end">55</text><text transform="translate(1429.7,724.7) rotate(-45)" text-anchor="end">56</text><text transform="translate(1438.2,724.7) rotate(-45)" text-anchor="end">57</text><text transform="translate(1446.8,724.7) rotate(-45)" text-anchor="end">58</text><text transform="translate(1455.3,724.7) rotate(-45)" text-anchor="end">59</text><text transform="translate(1463.8,724.7) rotate(-45)" text-anchor="end">60</text><text transform="translate(1472.4,724.7) rotate(-45)" text-anchor="end">61</text><text transform="translate(1480.9,724.7) rotate(-45)" text-anchor="end">62</text><text transform="translate(1489.4,724.7) rotate(-45)" text-anchor="end">63</text></g>
<defs><linearGradient id="cb629" x1="0" y1="0" x2="0" y2="1"><stop offset="0.0" stop-color="#a50026"/><stop offset="0.1" stop-color="#d73027"/><stop offset="0.2" stop-color="#f46d43"/><stop offset="0.3" stop-color="#fdae61"/><stop offset="0.4" stop-color="#fee090"/><stop offset="0.5" stop-color="#ffffbf"/><stop offset="0.6" stop-color="#e0f3f8"/><stop offset="0.7" stop-color="#abd9e9"/><stop offset="0.8" stop-color="#74add1"/><stop offset="0.9" stop-color="#4575b4"/><stop offset="1.0" stop-color="#313695"/></linearGradient></defs>
<rect x="1528.4" y="629.6" width="5.8" height="88.69999999999993" fill="url(#cb629)"/>
<line x1="1534.2" y1="644.5" x2="1536.2" y2="644.5" stroke="#333" stroke-width="0.5"/>
<text x="1536.7" y="648.0" font-family="'Liberation Serif', serif" font-size="10" font-weight="400" fill="#111" >0.3</text>
<line x1="1534.2" y1="669.5" x2="1536.2" y2="669.5" stroke="#333" stroke-width="0.5"/>
<text x="1536.7" y="673.0" font-family="'Liberation Serif', serif" font-size="10" font-weight="400" fill="#111" >0.2</text>
<line x1="1534.2" y1="694.5" x2="1536.2" y2="694.5" stroke="#333" stroke-width="0.5"/>
<text x="1536.7" y="698.0" font-family="'Liberation Serif', serif" font-size="10" font-weight="400" fill="#111" >0.1</text>
<text x="1221.6" y="744.0" font-family="'Liberation Serif', serif" font-size="10.5" font-weight="400" fill="#111" text-anchor="middle" >Experts</text>
<text x="1007.7" y="1369.4" font-family="'Liberation Serif', serif" font-size="15" font-weight="400" fill="#111" textLength="504.5" lengthAdjust="spacingAndGlyphs" >Table 1: Comparison with LoRA-based methods using OLMoE-1.3B-7B model.</text>
<line x1="948" y1="1375.2" x2="1572" y2="1375.2" stroke="#333" stroke-width="1.1"/>
<line x1="1068.3" y1="1391.6" x2="1572" y2="1391.6" stroke="#333" stroke-width="0.8"/>
<line x1="948" y1="1419.4" x2="1572" y2="1419.4" stroke="#333" stroke-width="0.9"/>
<line x1="948" y1="1423.1" x2="1572" y2="1423.1" stroke="#333" stroke-width="0.9"/>
<line x1="948" y1="1487" x2="1572" y2="1487" stroke="#333" stroke-width="0.9"/>
<line x1="948" y1="1550.3" x2="1572" y2="1550.3" stroke="#333" stroke-width="1.1"/>
<line x1="984.4" y1="1375.2" x2="984.4" y2="1419.4" stroke="#333" stroke-width="0.9"/>
<line x1="984.4" y1="1423.1" x2="984.4" y2="1550.3" stroke="#333" stroke-width="0.9"/>
<line x1="1068.3" y1="1375.2" x2="1068.3" y2="1419.4" stroke="#333" stroke-width="0.9"/>
<line x1="1068.3" y1="1423.1" x2="1068.3" y2="1550.3" stroke="#333" stroke-width="0.9"/>
<line x1="1320.5" y1="1375.2" x2="1320.5" y2="1419.4" stroke="#333" stroke-width="0.9"/>
<line x1="1320.5" y1="1423.1" x2="1320.5" y2="1550.3" stroke="#333" stroke-width="0.9"/>
<text x="1194.4" y="1385.0" font-family="'Liberation Serif', serif" font-size="9.5" font-weight="400" fill="#111" text-anchor="middle" ><tspan font-weight="700">IID</tspan> (<tspan font-style="italic">α</tspan> = 5.0)</text>
<text x="1446.3" y="1385.0" font-family="'Liberation Serif', serif" font-size="9.5" font-weight="400" fill="#111" text-anchor="middle" ><tspan font-weight="700">Non-IID</tspan> (<tspan font-style="italic">α</tspan> = 0.5)</text>
<text x="1026.6" y="1394.3" font-family="'Liberation Serif', serif" font-size="8.8" font-weight="700" fill="#111" text-anchor="middle" >Computation</text>
<text x="1026.6" y="1403.5" font-family="'Liberation Serif', serif" font-size="8.8" font-weight="700" fill="#111" text-anchor="middle" >budget</text>
<text x="1095.4" y="1403.0" font-family="'Liberation Serif', serif" font-size="8.8" font-weight="700" fill="#111" text-anchor="middle" >Homo-</text>
<text x="1095.4" y="1412.7" font-family="'Liberation Serif', serif" font-size="8.8" font-weight="700" fill="#111" text-anchor="middle" >LoRA</text>
<text x="1347.9" y="1403.0" font-family="'Liberation Serif', serif" font-size="8.8" font-weight="700" fill="#111" text-anchor="middle" >Homo-</text>
<text x="1347.9" y="1412.7" font-family="'Liberation Serif', serif" font-size="8.8" font-weight="700" fill="#111" text-anchor="middle" >LoRA</text>
<text x="1155.3" y="1403.0" font-family="'Liberation Serif', serif" font-size="8.8" font-weight="700" fill="#111" text-anchor="middle" >HetLoRA</text>
<text x="1407.7" y="1403.0" font-family="'Liberation Serif', serif" font-size="8.8" font-weight="700" fill="#111" text-anchor="middle" >HetLoRA</text>
<text x="1221.4" y="1403.0" font-family="'Liberation Serif', serif" font-size="8.8" font-weight="700" fill="#111" text-anchor="middle" >FlexLoRA</text>
<text x="1473.4" y="1403.0" font-family="'Liberation Serif', serif" font-size="8.8" font-weight="700" fill="#111" text-anchor="middle" >FlexLoRA</text>
<text x="1287.0" y="1403.0" font-family="'Liberation Serif', serif" font-size="8.8" font-weight="700" fill="#111" text-anchor="middle" >A<tspan font-size="6.5" baseline-shift="4" font-weight="400">3</tspan>SMoE</text>
<text x="1539.4" y="1403.0" font-family="'Liberation Serif', serif" font-size="8.8" font-weight="700" fill="#111" text-anchor="middle" >A<tspan font-size="6.5" baseline-shift="4" font-weight="400">3</tspan>SMoE</text>
<g font-family="'Liberation Serif', serif" font-size="9.8" fill="#111"><text x="1026.6" y="1433.3" text-anchor="middle"><tspan font-style="italic">β</tspan><tspan font-size="7" baseline-shift="-2">1</tspan> (0.6B)</text><text x="1095.4" y="1433.3" text-anchor="middle">0.0777</text><text x="1155.3" y="1433.3" text-anchor="middle">0.0659</text><text x="1221.4" y="1433.3" text-anchor="middle">0.0690</text><text x="1287" y="1433.3" text-anchor="middle" font-weight="700">0.2255</text><text x="1347.9" y="1433.3" text-anchor="middle">0.0818</text><text x="1407.7" y="1433.3" text-anchor="middle">0.0648</text><text x="1473.4" y="1433.3" text-anchor="middle">0.0657</text><text x="1539.4" y="1433.3" text-anchor="middle" font-weight="700">0.2157</text><text x="1026.6" y="1449" text-anchor="middle"><tspan font-style="italic">β</tspan><tspan font-size="7" baseline-shift="-2">2</tspan> (0.7B)</text><text x="1095.4" y="1449" text-anchor="middle">0.2400</text><text x="1155.3" y="1449" text-anchor="middle">0.1845</text><text x="1221.4" y="1449" text-anchor="middle">0.2091</text><text x="1287" y="1449" text-anchor="middle" font-weight="700">0.2769</text><text x="1347.9" y="1449" text-anchor="middle">0.2350</text><text x="1407.7" y="1449" text-anchor="middle">0.1863</text><text x="1473.4" y="1449" text-anchor="middle">0.2019</text><text x="1539.4" y="1449" text-anchor="middle" font-weight="700">0.2855</text><text x="1026.6" y="1464.9" text-anchor="middle"><tspan font-style="italic">β</tspan><tspan font-size="7" baseline-shift="-2">3</tspan> (0.9B)</text><text x="1095.4" y="1464.9" text-anchor="middle">0.3201</text><text x="1155.3" y="1464.9" text-anchor="middle">0.3041</text><text x="1221.4" y="1464.9" text-anchor="middle">0.3144</text><text x="1287" y="1464.9" text-anchor="middle" font-weight="700">0.3301</text><text x="1347.9" y="1464.9" text-anchor="middle">0.3146</text><text x="1407.7" y="1464.9" text-anchor="middle">0.2987</text><text x="1473.4" y="1464.9" text-anchor="middle">0.3068</text><text x="1539.4" y="1464.9" text-anchor="middle" font-weight="700">0.3294</text><text x="1026.6" y="1480.6" text-anchor="middle"><tspan font-style="italic">β</tspan><tspan font-size="7" baseline-shift="-2">4</tspan> (1.3B)</text><text x="1095.4" y="1480.6" text-anchor="middle">0.3347</text><text x="1155.3" y="1480.6" text-anchor="middle">0.3275</text><text x="1221.4" y="1480.6" text-anchor="middle">0.3361</text><text x="1287" y="1480.6" text-anchor="middle" font-weight="700">0.3414</text><text x="1347.9" y="1480.6" text-anchor="middle">0.3296</text><text x="1407.7" y="1480.6" text-anchor="middle">0.3252</text><text x="1473.4" y="1480.6" text-anchor="middle">0.3327</text><text x="1539.4" y="1480.6" text-anchor="middle" font-weight="700">0.3397</text><text x="1026.6" y="1497" text-anchor="middle"><tspan font-style="italic">β</tspan><tspan font-size="7" baseline-shift="-2">1</tspan> (0.6B)</text><text x="1095.4" y="1497" text-anchor="middle">0.0673</text><text x="1155.3" y="1497" text-anchor="middle">0.0619</text><text x="1221.4" y="1497" text-anchor="middle">0.0628</text><text x="1287" y="1497" text-anchor="middle" font-weight="700">0.1885</text><text x="1347.9" y="1497" text-anchor="middle">0.0648</text><text x="1407.7" y="1497" text-anchor="middle">0.0627</text><text x="1473.4" y="1497" text-anchor="middle">0.0645</text><text x="1539.4" y="1497" text-anchor="middle" font-weight="700">0.1927</text><text x="1026.6" y="1512.8" text-anchor="middle"><tspan font-style="italic">β</tspan><tspan font-size="7" baseline-shift="-2">2</tspan> (0.7B)</text><text x="1095.4" y="1512.8" text-anchor="middle">0.2203</text><text x="1155.3" y="1512.8" text-anchor="middle">0.1372</text><text x="1221.4" y="1512.8" text-anchor="middle">0.1432</text><text x="1287" y="1512.8" text-anchor="middle" font-weight="700">0.2608</text><text x="1347.9" y="1512.8" text-anchor="middle">0.2290</text><text x="1407.7" y="1512.8" text-anchor="middle">0.1289</text><text x="1473.4" y="1512.8" text-anchor="middle">0.1476</text><text x="1539.4" y="1512.8" text-anchor="middle" font-weight="700">0.2588</text><text x="1026.6" y="1528.5" text-anchor="middle"><tspan font-style="italic">β</tspan><tspan font-size="7" baseline-shift="-2">3</tspan> (0.9B)</text><text x="1095.4" y="1528.5" text-anchor="middle">0.2948</text><text x="1155.3" y="1528.5" text-anchor="middle">0.2731</text><text x="1221.4" y="1528.5" text-anchor="middle">0.2955</text><text x="1287" y="1528.5" text-anchor="middle" font-weight="700">0.3059</text><text x="1347.9" y="1528.5" text-anchor="middle">0.2951</text><text x="1407.7" y="1528.5" text-anchor="middle">0.2742</text><text x="1473.4" y="1528.5" text-anchor="middle">0.2843</text><text x="1539.4" y="1528.5" text-anchor="middle" font-weight="700">0.3012</text><text x="1026.6" y="1544" text-anchor="middle"><tspan font-style="italic">β</tspan><tspan font-size="7" baseline-shift="-2">4</tspan> (1.3B)</text><text x="1095.4" y="1544" text-anchor="middle">0.3111</text><text x="1155.3" y="1544" text-anchor="middle">0.3101</text><text x="1221.4" y="1544" text-anchor="middle" font-weight="700">0.3231</text><text x="1287" y="1544" text-anchor="middle">0.3156</text><text x="1347.9" y="1544" text-anchor="middle">0.3138</text><text x="1407.7" y="1544" text-anchor="middle">0.3055</text><text x="1473.4" y="1544" text-anchor="middle">0.3141</text><text x="1539.4" y="1544" text-anchor="middle" font-weight="700">0.3152</text></g>
<text font-family="'Liberation Serif', serif" font-size="9.8" fill="#111" text-anchor="middle" transform="translate(969.5,1453.8) rotate(-90)">8 clients</text>
<text font-family="'Liberation Serif', serif" font-size="9.8" fill="#111" text-anchor="middle" transform="translate(969.5,1517.5) rotate(-90)">40 clients</text>
<defs><pattern id="hatch" patternUnits="userSpaceOnUse" width="17.3" height="17.3" patternTransform="translate(0,5)"><rect width="17.3" height="17.3" fill="#4a90e2"/><path d="M-1,18.3 L18.3,-1" stroke="#111" stroke-width="0.9"/></pattern><pattern id="dots" patternUnits="userSpaceOnUse" width="5.15" height="5.3"><rect width="5.15" height="5.3" fill="#5cb35c"/><rect x="1.6" y="1.6" width="1.8" height="1.8" fill="#111"/></pattern></defs>
<path d="M962.2,1785.2H1082.2M962.2,1767.0H1082.2M962.2,1748.8H1082.2M962.2,1730.6H1082.2M962.2,1712.4H1082.2M962.2,1694.2H1082.2M962.2,1676.0H1082.2M962.2,1657.8H1082.2M978.1,1655.7V1785.2M1007.6,1655.7V1785.2M1037.1,1655.7V1785.2M1066.6,1655.7V1785.2" stroke="#d0d0d0" stroke-width="0.5" stroke-dasharray="1,1"/>
<rect x="967.8" y="1761.2" width="10.3" height="24.0" fill="url(#hatch)"/>
<rect x="978.1" y="1759.0" width="10.3" height="26.2" fill="url(#dots)"/>
<text x="978.1" y="1795.5" font-family="'Liberation Serif', serif" font-size="9" font-weight="400" fill="#222" text-anchor="middle" ><tspan font-style="italic">β</tspan><tspan font-size="6" baseline-shift="-2">1</tspan></text>
<rect x="997.3" y="1712.0" width="10.3" height="73.2" fill="url(#hatch)"/>
<rect x="1007.6" y="1697.8" width="10.3" height="87.4" fill="url(#dots)"/>
<text x="1007.6" y="1795.5" font-family="'Liberation Serif', serif" font-size="9" font-weight="400" fill="#222" text-anchor="middle" ><tspan font-style="italic">β</tspan><tspan font-size="6" baseline-shift="-2">2</tspan></text>
<rect x="1026.8" y="1673.5" width="10.3" height="111.7" fill="url(#hatch)"/>
<rect x="1037.1" y="1668.0" width="10.3" height="117.2" fill="url(#dots)"/>
<text x="1037.1" y="1795.5" font-family="'Liberation Serif', serif" font-size="9" font-weight="400" fill="#222" text-anchor="middle" ><tspan font-style="italic">β</tspan><tspan font-size="6" baseline-shift="-2">3</tspan></text>
<rect x="1056.3" y="1664.0" width="10.3" height="121.2" fill="url(#hatch)"/>
<rect x="1066.6" y="1661.8" width="10.3" height="123.4" fill="url(#dots)"/>
<text x="1066.6" y="1795.5" font-family="'Liberation Serif', serif" font-size="9" font-weight="400" fill="#222" text-anchor="middle" ><tspan font-style="italic">β</tspan><tspan font-size="6" baseline-shift="-2">4</tspan></text>
<rect x="962.2" y="1655.7" width="120" height="129.5" fill="none" stroke="#555" stroke-width="0.8"/>
<path d="M962.2,1785.2h2.5M1082.2,1785.2h-2.5M962.2,1767.0h2.5M1082.2,1767.0h-2.5M962.2,1748.8h2.5M1082.2,1748.8h-2.5M962.2,1730.6h2.5M1082.2,1730.6h-2.5M962.2,1712.4h2.5M1082.2,1712.4h-2.5M962.2,1694.2h2.5M1082.2,1694.2h-2.5M962.2,1676.0h2.5M1082.2,1676.0h-2.5M962.2,1657.8h2.5M1082.2,1657.8h-2.5" stroke="#444" stroke-width="0.5"/>
<text x="1022.2" y="1651.6" font-family="'Liberation Serif', serif" font-size="13.5" font-weight="400" fill="#111" text-anchor="middle" >C=8, α=0.5</text>
<path d="M1088.1,1785.2H1208.1M1088.1,1767.0H1208.1M1088.1,1748.8H1208.1M1088.1,1730.6H1208.1M1088.1,1712.4H1208.1M1088.1,1694.2H1208.1M1088.1,1676.0H1208.1M1088.1,1657.8H1208.1M1104.0,1655.7V1785.2M1133.5,1655.7V1785.2M1163.0,1655.7V1785.2M1192.5,1655.7V1785.2" stroke="#d0d0d0" stroke-width="0.5" stroke-dasharray="1,1"/>
<rect x="1093.7" y="1760.1" width="10.3" height="25.1" fill="url(#hatch)"/>
<rect x="1104.0" y="1758.3" width="10.3" height="26.9" fill="url(#dots)"/>
<text x="1104.0" y="1795.5" font-family="'Liberation Serif', serif" font-size="9" font-weight="400" fill="#222" text-anchor="middle" ><tspan font-style="italic">β</tspan><tspan font-size="6" baseline-shift="-2">1</tspan></text>
<rect x="1123.2" y="1709.1" width="10.3" height="76.1" fill="url(#hatch)"/>
<rect x="1133.5" y="1697.8" width="10.3" height="87.4" fill="url(#dots)"/>
<text x="1133.5" y="1795.5" font-family="'Liberation Serif', serif" font-size="9" font-weight="400" fill="#222" text-anchor="middle" ><tspan font-style="italic">β</tspan><tspan font-size="6" baseline-shift="-2">2</tspan></text>
<rect x="1152.7" y="1670.5" width="10.3" height="114.7" fill="url(#hatch)"/>
<rect x="1163.0" y="1668.0" width="10.3" height="117.2" fill="url(#dots)"/>
<text x="1163.0" y="1795.5" font-family="'Liberation Serif', serif" font-size="9" font-weight="400" fill="#222" text-anchor="middle" ><tspan font-style="italic">β</tspan><tspan font-size="6" baseline-shift="-2">3</tspan></text>
<rect x="1182.2" y="1662.9" width="10.3" height="122.3" fill="url(#hatch)"/>
<rect x="1192.5" y="1661.4" width="10.3" height="123.8" fill="url(#dots)"/>
<text x="1192.5" y="1795.5" font-family="'Liberation Serif', serif" font-size="9" font-weight="400" fill="#222" text-anchor="middle" ><tspan font-style="italic">β</tspan><tspan font-size="6" baseline-shift="-2">4</tspan></text>
<rect x="1088.1" y="1655.7" width="120" height="129.5" fill="none" stroke="#555" stroke-width="0.8"/>
<path d="M1088.1,1785.2h2.5M1208.1,1785.2h-2.5M1088.1,1767.0h2.5M1208.1,1767.0h-2.5M1088.1,1748.8h2.5M1208.1,1748.8h-2.5M1088.1,1730.6h2.5M1208.1,1730.6h-2.5M1088.1,1712.4h2.5M1208.1,1712.4h-2.5M1088.1,1694.2h2.5M1208.1,1694.2h-2.5M1088.1,1676.0h2.5M1208.1,1676.0h-2.5M1088.1,1657.8h2.5M1208.1,1657.8h-2.5" stroke="#444" stroke-width="0.5"/>
<text x="1148.1" y="1651.6" font-family="'Liberation Serif', serif" font-size="13.5" font-weight="400" fill="#111" text-anchor="middle" >C=8, α=5.0</text>
<path d="M1214.0,1785.2H1334.0M1214.0,1767.0H1334.0M1214.0,1748.8H1334.0M1214.0,1730.6H1334.0M1214.0,1712.4H1334.0M1214.0,1694.2H1334.0M1214.0,1676.0H1334.0M1214.0,1657.8H1334.0M1229.9,1655.7V1785.2M1259.4,1655.7V1785.2M1288.9,1655.7V1785.2M1318.4,1655.7V1785.2" stroke="#d0d0d0" stroke-width="0.5" stroke-dasharray="1,1"/>
<rect x="1219.6" y="1761.5" width="10.3" height="23.7" fill="url(#hatch)"/>
<rect x="1229.9" y="1760.1" width="10.3" height="25.1" fill="url(#dots)"/>
<text x="1229.9" y="1795.5" font-family="'Liberation Serif', serif" font-size="9" font-weight="400" fill="#222" text-anchor="middle" ><tspan font-style="italic">β</tspan><tspan font-size="6" baseline-shift="-2">1</tspan></text>
<rect x="1249.1" y="1731.7" width="10.3" height="53.5" fill="url(#hatch)"/>
<rect x="1259.4" y="1718.2" width="10.3" height="67.0" fill="url(#dots)"/>
<text x="1259.4" y="1795.5" font-family="'Liberation Serif', serif" font-size="9" font-weight="400" fill="#222" text-anchor="middle" ><tspan font-style="italic">β</tspan><tspan font-size="6" baseline-shift="-2">2</tspan></text>
<rect x="1278.6" y="1682.2" width="10.3" height="103.0" fill="url(#hatch)"/>
<rect x="1288.9" y="1678.5" width="10.3" height="106.7" fill="url(#dots)"/>
<text x="1288.9" y="1795.5" font-family="'Liberation Serif', serif" font-size="9" font-weight="400" fill="#222" text-anchor="middle" ><tspan font-style="italic">β</tspan><tspan font-size="6" baseline-shift="-2">3</tspan></text>
<rect x="1308.1" y="1671.3" width="10.3" height="113.9" fill="url(#hatch)"/>
<rect x="1318.4" y="1668.0" width="10.3" height="117.2" fill="url(#dots)"/>
<text x="1318.4" y="1795.5" font-family="'Liberation Serif', serif" font-size="9" font-weight="400" fill="#222" text-anchor="middle" ><tspan font-style="italic">β</tspan><tspan font-size="6" baseline-shift="-2">4</tspan></text>
<rect x="1214.0" y="1655.7" width="120" height="129.5" fill="none" stroke="#555" stroke-width="0.8"/>
<path d="M1214.0,1785.2h2.5M1334.0,1785.2h-2.5M1214.0,1767.0h2.5M1334.0,1767.0h-2.5M1214.0,1748.8h2.5M1334.0,1748.8h-2.5M1214.0,1730.6h2.5M1334.0,1730.6h-2.5M1214.0,1712.4h2.5M1334.0,1712.4h-2.5M1214.0,1694.2h2.5M1334.0,1694.2h-2.5M1214.0,1676.0h2.5M1334.0,1676.0h-2.5M1214.0,1657.8h2.5M1334.0,1657.8h-2.5" stroke="#444" stroke-width="0.5"/>
<text x="1274.0" y="1651.6" font-family="'Liberation Serif', serif" font-size="13.5" font-weight="400" fill="#111" text-anchor="middle" >C=40, α=0.5</text>
<path d="M1339.9,1785.2H1459.9M1339.9,1767.0H1459.9M1339.9,1748.8H1459.9M1339.9,1730.6H1459.9M1339.9,1712.4H1459.9M1339.9,1694.2H1459.9M1339.9,1676.0H1459.9M1339.9,1657.8H1459.9M1355.8,1655.7V1785.2M1385.3,1655.7V1785.2M1414.8,1655.7V1785.2M1444.3,1655.7V1785.2" stroke="#d0d0d0" stroke-width="0.5" stroke-dasharray="1,1"/>
<rect x="1345.5" y="1762.3" width="10.3" height="22.9" fill="url(#hatch)"/>
<rect x="1355.8" y="1760.4" width="10.3" height="24.8" fill="url(#dots)"/>
<text x="1355.8" y="1795.5" font-family="'Liberation Serif', serif" font-size="9" font-weight="400" fill="#222" text-anchor="middle" ><tspan font-style="italic">β</tspan><tspan font-size="6" baseline-shift="-2">1</tspan></text>
<rect x="1375.0" y="1733.1" width="10.3" height="52.1" fill="url(#hatch)"/>
<rect x="1385.3" y="1730.6" width="10.3" height="54.6" fill="url(#dots)"/>
<text x="1385.3" y="1795.5" font-family="'Liberation Serif', serif" font-size="9" font-weight="400" fill="#222" text-anchor="middle" ><tspan font-style="italic">β</tspan><tspan font-size="6" baseline-shift="-2">2</tspan></text>
<rect x="1404.5" y="1677.5" width="10.3" height="107.7" fill="url(#hatch)"/>
<rect x="1414.8" y="1674.9" width="10.3" height="110.3" fill="url(#dots)"/>
<text x="1414.8" y="1795.5" font-family="'Liberation Serif', serif" font-size="9" font-weight="400" fill="#222" text-anchor="middle" ><tspan font-style="italic">β</tspan><tspan font-size="6" baseline-shift="-2">3</tspan></text>
<rect x="1434.0" y="1667.6" width="10.3" height="117.6" fill="url(#hatch)"/>
<rect x="1444.3" y="1666.9" width="10.3" height="118.3" fill="url(#dots)"/>
<text x="1444.3" y="1795.5" font-family="'Liberation Serif', serif" font-size="9" font-weight="400" fill="#222" text-anchor="middle" ><tspan font-style="italic">β</tspan><tspan font-size="6" baseline-shift="-2">4</tspan></text>
<rect x="1339.9" y="1655.7" width="120" height="129.5" fill="none" stroke="#555" stroke-width="0.8"/>
<path d="M1339.9,1785.2h2.5M1459.9,1785.2h-2.5M1339.9,1767.0h2.5M1459.9,1767.0h-2.5M1339.9,1748.8h2.5M1459.9,1748.8h-2.5M1339.9,1730.6h2.5M1459.9,1730.6h-2.5M1339.9,1712.4h2.5M1459.9,1712.4h-2.5M1339.9,1694.2h2.5M1459.9,1694.2h-2.5M1339.9,1676.0h2.5M1459.9,1676.0h-2.5M1339.9,1657.8h2.5M1459.9,1657.8h-2.5" stroke="#444" stroke-width="0.5"/>
<text x="1399.9" y="1651.6" font-family="'Liberation Serif', serif" font-size="13.5" font-weight="400" fill="#111" text-anchor="middle" >C=40, α=5.0</text>
<g font-family="'Liberation Serif', serif" font-size="6.3" fill="#333"><text x="960" y="1787.2" text-anchor="end">0.00</text><text x="960" y="1769.0" text-anchor="end">0.05</text><text x="960" y="1750.8" text-anchor="end">0.10</text><text x="960" y="1732.6" text-anchor="end">0.15</text><text x="960" y="1714.4" text-anchor="end">0.20</text><text x="960" y="1696.2" text-anchor="end">0.25</text><text x="960" y="1678.0" text-anchor="end">0.30</text><text x="960" y="1659.8" text-anchor="end">0.35</text></g>
<text font-family="'Liberation Serif', serif" font-size="14" fill="#222" text-anchor="middle" transform="translate(941,1720.5) rotate(-90)">ROUGE-L</text>
<rect x="1470.7" y="1706.3" width="114.5" height="27.4" fill="#fff" stroke="#333" stroke-width="0.8"/>
<rect x="1475" y="1710.5" width="16" height="7" fill="url(#hatch)"/>
<rect x="1475" y="1722.5" width="16" height="7" fill="url(#dots)"/>
<text x="1496.0" y="1716.8" font-family="'Liberation Serif', serif" font-size="8" font-weight="400" fill="#222" >FlexLoRA</text>
<text x="1496.0" y="1729.0" font-family="'Liberation Serif', serif" font-size="8" font-weight="400" fill="#222" >FlexLoRA+A<tspan font-size="5.5" baseline-shift="3">3</tspan>SMoE</text>
<path d="M388,1869.4 L379,1869.4 A11.5,11.5 0 0 1 380,1846.5 A22,22 0 0 1 425.5,1847 A11.5,11.5 0 0 1 426.5,1869.4 L418,1869.4" fill="none" stroke="#111" stroke-width="1.8" stroke-linejoin="round"/>
<rect x="387.3" y="1848" width="31" height="8.8" rx="2" fill="#fff" stroke="#111" stroke-width="1.6"/>
<path d="M391,1852.4h12" stroke="#111" stroke-width="2"/><circle cx="408.5" cy="1852.4" r="1.1" fill="#111"/><circle cx="413" cy="1852.4" r="1.1" fill="#111"/>
<rect x="387.3" y="1857.7" width="31" height="8.8" rx="2" fill="#fff" stroke="#111" stroke-width="1.6"/>
<path d="M391,1862.1000000000001h12" stroke="#111" stroke-width="2"/><circle cx="408.5" cy="1862.1000000000001" r="1.1" fill="#111"/><circle cx="413" cy="1862.1000000000001" r="1.1" fill="#111"/>
<rect x="387.3" y="1867.4" width="31" height="8.8" rx="2" fill="#fff" stroke="#111" stroke-width="1.6"/>
<path d="M391,1871.8000000000002h12" stroke="#111" stroke-width="2"/><circle cx="408.5" cy="1871.8000000000002" r="1.1" fill="#111"/><circle cx="413" cy="1871.8000000000002" r="1.1" fill="#111"/>
<path d="M402.8,1876.2V1892.7 M398.5,1876.2V1886.5H384.6V1894.5 M407.1,1876.2V1886.5H421V1894.5 M394,1876.2V1884.2H375 M411.6,1876.2V1884.2H430.8" fill="none" stroke="#111" stroke-width="1.5"/>
<circle cx="402.8" cy="1895.7" r="2.9" fill="#fff" stroke="#111" stroke-width="1.5"/>
<circle cx="384.6" cy="1897.5" r="2.9" fill="#fff" stroke="#111" stroke-width="1.5"/>
<circle cx="421" cy="1897.5" r="2.9" fill="#fff" stroke="#111" stroke-width="1.5"/>
<circle cx="371.8" cy="1884.2" r="2.9" fill="#fff" stroke="#111" stroke-width="1.5"/>
<circle cx="433.9" cy="1884.2" r="2.9" fill="#fff" stroke="#111" stroke-width="1.5"/>
<path d="M165.4,1953 C165.4,1938 180,1934.5 230,1934.5 L330,1934.5 C372,1934.5 384.3,1926 384.3,1912" fill="none" stroke="#111" stroke-width="1.7"/>
<path d="M422.8,1912 C422.8,1926 436,1934.5 478,1934.5 L610,1934.5 C655,1934.5 669.9,1938 669.9,1953" fill="none" stroke="#111" stroke-width="1.7"/>
<line x1="402.8" y1="1912" x2="402.8" y2="1954" stroke="#111" stroke-width="1.7"/>
<path d="M384.3,1906.0L390.8,1919.0L384.3,1915.8L377.8,1919.0Z" fill="#000"/>
<path d="M402.8,1906.0L409.3,1919.0L402.8,1915.8L396.3,1919.0Z" fill="#000"/>
<path d="M422.8,1906.0L429.3,1919.0L422.8,1915.8L416.3,1919.0Z" fill="#000"/>
<path d="M165.4,1960.0L159.4,1948.0L165.4,1951.0L171.4,1948.0Z" fill="#000"/>
<path d="M402.8,1960.0L396.8,1948.0L402.8,1951.0L408.8,1948.0Z" fill="#000"/>
<path d="M669.9,1960.0L663.9,1948.0L669.9,1951.0L675.9,1948.0Z" fill="#000"/>
<rect x="70.2" y="1962.0" width="190.5" height="239.4" fill="none" stroke="#eed6d6" stroke-width="7"/>
<rect x="85.5" y="2031.4" width="30.7" height="30.7" rx="4" fill="#f8cecc" stroke="#b85450" stroke-width="1.1"/>
<text x="98.3" y="2053.6" font-family="'Liberation Serif', serif" font-size="20" font-weight="400" fill="#111" text-anchor="middle" ><tspan font-style="italic">E</tspan><tspan font-size="12" baseline-shift="-4" font-style="normal">1</tspan></text>
<rect x="117.4" y="2031.4" width="29.6" height="30.7" rx="4" fill="#e8edf2" stroke="#b4c2d2" stroke-width="1.1"/>
<text x="129.7" y="2053.6" font-family="'Liberation Serif', serif" font-size="20" font-weight="400" fill="#111" text-anchor="middle" ><tspan font-style="italic">E</tspan><tspan font-size="12" baseline-shift="-4" font-style="normal">2</tspan></text>
<rect x="148.0" y="2031.4" width="29.9" height="30.7" rx="4" fill="#e8edf2" stroke="#b4c2d2" stroke-width="1.1"/>
<text x="160.4" y="2053.6" font-family="'Liberation Serif', serif" font-size="20" font-weight="400" fill="#111" text-anchor="middle" ><tspan font-style="italic">E</tspan><tspan font-size="12" baseline-shift="-4" font-style="normal">3</tspan></text>
<rect x="179.1" y="2031.4" width="30.1" height="30.7" rx="4" fill="#e8edf2" stroke="#b4c2d2" stroke-width="1.1"/>
<text x="191.6" y="2053.6" font-family="'Liberation Serif', serif" font-size="20" font-weight="400" fill="#111" text-anchor="middle" ><tspan font-style="italic">E</tspan><tspan font-size="12" baseline-shift="-4" font-style="normal">4</tspan></text>
<rect x="219.1" y="2031.4" width="31.0" height="30.7" rx="4" fill="#e8edf2" stroke="#b4c2d2" stroke-width="1.1"/>
<text x="232.1" y="2053.6" font-family="'Liberation Serif', serif" font-size="20" font-weight="400" fill="#111" text-anchor="middle" ><tspan font-style="italic">E</tspan><tspan font-size="12" baseline-shift="-4" font-style="italic">M</tspan></text>
<text x="214.1" y="2054.1" font-family="'Liberation Serif', serif" font-size="14" font-weight="400" fill="#111" text-anchor="middle" >...</text>
<rect x="137.0" y="2091.2" width="10.6" height="30.5" fill="#f8cecc" stroke="#b85450" stroke-width="1"/>
<rect x="147.6" y="2106.5" width="9.7" height="15.2" fill="#e8edf2" stroke="#b4c2d2" stroke-width="1"/>
<rect x="157.3" y="2101.3" width="9.9" height="20.4" fill="#e8edf2" stroke="#b4c2d2" stroke-width="1"/>
<rect x="167.2" y="2111.6" width="9.8" height="10.1" fill="#e8edf2" stroke="#b4c2d2" stroke-width="1"/>
<rect x="177.0" y="2101.3" width="10.0" height="20.4" fill="#e8edf2" stroke="#b4c2d2" stroke-width="1"/>
<rect x="187.0" y="2101.3" width="10.0" height="20.4" fill="#e8edf2" stroke="#b4c2d2" stroke-width="1"/>
<rect x="116.2" y="2120.8" width="93.0" height="30.5" rx="5" fill="#fff" stroke="#111" stroke-width="1.3"/>
<text x="162.7" y="2142.3" font-family="'Liberation Sans', sans-serif" font-size="16.5" font-weight="400" fill="#111" text-anchor="middle" >Router <tspan font-family="'Liberation Serif', serif" font-style="italic" font-size="19">R</tspan></text>
<rect x="129.3" y="2170.8" width="67.1" height="20.8" rx="3" fill="#b1d6ef" stroke="#3f80c0" stroke-width="1.1"/>
<text x="162.9" y="2186.6" font-family="'Liberation Sans', sans-serif" font-size="16" font-weight="400" fill="#111" text-anchor="middle" >Input <tspan font-family="'Liberation Serif', serif" font-style="italic" font-size="18">x</tspan></text>
<line x1="162.9" y1="2170.8" x2="162.9" y2="2156.3" stroke="#111" stroke-width="1.2"/>
<path d="M162.9,2151.3L165.9,2157.3L162.9,2155.8L159.9,2157.3Z" fill="#000"/>
<circle cx="165.4" cy="1995.9" r="15" fill="#f9d9d5" stroke="#b85450" stroke-width="1.3"/>
<path d="M160.9,1995.9h9M165.4,1991.4v9" stroke="#111" stroke-width="1.5"/>
<line x1="165.4" y1="1980.9" x2="165.4" y2="1967.5" stroke="#111" stroke-width="1.3"/>
<path d="M165.4,1962.5L170.9,1973.5L165.4,1970.8L159.9,1973.5Z" fill="#000"/>
<text x="122.0" y="1997.0" font-family="'Liberation Serif', serif" font-size="18" font-weight="400" fill="#111" ><tspan font-style="italic">y</tspan><tspan font-size="12" baseline-shift="-3">1</tspan></text>
<text x="82.2" y="2019.9" font-family="'Liberation Serif', serif" font-size="19" font-weight="400" fill="#111" ><tspan font-style="italic">K</tspan><tspan font-size="13" baseline-shift="-5" >1</tspan></text>
<text x="225.7" y="1982.9" font-family="'Liberation Serif', serif" font-size="19" font-weight="400" fill="#111" ><tspan font-style="italic">L</tspan><tspan font-size="24">×</tspan></text>
<path d="M100.7,2031.4 C100.7,2021.3 165.4,2021.3 165.4,2016.2" fill="none" stroke="#111" stroke-width="1.2"/>
<path d="M165.4,2011.2L168.9,2018.2L165.4,2016.5L161.9,2018.2Z" fill="#000"/>
<path d="M142.3,2091.2 C142.3,2076.8 100.7,2076.8 100.7,2067.5" fill="none" stroke="#111" stroke-width="1.2"/>
<path d="M100.7,2062.5L104.2,2069.5L100.7,2067.8L97.2,2069.5Z" fill="#000"/>
<text x="128.4" y="2225.6" font-family="'Liberation Sans', sans-serif" font-size="17" font-weight="400" fill="#111" textLength="58.6" lengthAdjust="spacingAndGlyphs" >Client <tspan font-family="'Liberation Serif', serif">1</tspan></text>
<rect x="309.1" y="1962.4" width="189.0" height="236.0" fill="none" stroke="#eed6d6" stroke-width="7"/>
<rect x="324.4" y="2030.7" width="28.6" height="29.8" rx="4" fill="#f8cecc" stroke="#b85450" stroke-width="1.1"/>
<text x="336.2" y="2052.0" font-family="'Liberation Serif', serif" font-size="20" font-weight="400" fill="#111" text-anchor="middle" ><tspan font-style="italic">E</tspan><tspan font-size="12" baseline-shift="-4" font-style="normal">1</tspan></text>
<rect x="354.5" y="2030.7" width="28.7" height="29.8" rx="4" fill="#f8cecc" stroke="#b85450" stroke-width="1.1"/>
<text x="366.4" y="2052.0" font-family="'Liberation Serif', serif" font-size="20" font-weight="400" fill="#111" text-anchor="middle" ><tspan font-style="italic">E</tspan><tspan font-size="12" baseline-shift="-4" font-style="normal">2</tspan></text>
<rect x="384.6" y="2030.7" width="28.6" height="29.8" rx="4" fill="#e8edf2" stroke="#b4c2d2" stroke-width="1.1"/>
<text x="396.4" y="2052.0" font-family="'Liberation Serif', serif" font-size="20" font-weight="400" fill="#111" text-anchor="middle" ><tspan font-style="italic">E</tspan><tspan font-size="12" baseline-shift="-4" font-style="normal">3</tspan></text>
<rect x="414.2" y="2030.7" width="29.0" height="29.8" rx="4" fill="#e8edf2" stroke="#b4c2d2" stroke-width="1.1"/>
<text x="426.2" y="2052.0" font-family="'Liberation Serif', serif" font-size="20" font-weight="400" fill="#111" text-anchor="middle" ><tspan font-style="italic">E</tspan><tspan font-size="12" baseline-shift="-4" font-style="normal">4</tspan></text>
<rect x="453.9" y="2030.7" width="29.3" height="29.8" rx="4" fill="#e8edf2" stroke="#b4c2d2" stroke-width="1.1"/>
<text x="466.0" y="2052.0" font-family="'Liberation Serif', serif" font-size="20" font-weight="400" fill="#111" text-anchor="middle" ><tspan font-style="italic">E</tspan><tspan font-size="12" baseline-shift="-4" font-style="italic">M</tspan></text>
<text x="448.5" y="2052.5" font-family="'Liberation Serif', serif" font-size="14" font-weight="400" fill="#111" text-anchor="middle" >...</text>
<rect x="368.6" y="2089.7" width="10.0" height="29.7" fill="#f8cecc" stroke="#b85450" stroke-width="1"/>
<rect x="378.6" y="2099.6" width="9.9" height="19.8" fill="#f8cecc" stroke="#b85450" stroke-width="1"/>
<rect x="388.5" y="2109.3" width="10.0" height="10.1" fill="#e8edf2" stroke="#b4c2d2" stroke-width="1"/>
<rect x="398.5" y="2099.6" width="10.0" height="19.8" fill="#e8edf2" stroke="#b4c2d2" stroke-width="1"/>
<rect x="408.5" y="2109.3" width="9.8" height="10.1" fill="#e8edf2" stroke="#b4c2d2" stroke-width="1"/>
<rect x="418.3" y="2099.6" width="10.2" height="19.8" fill="#e8edf2" stroke="#b4c2d2" stroke-width="1"/>
<rect x="348.4" y="2119.4" width="90.3" height="30.4" rx="5" fill="#fff" stroke="#111" stroke-width="1.3"/>
<text x="393.5" y="2140.8" font-family="'Liberation Sans', sans-serif" font-size="16.5" font-weight="400" fill="#111" text-anchor="middle" >Router <tspan font-family="'Liberation Serif', serif" font-style="italic" font-size="19">R</tspan></text>
<rect x="361.2" y="2168.6" width="65.1" height="20.2" rx="3" fill="#b1d6ef" stroke="#3f80c0" stroke-width="1.1"/>
<text x="393.8" y="2183.8" font-family="'Liberation Sans', sans-serif" font-size="16" font-weight="400" fill="#111" text-anchor="middle" >Input <tspan font-family="'Liberation Serif', serif" font-style="italic" font-size="18">x</tspan></text>
<line x1="393.8" y1="2168.6" x2="393.8" y2="2154.8" stroke="#111" stroke-width="1.2"/>
<path d="M393.8,2149.8L396.8,2155.8L393.8,2154.3L390.8,2155.8Z" fill="#000"/>
<circle cx="403.1" cy="1993.7" r="12" fill="#f9d9d5" stroke="#b85450" stroke-width="1.3"/>
<path d="M398.6,1993.7h9M403.1,1989.2v9" stroke="#111" stroke-width="1.5"/>
<line x1="403.1" y1="1981.7" x2="403.1" y2="1967.9" stroke="#111" stroke-width="1.3"/>
<path d="M403.1,1962.9L408.6,1973.9L403.1,1971.2L397.6,1973.9Z" fill="#000"/>
<text x="359.0" y="1997.4" font-family="'Liberation Serif', serif" font-size="18" font-weight="400" fill="#111" ><tspan font-style="italic">y</tspan><tspan font-size="12" baseline-shift="-3">2</tspan></text>
<text x="324.4" y="2018.1" font-family="'Liberation Serif', serif" font-size="19" font-weight="400" fill="#111" ><tspan font-style="italic">K</tspan><tspan font-size="13" baseline-shift="-5" >2</tspan></text>
<text x="463.5" y="1982.6" font-family="'Liberation Serif', serif" font-size="19" font-weight="400" fill="#111" ><tspan font-style="italic">L</tspan><tspan font-size="24">×</tspan></text>
<path d="M338.7,2030.7 C338.7,2017.8 397.5,2017.8 397.5,2010.0" fill="none" stroke="#111" stroke-width="1.2"/>
<path d="M397.5,2005.0L401.0,2012.0L397.5,2010.2L394.0,2012.0Z" fill="#000"/>
<path d="M368.8,2030.7 C368.8,2018.3 404.0,2018.3 404.0,2011.0" fill="none" stroke="#111" stroke-width="1.2"/>
<path d="M404.0,2006.0L407.5,2013.0L404.0,2011.2L400.5,2013.0Z" fill="#000"/>
<path d="M373.6,2089.7 C373.6,2075.3 338.7,2075.3 338.7,2065.9" fill="none" stroke="#111" stroke-width="1.2"/>
<path d="M338.7,2060.9L342.2,2067.9L338.7,2066.2L335.2,2067.9Z" fill="#000"/>
<path d="M383.5,2099.6 C383.5,2080.2 368.8,2080.2 368.8,2065.9" fill="none" stroke="#111" stroke-width="1.2"/>
<path d="M368.8,2060.9L372.3,2067.9L368.8,2066.2L365.3,2067.9Z" fill="#000"/>
<text x="365.4" y="2226.0" font-family="'Liberation Sans', sans-serif" font-size="17" font-weight="400" fill="#111" textLength="58.8" lengthAdjust="spacingAndGlyphs" >Client <tspan font-family="'Liberation Serif', serif">2</tspan></text>
<rect x="573.8" y="1961.8" width="192.5" height="241.1" fill="none" stroke="#eed6d6" stroke-width="7"/>
<rect x="587.5" y="2032.9" width="29.9" height="30.3" rx="4" fill="#f8cecc" stroke="#b85450" stroke-width="1.1"/>
<text x="600.0" y="2054.7" font-family="'Liberation Serif', serif" font-size="20" font-weight="400" fill="#111" text-anchor="middle" ><tspan font-style="italic">E</tspan><tspan font-size="12" baseline-shift="-4" font-style="normal">1</tspan></text>
<rect x="618.6" y="2032.9" width="29.6" height="30.3" rx="4" fill="#f8cecc" stroke="#b85450" stroke-width="1.1"/>
<text x="630.9" y="2054.7" font-family="'Liberation Serif', serif" font-size="20" font-weight="400" fill="#111" text-anchor="middle" ><tspan font-style="italic">E</tspan><tspan font-size="12" baseline-shift="-4" font-style="normal">2</tspan></text>
<rect x="649.6" y="2032.9" width="28.9" height="30.3" rx="4" fill="#e8edf2" stroke="#b4c2d2" stroke-width="1.1"/>
<text x="661.5" y="2054.7" font-family="'Liberation Serif', serif" font-size="20" font-weight="400" fill="#111" text-anchor="middle" ><tspan font-style="italic">E</tspan><tspan font-size="12" baseline-shift="-4" font-style="normal">3</tspan></text>
<rect x="679.5" y="2032.9" width="29.5" height="30.3" rx="4" fill="#f8cecc" stroke="#b85450" stroke-width="1.1"/>
<text x="691.8" y="2054.7" font-family="'Liberation Serif', serif" font-size="20" font-weight="400" fill="#111" text-anchor="middle" ><tspan font-style="italic">E</tspan><tspan font-size="12" baseline-shift="-4" font-style="normal">4</tspan></text>
<rect x="719.5" y="2032.9" width="30.8" height="30.3" rx="4" fill="#f8cecc" stroke="#b85450" stroke-width="1.1"/>
<text x="732.4" y="2054.7" font-family="'Liberation Serif', serif" font-size="20" font-weight="400" fill="#111" text-anchor="middle" ><tspan font-style="italic">E</tspan><tspan font-size="12" baseline-shift="-4" font-style="italic">M</tspan></text>
<text x="714.2" y="2055.2" font-family="'Liberation Serif', serif" font-size="14" font-weight="400" fill="#111" text-anchor="middle" >...</text>
<rect x="633.6" y="2092.8" width="9.6" height="30.3" fill="#f8cecc" stroke="#b85450" stroke-width="1"/>
<rect x="643.2" y="2103.1" width="10.4" height="20.0" fill="#f8cecc" stroke="#b85450" stroke-width="1"/>
<rect x="653.6" y="2113.1" width="9.9" height="10.0" fill="#e8edf2" stroke="#b4c2d2" stroke-width="1"/>
<rect x="663.5" y="2082.3" width="11.0" height="40.8" fill="#f8cecc" stroke="#b85450" stroke-width="1"/>
<rect x="674.5" y="2113.1" width="9.5" height="10.0" fill="#e8edf2" stroke="#b4c2d2" stroke-width="1"/>
<rect x="683.5" y="2091.5" width="11.0" height="31.6" fill="#f8cecc" stroke="#b85450" stroke-width="1"/>
<rect x="612.9" y="2123.1" width="91.6" height="30.3" rx="5" fill="#fff" stroke="#111" stroke-width="1.3"/>
<text x="658.7" y="2144.4" font-family="'Liberation Sans', sans-serif" font-size="16.5" font-weight="400" fill="#111" text-anchor="middle" >Router <tspan font-family="'Liberation Serif', serif" font-style="italic" font-size="19">R</tspan></text>
<rect x="625.3" y="2173.4" width="67.0" height="20.5" rx="3" fill="#b1d6ef" stroke="#3f80c0" stroke-width="1.1"/>
<text x="658.8" y="2188.9" font-family="'Liberation Sans', sans-serif" font-size="16" font-weight="400" fill="#111" text-anchor="middle" >Input <tspan font-family="'Liberation Serif', serif" font-style="italic" font-size="18">x</tspan></text>
<line x1="658.8" y1="2173.4" x2="658.8" y2="2158.4" stroke="#111" stroke-width="1.2"/>
<path d="M658.8,2153.4L661.8,2159.4L658.8,2157.9L655.8,2159.4Z" fill="#000"/>
<circle cx="669.9" cy="1994.1" r="12" fill="#f9d9d5" stroke="#b85450" stroke-width="1.3"/>
<path d="M665.4,1994.1h9M669.9,1989.6v9" stroke="#111" stroke-width="1.5"/>
<line x1="669.9" y1="1982.1" x2="669.9" y2="1967.3" stroke="#111" stroke-width="1.3"/>
<path d="M669.9,1962.3L675.4,1973.3L669.9,1970.5L664.4,1973.3Z" fill="#000"/>
<text x="628.3" y="1995.8" font-family="'Liberation Serif', serif" font-size="18" font-weight="400" fill="#111" ><tspan font-style="italic">y</tspan><tspan font-size="12" baseline-shift="-3">C</tspan></text>
<text x="590.8" y="2013.2" font-family="'Liberation Serif', serif" font-size="19" font-weight="400" fill="#111" ><tspan font-style="italic">K</tspan><tspan font-size="13" baseline-shift="-5" font-style="italic">C</tspan></text>
<text x="734.0" y="1984.1" font-family="'Liberation Serif', serif" font-size="19" font-weight="400" fill="#111" ><tspan font-style="italic">L</tspan><tspan font-size="24">×</tspan></text>
<path d="M602.5,2032.9 C602.5,2020.0 662.0,2020.0 662.0,2012.0" fill="none" stroke="#111" stroke-width="1.2"/>
<path d="M662.0,2007.0L665.5,2014.0L662.0,2012.2L658.5,2014.0Z" fill="#000"/>
<path d="M633.4,2032.9 C633.4,2020.2 669.9,2020.2 669.9,2012.5" fill="none" stroke="#111" stroke-width="1.2"/>
<path d="M669.9,2007.5L673.4,2014.5L669.9,2012.8L666.4,2014.5Z" fill="#000"/>
<path d="M694.3,2032.9 C694.3,2020.2 669.9,2020.2 669.9,2012.5" fill="none" stroke="#111" stroke-width="1.2"/>
<path d="M669.9,2007.5L673.4,2014.5L669.9,2012.8L666.4,2014.5Z" fill="#000"/>
<path d="M735.0,2032.9 C735.0,2020.0 678.0,2020.0 678.0,2012.0" fill="none" stroke="#111" stroke-width="1.2"/>
<path d="M678.0,2007.0L681.5,2014.0L678.0,2012.2L674.5,2014.0Z" fill="#000"/>
<path d="M638.4,2092.8 C638.4,2078.2 602.5,2078.2 602.5,2068.6" fill="none" stroke="#111" stroke-width="1.2"/>
<path d="M602.5,2063.6L606.0,2070.6L602.5,2068.8L599.0,2070.6Z" fill="#000"/>
<path d="M648.4,2103.1 C648.4,2083.3 633.4,2083.3 633.4,2068.6" fill="none" stroke="#111" stroke-width="1.2"/>
<path d="M633.4,2063.6L636.9,2070.6L633.4,2068.8L629.9,2070.6Z" fill="#000"/>
<path d="M669.0,2082.3 C669.0,2072.9 694.3,2072.9 694.3,2068.6" fill="none" stroke="#111" stroke-width="1.2"/>
<path d="M694.3,2063.6L697.8,2070.6L694.3,2068.8L690.8,2070.6Z" fill="#000"/>
<path d="M689.0,2091.5 C689.0,2077.6 735.0,2077.6 735.0,2068.6" fill="none" stroke="#111" stroke-width="1.2"/>
<path d="M735.0,2063.6L738.5,2070.6L735.0,2068.8L731.5,2070.6Z" fill="#000"/>
<text x="629.9" y="2224.7" font-family="'Liberation Sans', sans-serif" font-size="17" font-weight="400" fill="#111" textLength="65.8" lengthAdjust="spacingAndGlyphs" >Client <tspan font-family="'Liberation Serif', serif" font-style="italic">C</tspan></text>
<text x="542.9" y="2094.0" font-family="'Liberation Serif', serif" font-size="16" font-weight="400" fill="#111" text-anchor="middle" >. . .</text>
<rect x="246.6" y="2169.5" width="24.2" height="42.3" rx="4.5" fill="#fff" stroke="#111" stroke-width="1.6"/>
<path d="M253.5,2170.2 h10.5 v1.8 a1.5,1.5 0 0 1 -1.5,1.5 h-7.5 a1.5,1.5 0 0 1 -1.5,-1.5z" fill="none" stroke="#111" stroke-width="1.2"/><path d="M254.5,2207.2h8.5" stroke="#111" stroke-width="1.5"/>
<rect x="479.8" y="2173.3" width="46.4" height="31.5" rx="2.5" fill="#fff" stroke="#111" stroke-width="1.7"/>
<path d="M474.6,2205.1 H531.5 V2208 a2.5,2.5 0 0 1 -2.5,2.5 H477.1 a2.5,2.5 0 0 1 -2.5,-2.5Z" fill="#fff" stroke="#111" stroke-width="1.7"/><path d="M497,2205.8h12" stroke="#111" stroke-width="1.2"/>
<rect x="746.3" y="2172.9" width="45.7" height="35.5" rx="2" fill="#fff" stroke="#111" stroke-width="1.7"/>
<path d="M746.3,2202.2H792" stroke="#111" stroke-width="1.5"/><path d="M766,2208.4v5.3 M757,2214.5h19" stroke="#111" stroke-width="2.2"/>
<rect x="797.4" y="2172.9" width="20.3" height="43.6" rx="2" fill="#fff" stroke="#111" stroke-width="1.7"/>
<path d="M797.4,2177.3h20.3" stroke="#111" stroke-width="1.4"/><circle cx="807.5" cy="2192" r="2" fill="none" stroke="#111" stroke-width="1.4"/><path d="M801.5,2202.5h12M801.5,2205.5h12M801.5,2208.5h12" stroke="#111" stroke-width="1.3"/>
</svg>
</body></html>
